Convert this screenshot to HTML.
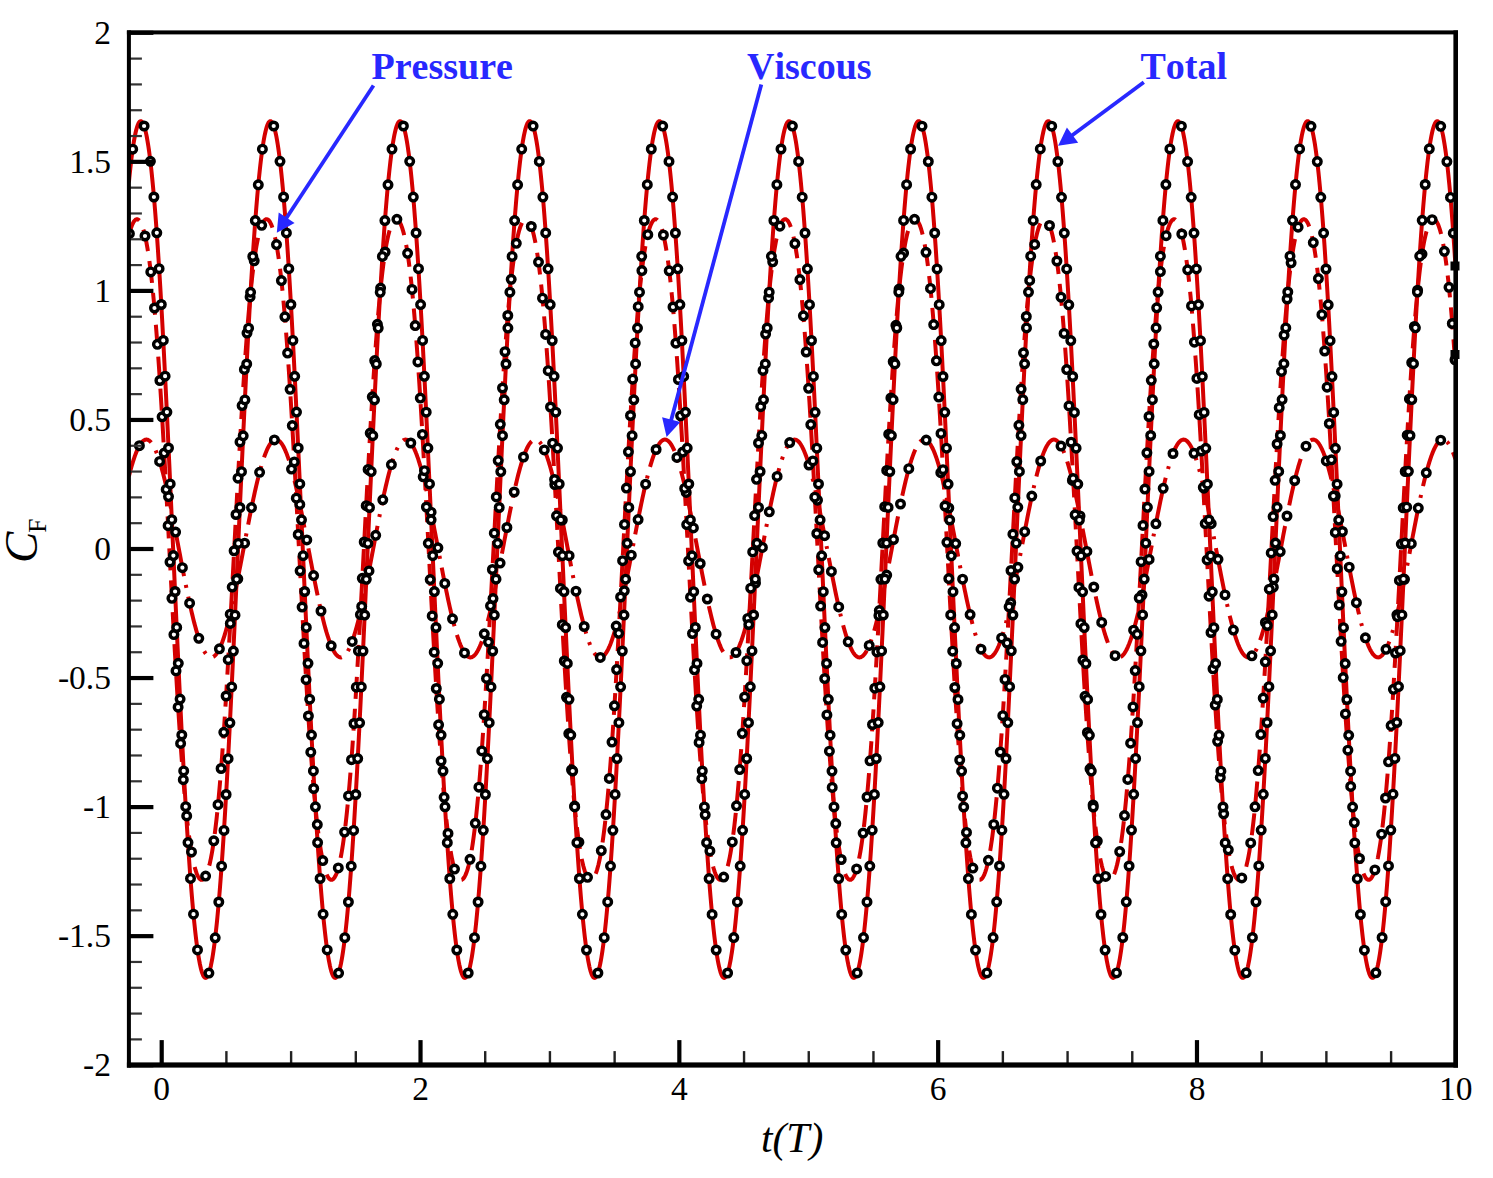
<!DOCTYPE html>
<html><head><meta charset="utf-8"><style>
html,body{margin:0;padding:0;background:#fff;}
body{width:1493px;height:1178px;position:relative;overflow:hidden;font-family:"Liberation Serif",serif;}
.yl{position:absolute;right:1382px;width:80px;text-align:right;font-size:33.5px;line-height:0;color:#000;}
.xl{position:absolute;top:1089px;width:200px;text-align:center;font-size:33.5px;line-height:0;color:#000;}
.ann{position:absolute;font-kerning:none;font-weight:bold;font-size:38.0px;line-height:0;color:#2828ff;letter-spacing:0px;}
</style></head><body>
<svg width="1493" height="1178" viewBox="0 0 1493 1178" style="position:absolute;left:0;top:0;filter:blur(0.5px)">
<defs><clipPath id="cp"><rect x="128.9" y="32.4" width="1326.7" height="1032.2"/></clipPath></defs>
<g id="plotall">
<g clip-path="url(#cp)">
<path d="M128.9 476.3L129.4 474.3L129.9 472.4L130.4 470.5L130.9 468.7L131.4 467.0L131.9 465.2L132.4 463.6L132.9 461.9L133.4 460.4L133.9 458.8L134.4 457.4L134.9 455.9L135.4 454.6L135.9 453.3L136.4 452.0L136.9 450.8L137.4 449.7L137.9 448.6L138.4 447.6L138.9 446.6L139.4 445.7L139.9 444.9L140.4 444.1L140.9 443.4L141.4 442.7L141.9 442.1L142.4 441.6L142.9 441.1L143.4 440.7L143.9 440.4L144.4 440.1L144.9 439.9L145.4 439.7L145.9 439.6L146.4 439.6L146.9 439.6L147.4 439.7L147.9 439.9L148.4 440.1L148.9 440.4L149.4 440.8L149.9 441.2L150.4 441.7L150.9 442.2L151.4 442.8L151.9 443.5L152.4 444.3L152.9 445.0L153.4 445.9L153.9 446.8L154.4 447.8L154.9 448.8L155.4 449.9L155.9 451.1L156.4 452.3L156.9 453.5L157.4 454.8L157.9 456.2L158.4 457.6L158.9 459.1L159.4 460.7L159.9 462.3L160.4 463.9L160.9 465.6L161.4 467.3L161.9 469.1L162.4 470.9L162.9 472.8L163.4 474.7L163.9 476.7L164.4 478.7L164.9 480.7L165.4 482.8L165.9 484.9L166.4 487.1L166.9 489.3L167.4 491.5L167.9 493.8L168.4 496.1L168.9 498.4L169.4 500.8L169.9 503.2L170.4 505.6L170.9 508.0L171.4 510.5L171.9 512.9L172.4 515.5L172.9 518.0L173.4 520.5L173.9 523.1L174.4 525.6L174.9 528.2L175.4 530.8L175.9 533.4L176.4 536.1L176.9 538.7L177.4 541.3L177.9 543.9L178.4 546.6L178.9 549.2L179.4 551.9L179.9 554.5L180.4 557.1L180.9 559.8L181.4 562.4L181.9 565.0L182.4 567.6L182.9 570.2L183.4 572.8L183.9 575.3L184.4 577.9L184.9 580.4L185.4 582.9L185.9 585.4L186.4 587.9L186.9 590.3L187.4 592.8L187.9 595.2L188.4 597.5L188.9 599.9L189.4 602.2L189.9 604.5L190.4 606.7L190.9 608.9L191.4 611.1L191.9 613.2L192.4 615.3L192.9 617.4L193.4 619.4L193.9 621.4L194.4 623.4L194.9 625.2L195.4 627.1L195.9 628.9L196.4 630.7L196.9 632.4L197.4 634.0L197.9 635.6L198.4 637.2L198.9 638.7L199.4 640.1L199.9 641.5L200.4 642.9L200.9 644.2L201.4 645.4L201.9 646.6L202.4 647.7L202.9 648.8L203.4 649.8L203.9 650.7L204.4 651.6L204.9 652.4L205.4 653.2L205.9 653.9L206.4 654.5L206.9 655.1L207.4 655.6L207.9 656.0L208.4 656.4L208.9 656.7L209.4 657.0L209.9 657.2L210.4 657.3L210.9 657.4L211.4 657.4L211.9 657.3L212.4 657.2L212.9 657.0L213.4 656.8L213.9 656.4L214.4 656.1L214.9 655.6L215.4 655.1L215.9 654.6L216.4 653.9L216.9 653.2L217.4 652.5L217.9 651.7L218.4 650.8L218.9 649.9L219.4 648.9L219.9 647.8L220.4 646.7L220.9 645.5L221.4 644.3L221.9 643.0L222.4 641.7L222.9 640.3L223.4 638.8L223.9 637.3L224.4 635.8L224.9 634.2L225.4 632.5L225.9 630.8L226.4 629.1L226.9 627.3L227.4 625.4L227.9 623.5L228.4 621.6L228.9 619.6L229.4 617.6L229.9 615.6L230.4 613.5L230.9 611.3L231.4 609.1L231.9 606.9L232.4 604.7L232.9 602.4L233.4 600.1L233.9 597.8L234.4 595.4L234.9 593.0L235.4 590.6L235.9 588.1L236.4 585.7L236.9 583.2L237.4 580.7L237.9 578.1L238.4 575.6L238.9 573.0L239.4 570.4L239.9 567.9L240.4 565.3L240.9 562.6L241.4 560.0L241.9 557.4L242.4 554.8L242.9 552.1L243.4 549.5L243.9 546.9L244.4 544.2L244.9 541.6L245.4 538.9L245.9 536.3L246.4 533.7L246.9 531.1L247.4 528.5L247.9 525.9L248.4 523.3L248.9 520.8L249.4 518.2L249.9 515.7L250.4 513.2L250.9 510.7L251.4 508.2L251.9 505.8L252.4 503.4L252.9 501.0L253.4 498.6L253.9 496.3L254.4 494.0L254.9 491.7L255.4 489.5L255.9 487.3L256.4 485.1L256.9 483.0L257.4 480.9L257.9 478.9L258.4 476.9L258.9 474.9L259.4 473.0L259.9 471.1L260.4 469.3L260.9 467.5L261.4 465.7L261.9 464.1L262.4 462.4L262.9 460.8L263.4 459.3L263.9 457.8L264.4 456.4L264.9 455.0L265.4 453.7L265.9 452.4L266.4 451.2L266.9 450.0L267.4 448.9L267.9 447.9L268.4 446.9L268.9 446.0L269.4 445.1L269.9 444.3L270.4 443.6L270.9 442.9L271.4 442.3L271.9 441.7L272.4 441.3L272.9 440.8L273.4 440.5L273.9 440.2L274.4 439.9L274.9 439.8L275.4 439.6L275.9 439.6L276.4 439.6L276.9 439.7L277.4 439.9L277.9 440.1L278.4 440.3L278.9 440.7L279.4 441.1L279.9 441.5L280.4 442.1L280.9 442.7L281.4 443.3L281.9 444.0L282.4 444.8L282.9 445.6L283.4 446.5L283.9 447.5L284.4 448.5L284.9 449.6L285.4 450.7L285.9 451.9L286.4 453.1L286.9 454.4L287.4 455.8L287.9 457.2L288.4 458.7L288.9 460.2L289.4 461.8L289.9 463.4L290.4 465.1L290.9 466.8L291.4 468.5L291.9 470.4L292.4 472.2L292.9 474.1L293.4 476.1L293.9 478.1L294.4 480.1L294.9 482.2L295.4 484.3L295.9 486.4L296.4 488.6L296.9 490.8L297.4 493.1L297.9 495.4L298.4 497.7L298.9 500.1L299.4 502.4L299.9 504.8L300.4 507.3L300.9 509.7L301.4 512.2L301.9 514.7L302.4 517.2L302.9 519.8L303.4 522.3L303.9 524.9L304.4 527.5L304.9 530.1L305.4 532.7L305.9 535.3L306.4 537.9L306.9 540.5L307.4 543.2L307.9 545.8L308.4 548.4L308.9 551.1L309.4 553.7L309.9 556.3L310.4 559.0L310.9 561.6L311.4 564.2L311.9 566.8L312.4 569.4L312.9 572.0L313.4 574.6L313.9 577.1L314.4 579.7L314.9 582.2L315.4 584.7L315.9 587.2L316.4 589.6L316.9 592.0L317.4 594.4L317.9 596.8L318.4 599.2L318.9 601.5L319.4 603.8L319.9 606.0L320.4 608.3L320.9 610.5L321.4 612.6L321.9 614.7L322.4 616.8L322.9 618.8L323.4 620.8L323.9 622.8L324.4 624.7L324.9 626.5L325.4 628.4L325.9 630.1L326.4 631.9L326.9 633.5L327.4 635.2L327.9 636.7L328.4 638.2L328.9 639.7L329.4 641.1L329.9 642.5L330.4 643.8L330.9 645.0L331.4 646.2L331.9 647.4L332.4 648.4L332.9 649.5L333.4 650.4L333.9 651.3L334.4 652.2L334.9 652.9L335.4 653.7L335.9 654.3L336.4 654.9L336.9 655.4L337.4 655.9L337.9 656.3L338.4 656.6L338.9 656.9L339.4 657.1L339.9 657.3L340.4 657.4L340.9 657.4L341.4 657.4L341.9 657.2L342.4 657.1L342.9 656.8L343.4 656.6L343.9 656.2L344.4 655.8L344.9 655.3L345.4 654.7L345.9 654.1L346.4 653.4L346.9 652.7L347.4 651.9L347.9 651.1L348.4 650.1L348.9 649.2L349.4 648.1L349.9 647.0L350.4 645.9L350.9 644.7L351.4 643.4L351.9 642.1L352.4 640.7L352.9 639.3L353.4 637.8L353.9 636.3L354.4 634.7L354.9 633.0L355.4 631.3L355.9 629.6L356.4 627.8L356.9 626.0L357.4 624.1L357.9 622.2L358.4 620.2L358.9 618.2L359.4 616.2L359.9 614.1L360.4 612.0L360.9 609.8L361.4 607.6L361.9 605.4L362.4 603.1L362.9 600.8L363.4 598.5L363.9 596.1L364.4 593.7L364.9 591.3L365.4 588.9L365.9 586.4L366.4 583.9L366.9 581.4L367.4 578.9L367.9 576.4L368.4 573.8L368.9 571.2L369.4 568.6L369.9 566.0L370.4 563.4L370.9 560.8L371.4 558.2L371.9 555.6L372.4 552.9L372.9 550.3L373.4 547.6L373.9 545.0L374.4 542.4L374.9 539.7L375.4 537.1L375.9 534.5L376.4 531.9L376.9 529.3L377.4 526.7L377.9 524.1L378.4 521.5L378.9 519.0L379.4 516.5L379.9 513.9L380.4 511.5L380.9 509.0L381.4 506.5L381.9 504.1L382.4 501.7L382.9 499.3L383.4 497.0L383.9 494.7L384.4 492.4L384.9 490.2L385.4 488.0L385.9 485.8L386.4 483.7L386.9 481.6L387.4 479.5L387.9 477.5L388.4 475.5L388.9 473.6L389.4 471.7L389.9 469.8L390.4 468.0L390.9 466.3L391.4 464.6L391.9 462.9L392.4 461.3L392.9 459.7L393.4 458.2L393.9 456.8L394.4 455.4L394.9 454.0L395.4 452.8L395.9 451.5L396.4 450.4L396.9 449.2L397.4 448.2L397.9 447.2L398.4 446.3L398.9 445.4L399.4 444.6L399.9 443.8L400.4 443.1L400.9 442.5L401.4 441.9L401.9 441.4L402.4 441.0L402.9 440.6L403.4 440.2L403.9 440.0L404.4 439.8L404.9 439.7L405.4 439.6L405.9 439.6L406.4 439.7L406.9 439.8L407.4 440.0L407.9 440.2L408.4 440.6L408.9 441.0L409.4 441.4L409.9 441.9L410.4 442.5L410.9 443.1L411.4 443.8L411.9 444.6L412.4 445.4L412.9 446.3L413.4 447.2L413.9 448.2L414.4 449.2L414.9 450.4L415.4 451.5L415.9 452.8L416.4 454.0L416.9 455.4L417.4 456.8L417.9 458.2L418.4 459.7L418.9 461.3L419.4 462.9L419.9 464.6L420.4 466.3L420.9 468.0L421.4 469.8L421.9 471.7L422.4 473.6L422.9 475.5L423.4 477.5L423.9 479.5L424.4 481.6L424.9 483.7L425.4 485.8L425.9 488.0L426.4 490.2L426.9 492.4L427.4 494.7L427.9 497.0L428.4 499.3L428.9 501.7L429.4 504.1L429.9 506.5L430.4 509.0L430.9 511.5L431.4 513.9L431.9 516.5L432.4 519.0L432.9 521.5L433.4 524.1L433.9 526.7L434.4 529.3L434.9 531.9L435.4 534.5L435.9 537.1L436.4 539.7L436.9 542.4L437.4 545.0L437.9 547.6L438.4 550.3L438.9 552.9L439.4 555.6L439.9 558.2L440.4 560.8L440.9 563.4L441.4 566.0L441.9 568.6L442.4 571.2L442.9 573.8L443.4 576.4L443.9 578.9L444.4 581.4L444.9 583.9L445.4 586.4L445.9 588.9L446.4 591.3L446.9 593.7L447.4 596.1L447.9 598.5L448.4 600.8L448.9 603.1L449.4 605.4L449.9 607.6L450.4 609.8L450.9 612.0L451.4 614.1L451.9 616.2L452.4 618.2L452.9 620.2L453.4 622.2L453.9 624.1L454.4 626.0L454.9 627.8L455.4 629.6L455.9 631.3L456.4 633.0L456.9 634.7L457.4 636.3L457.9 637.8L458.4 639.3L458.9 640.7L459.4 642.1L459.9 643.4L460.4 644.7L460.9 645.9L461.4 647.0L461.9 648.1L462.4 649.2L462.9 650.1L463.4 651.1L463.9 651.9L464.4 652.7L464.9 653.4L465.4 654.1L465.9 654.7L466.4 655.3L466.9 655.8L467.4 656.2L467.9 656.6L468.4 656.8L468.9 657.1L469.4 657.2L469.9 657.4L470.4 657.4L470.9 657.4L471.4 657.3L471.9 657.1L472.4 656.9L472.9 656.6L473.4 656.3L473.9 655.9L474.4 655.4L474.9 654.9L475.4 654.3L475.9 653.7L476.4 652.9L476.9 652.2L477.4 651.3L477.9 650.4L478.4 649.5L478.9 648.4L479.4 647.4L479.9 646.2L480.4 645.0L480.9 643.8L481.4 642.5L481.9 641.1L482.4 639.7L482.9 638.2L483.4 636.7L483.9 635.2L484.4 633.5L484.9 631.9L485.4 630.1L485.9 628.4L486.4 626.5L486.9 624.7L487.4 622.8L487.9 620.8L488.4 618.8L488.9 616.8L489.4 614.7L489.9 612.6L490.4 610.5L490.9 608.3L491.4 606.0L491.9 603.8L492.4 601.5L492.9 599.2L493.4 596.8L493.9 594.4L494.4 592.0L494.9 589.6L495.4 587.2L495.9 584.7L496.4 582.2L496.9 579.7L497.4 577.1L497.9 574.6L498.4 572.0L498.9 569.4L499.4 566.8L499.9 564.2L500.4 561.6L500.9 559.0L501.4 556.3L501.9 553.7L502.4 551.1L502.9 548.4L503.4 545.8L503.9 543.2L504.4 540.5L504.9 537.9L505.4 535.3L505.9 532.7L506.4 530.1L506.9 527.5L507.4 524.9L507.9 522.3L508.4 519.8L508.9 517.2L509.4 514.7L509.9 512.2L510.4 509.7L510.9 507.3L511.4 504.8L511.9 502.4L512.4 500.1L512.9 497.7L513.4 495.4L513.9 493.1L514.4 490.8L514.9 488.6L515.4 486.4L515.9 484.3L516.4 482.2L516.9 480.1L517.4 478.1L517.9 476.1L518.4 474.1L518.9 472.2L519.4 470.4L519.9 468.5L520.4 466.8L520.9 465.1L521.4 463.4L521.9 461.8L522.4 460.2L522.9 458.7L523.4 457.2L523.9 455.8L524.4 454.4L524.9 453.1L525.4 451.9L525.9 450.7L526.4 449.6L526.9 448.5L527.4 447.5L527.9 446.5L528.4 445.6L528.9 444.8L529.4 444.0L529.9 443.3L530.4 442.7L530.9 442.1L531.4 441.5L531.9 441.1L532.4 440.7L532.9 440.3L533.4 440.1L533.9 439.9L534.4 439.7L534.9 439.6L535.4 439.6L535.9 439.6L536.4 439.8L536.9 439.9L537.4 440.2L537.9 440.5L538.4 440.8L538.9 441.3L539.4 441.7L539.9 442.3L540.4 442.9L540.9 443.6L541.4 444.3L541.9 445.1L542.4 446.0L542.9 446.9L543.4 447.9L543.9 448.9L544.4 450.0L544.9 451.2L545.4 452.4L545.9 453.7L546.4 455.0L546.9 456.4L547.4 457.8L547.9 459.3L548.4 460.8L548.9 462.4L549.4 464.1L549.9 465.7L550.4 467.5L550.9 469.3L551.4 471.1L551.9 473.0L552.4 474.9L552.9 476.9L553.4 478.9L553.9 480.9L554.4 483.0L554.9 485.1L555.4 487.3L555.9 489.5L556.4 491.7L556.9 494.0L557.4 496.3L557.9 498.6L558.4 501.0L558.9 503.4L559.4 505.8L559.9 508.2L560.4 510.7L560.9 513.2L561.4 515.7L561.9 518.2L562.4 520.8L562.9 523.3L563.4 525.9L563.9 528.5L564.4 531.1L564.9 533.7L565.4 536.3L565.9 538.9L566.4 541.6L566.9 544.2L567.4 546.9L567.9 549.5L568.4 552.1L568.9 554.8L569.4 557.4L569.9 560.0L570.4 562.6L570.9 565.3L571.4 567.9L571.9 570.4L572.4 573.0L572.9 575.6L573.4 578.1L573.9 580.7L574.4 583.2L574.9 585.7L575.4 588.1L575.9 590.6L576.4 593.0L576.9 595.4L577.4 597.8L577.9 600.1L578.4 602.4L578.9 604.7L579.4 606.9L579.9 609.1L580.4 611.3L580.9 613.5L581.4 615.6L581.9 617.6L582.4 619.6L582.9 621.6L583.4 623.5L583.9 625.4L584.4 627.3L584.9 629.1L585.4 630.8L585.9 632.5L586.4 634.2L586.9 635.8L587.4 637.3L587.9 638.8L588.4 640.3L588.9 641.7L589.4 643.0L589.9 644.3L590.4 645.5L590.9 646.7L591.4 647.8L591.9 648.9L592.4 649.9L592.9 650.8L593.4 651.7L593.9 652.5L594.4 653.2L594.9 653.9L595.4 654.6L595.9 655.1L596.4 655.6L596.9 656.1L597.4 656.4L597.9 656.8L598.4 657.0L598.9 657.2L599.4 657.3L599.9 657.4L600.4 657.4L600.9 657.3L601.4 657.2L601.9 657.0L602.4 656.7L602.9 656.4L603.4 656.0L603.9 655.6L604.4 655.1L604.9 654.5L605.4 653.9L605.9 653.2L606.4 652.4L606.9 651.6L607.4 650.7L607.9 649.8L608.4 648.8L608.9 647.7L609.4 646.6L609.9 645.4L610.4 644.2L610.9 642.9L611.4 641.5L611.9 640.1L612.4 638.7L612.9 637.2L613.4 635.6L613.9 634.0L614.4 632.4L614.9 630.7L615.4 628.9L615.9 627.1L616.4 625.2L616.9 623.4L617.4 621.4L617.9 619.4L618.4 617.4L618.9 615.3L619.4 613.2L619.9 611.1L620.4 608.9L620.9 606.7L621.4 604.5L621.9 602.2L622.4 599.9L622.9 597.5L623.4 595.2L623.9 592.8L624.4 590.3L624.9 587.9L625.4 585.4L625.9 582.9L626.4 580.4L626.9 577.9L627.4 575.3L627.9 572.8L628.4 570.2L628.9 567.6L629.4 565.0L629.9 562.4L630.4 559.8L630.9 557.1L631.4 554.5L631.9 551.9L632.4 549.2L632.9 546.6L633.4 543.9L633.9 541.3L634.4 538.7L634.9 536.1L635.4 533.4L635.9 530.8L636.4 528.2L636.9 525.6L637.4 523.1L637.9 520.5L638.4 518.0L638.9 515.5L639.4 512.9L639.9 510.5L640.4 508.0L640.9 505.6L641.4 503.2L641.9 500.8L642.4 498.4L642.9 496.1L643.4 493.8L643.9 491.5L644.4 489.3L644.9 487.1L645.4 484.9L645.9 482.8L646.4 480.7L646.9 478.7L647.4 476.7L647.9 474.7L648.4 472.8L648.9 470.9L649.4 469.1L649.9 467.3L650.4 465.6L650.9 463.9L651.4 462.3L651.9 460.7L652.4 459.1L652.9 457.6L653.4 456.2L653.9 454.8L654.4 453.5L654.9 452.3L655.4 451.1L655.9 449.9L656.4 448.8L656.9 447.8L657.4 446.8L657.9 445.9L658.4 445.0L658.9 444.3L659.4 443.5L659.9 442.8L660.4 442.2L660.9 441.7L661.4 441.2L661.9 440.8L662.4 440.4L662.9 440.1L663.4 439.9L663.9 439.7L664.4 439.6L664.9 439.6L665.4 439.6L665.9 439.7L666.4 439.9L666.9 440.1L667.4 440.4L667.9 440.7L668.4 441.1L668.9 441.6L669.4 442.1L669.9 442.7L670.4 443.4L670.9 444.1L671.4 444.9L671.9 445.7L672.4 446.6L672.9 447.6L673.4 448.6L673.9 449.7L674.4 450.8L674.9 452.0L675.4 453.3L675.9 454.6L676.4 455.9L676.9 457.4L677.4 458.8L677.9 460.4L678.4 461.9L678.9 463.6L679.4 465.2L679.9 467.0L680.4 468.7L680.9 470.5L681.4 472.4L681.9 474.3L682.4 476.3L682.9 478.3L683.4 480.3L683.9 482.4L684.4 484.5L684.9 486.7L685.4 488.8L685.9 491.1L686.4 493.3L686.9 495.6L687.4 497.9L687.9 500.3L688.4 502.7L688.9 505.1L689.4 507.5L689.9 510.0L690.4 512.4L690.9 514.9L691.4 517.5L691.9 520.0L692.4 522.6L692.9 525.1L693.4 527.7L693.9 530.3L694.4 532.9L694.9 535.5L695.4 538.2L695.9 540.8L696.4 543.4L696.9 546.1L697.4 548.7L697.9 551.3L698.4 554.0L698.9 556.6L699.4 559.2L699.9 561.9L700.4 564.5L700.9 567.1L701.4 569.7L701.9 572.3L702.4 574.8L702.9 577.4L703.4 579.9L703.9 582.4L704.4 584.9L704.9 587.4L705.4 589.9L705.9 592.3L706.4 594.7L706.9 597.1L707.4 599.4L707.9 601.7L708.4 604.0L708.9 606.3L709.4 608.5L709.9 610.7L710.4 612.8L710.9 614.9L711.4 617.0L711.9 619.0L712.4 621.0L712.9 623.0L713.4 624.9L713.9 626.7L714.4 628.5L714.9 630.3L715.4 632.0L715.9 633.7L716.4 635.3L716.9 636.9L717.4 638.4L717.9 639.9L718.4 641.3L718.9 642.6L719.4 643.9L719.9 645.2L720.4 646.3L720.9 647.5L721.4 648.6L721.9 649.6L722.4 650.5L722.9 651.4L723.4 652.2L723.9 653.0L724.4 653.7L724.9 654.4L725.4 655.0L725.9 655.5L726.4 655.9L726.9 656.3L727.4 656.7L727.9 656.9L728.4 657.2L728.9 657.3L729.4 657.4L729.9 657.4L730.4 657.3L730.9 657.2L731.4 657.1L731.9 656.8L732.4 656.5L732.9 656.2L733.4 655.7L733.9 655.2L734.4 654.7L734.9 654.1L735.4 653.4L735.9 652.6L736.4 651.8L736.9 651.0L737.4 650.0L737.9 649.1L738.4 648.0L738.9 646.9L739.4 645.8L739.9 644.5L740.4 643.3L740.9 641.9L741.4 640.6L741.9 639.1L742.4 637.6L742.9 636.1L743.4 634.5L743.9 632.9L744.4 631.2L744.9 629.4L745.4 627.6L745.9 625.8L746.4 623.9L746.9 622.0L747.4 620.0L747.9 618.0L748.4 616.0L748.9 613.9L749.4 611.7L749.9 609.6L750.4 607.4L750.9 605.1L751.4 602.9L751.9 600.6L752.4 598.2L752.9 595.9L753.4 593.5L753.9 591.1L754.4 588.6L754.9 586.2L755.4 583.7L755.9 581.2L756.4 578.6L756.9 576.1L757.4 573.5L757.9 571.0L758.4 568.4L758.9 565.8L759.4 563.2L759.9 560.5L760.4 557.9L760.9 555.3L761.4 552.7L761.9 550.0L762.4 547.4L762.9 544.7L763.4 542.1L763.9 539.5L764.4 536.8L764.9 534.2L765.4 531.6L765.9 529.0L766.4 526.4L766.9 523.8L767.4 521.3L767.9 518.7L768.4 516.2L768.9 513.7L769.4 511.2L769.9 508.7L770.4 506.3L770.9 503.9L771.4 501.5L771.9 499.1L772.4 496.8L772.9 494.5L773.4 492.2L773.9 490.0L774.4 487.7L774.9 485.6L775.4 483.4L775.9 481.3L776.4 479.3L776.9 477.3L777.4 475.3L777.9 473.4L778.4 471.5L778.9 469.6L779.4 467.8L779.9 466.1L780.4 464.4L780.9 462.7L781.4 461.1L781.9 459.6L782.4 458.1L782.9 456.6L783.4 455.3L783.9 453.9L784.4 452.6L784.9 451.4L785.4 450.2L785.9 449.1L786.4 448.1L786.9 447.1L787.4 446.2L787.9 445.3L788.4 444.5L788.9 443.7L789.4 443.0L789.9 442.4L790.4 441.9L790.9 441.3L791.4 440.9L791.9 440.5L792.4 440.2L792.9 440.0L793.4 439.8L793.9 439.7L794.4 439.6L794.9 439.6L795.4 439.7L795.9 439.8L796.4 440.0L796.9 440.3L797.4 440.6L797.9 441.0L798.4 441.4L798.9 442.0L799.4 442.5L799.9 443.2L800.4 443.9L800.9 444.6L801.4 445.5L801.9 446.3L802.4 447.3L802.9 448.3L803.4 449.4L803.9 450.5L804.4 451.7L804.9 452.9L805.4 454.2L805.9 455.5L806.4 456.9L806.9 458.4L807.4 459.9L807.9 461.5L808.4 463.1L808.9 464.7L809.4 466.4L809.9 468.2L810.4 470.0L810.9 471.8L811.4 473.7L811.9 475.7L812.4 477.7L812.9 479.7L813.4 481.8L813.9 483.9L814.4 486.0L814.9 488.2L815.4 490.4L815.9 492.6L816.4 494.9L816.9 497.2L817.4 499.6L817.9 502.0L818.4 504.4L818.9 506.8L819.4 509.2L819.9 511.7L820.4 514.2L820.9 516.7L821.4 519.2L821.9 521.8L822.4 524.4L822.9 526.9L823.4 529.5L823.9 532.1L824.4 534.7L824.9 537.4L825.4 540.0L825.9 542.6L826.4 545.3L826.9 547.9L827.4 550.5L827.9 553.2L828.4 555.8L828.9 558.4L829.4 561.1L829.9 563.7L830.4 566.3L830.9 568.9L831.4 571.5L831.9 574.1L832.4 576.6L832.9 579.2L833.4 581.7L833.9 584.2L834.4 586.7L834.9 589.1L835.4 591.6L835.9 594.0L836.4 596.4L836.9 598.7L837.4 601.0L837.9 603.3L838.4 605.6L838.9 607.8L839.4 610.0L839.9 612.2L840.4 614.3L840.9 616.4L841.4 618.4L841.9 620.4L842.4 622.4L842.9 624.3L843.4 626.2L843.9 628.0L844.4 629.8L844.9 631.5L845.4 633.2L845.9 634.8L846.4 636.4L846.9 637.9L847.4 639.4L847.9 640.8L848.4 642.2L848.9 643.5L849.4 644.8L849.9 646.0L850.4 647.1L850.9 648.2L851.4 649.3L851.9 650.2L852.4 651.1L852.9 652.0L853.4 652.8L853.9 653.5L854.4 654.2L854.9 654.8L855.4 655.3L855.9 655.8L856.4 656.2L856.9 656.6L857.4 656.9L857.9 657.1L858.4 657.3L858.9 657.4L859.4 657.4L859.9 657.4L860.4 657.3L860.9 657.1L861.4 656.9L861.9 656.6L862.4 656.3L862.9 655.9L863.4 655.4L863.9 654.8L864.4 654.2L864.9 653.6L865.4 652.9L865.9 652.1L866.4 651.2L866.9 650.3L867.4 649.4L867.9 648.3L868.4 647.3L868.9 646.1L869.4 644.9L869.9 643.7L870.4 642.4L870.9 641.0L871.4 639.6L871.9 638.1L872.4 636.6L872.9 635.0L873.4 633.4L873.9 631.7L874.4 630.0L874.9 628.2L875.4 626.4L875.9 624.5L876.4 622.6L876.9 620.6L877.4 618.6L877.9 616.6L878.4 614.5L878.9 612.4L879.4 610.2L879.9 608.0L880.4 605.8L880.9 603.6L881.4 601.3L881.9 598.9L882.4 596.6L882.9 594.2L883.4 591.8L883.9 589.4L884.4 586.9L884.9 584.4L885.4 581.9L885.9 579.4L886.4 576.9L886.9 574.3L887.4 571.7L887.9 569.2L888.4 566.6L888.9 564.0L889.4 561.3L889.9 558.7L890.4 556.1L890.9 553.4L891.4 550.8L891.9 548.2L892.4 545.5L892.9 542.9L893.4 540.3L893.9 537.6L894.4 535.0L894.9 532.4L895.4 529.8L895.9 527.2L896.4 524.6L896.9 522.1L897.4 519.5L897.9 517.0L898.4 514.4L898.9 512.0L899.4 509.5L899.9 507.0L900.4 504.6L900.9 502.2L901.4 499.8L901.9 497.5L902.4 495.2L902.9 492.9L903.4 490.6L903.9 488.4L904.4 486.2L904.9 484.1L905.4 482.0L905.9 479.9L906.4 477.9L906.9 475.9L907.4 473.9L907.9 472.0L908.4 470.2L908.9 468.4L909.4 466.6L909.9 464.9L910.4 463.2L910.9 461.6L911.4 460.0L911.9 458.5L912.4 457.1L912.9 455.7L913.4 454.3L913.9 453.0L914.4 451.8L914.9 450.6L915.4 449.5L915.9 448.4L916.4 447.4L916.9 446.4L917.4 445.5L917.9 444.7L918.4 444.0L918.9 443.2L919.4 442.6L919.9 442.0L920.4 441.5L920.9 441.0L921.4 440.6L921.9 440.3L922.4 440.0L922.9 439.8L923.4 439.7L923.9 439.6L924.4 439.6L924.9 439.7L925.4 439.8L925.9 440.0L926.4 440.2L926.9 440.5L927.4 440.9L927.9 441.3L928.4 441.8L928.9 442.4L929.4 443.0L929.9 443.7L930.4 444.4L930.9 445.2L931.4 446.1L931.9 447.0L932.4 448.0L932.9 449.0L933.4 450.1L933.9 451.3L934.4 452.5L934.9 453.8L935.4 455.1L935.9 456.5L936.4 457.9L936.9 459.4L937.4 461.0L937.9 462.6L938.4 464.2L938.9 465.9L939.4 467.7L939.9 469.5L940.4 471.3L940.9 473.2L941.4 475.1L941.9 477.1L942.4 479.1L942.9 481.1L943.4 483.2L943.9 485.4L944.4 487.5L944.9 489.7L945.4 492.0L945.9 494.2L946.4 496.5L946.9 498.9L947.4 501.2L947.9 503.6L948.4 506.1L948.9 508.5L949.4 511.0L949.9 513.4L950.4 516.0L950.9 518.5L951.4 521.0L951.9 523.6L952.4 526.2L952.9 528.8L953.4 531.4L953.9 534.0L954.4 536.6L954.9 539.2L955.4 541.8L955.9 544.5L956.4 547.1L956.9 549.8L957.4 552.4L957.9 555.0L958.4 557.7L958.9 560.3L959.4 562.9L959.9 565.5L960.4 568.1L960.9 570.7L961.4 573.3L961.9 575.8L962.4 578.4L962.9 580.9L963.4 583.4L963.9 585.9L964.4 588.4L964.9 590.8L965.4 593.2L965.9 595.6L966.4 598.0L966.9 600.3L967.4 602.6L967.9 604.9L968.4 607.2L968.9 609.4L969.4 611.5L969.9 613.7L970.4 615.8L970.9 617.8L971.4 619.8L971.9 621.8L972.4 623.7L972.9 625.6L973.4 627.5L973.9 629.3L974.4 631.0L974.9 632.7L975.4 634.3L975.9 635.9L976.4 637.5L976.9 639.0L977.4 640.4L977.9 641.8L978.4 643.1L978.9 644.4L979.4 645.6L979.9 646.8L980.4 647.9L980.9 649.0L981.4 650.0L981.9 650.9L982.4 651.7L982.9 652.6L983.4 653.3L983.9 654.0L984.4 654.6L984.9 655.2L985.4 655.7L985.9 656.1L986.4 656.5L986.9 656.8L987.4 657.0L987.9 657.2L988.4 657.3L988.9 657.4L989.4 657.4L989.9 657.3L990.4 657.2L990.9 657.0L991.4 656.7L991.9 656.4L992.4 656.0L992.9 655.5L993.4 655.0L993.9 654.4L994.4 653.8L994.9 653.1L995.4 652.3L995.9 651.5L996.4 650.6L996.9 649.7L997.4 648.7L997.9 647.6L998.4 646.5L998.9 645.3L999.4 644.0L999.9 642.8L1000.4 641.4L1000.9 640.0L1001.4 638.5L1001.9 637.0L1002.4 635.5L1002.9 633.9L1003.4 632.2L1003.9 630.5L1004.4 628.7L1004.9 626.9L1005.4 625.1L1005.9 623.2L1006.4 621.2L1006.9 619.2L1007.4 617.2L1007.9 615.1L1008.4 613.0L1008.9 610.9L1009.4 608.7L1009.9 606.5L1010.4 604.2L1010.9 602.0L1011.4 599.6L1011.9 597.3L1012.4 594.9L1012.9 592.5L1013.4 590.1L1013.9 587.6L1014.4 585.2L1014.9 582.7L1015.4 580.2L1015.9 577.6L1016.4 575.1L1016.9 572.5L1017.4 569.9L1017.9 567.3L1018.4 564.7L1018.9 562.1L1019.4 559.5L1019.9 556.9L1020.4 554.2L1020.9 551.6L1021.4 549.0L1021.9 546.3L1022.4 543.7L1022.9 541.1L1023.4 538.4L1023.9 535.8L1024.4 533.2L1024.9 530.6L1025.4 528.0L1025.9 525.4L1026.4 522.8L1026.9 520.3L1027.4 517.7L1027.9 515.2L1028.4 512.7L1028.9 510.2L1029.4 507.8L1029.9 505.3L1030.4 502.9L1030.9 500.5L1031.4 498.2L1031.9 495.9L1032.4 493.6L1032.9 491.3L1033.4 489.1L1033.9 486.9L1034.4 484.7L1034.9 482.6L1035.4 480.5L1035.9 478.5L1036.4 476.5L1036.9 474.5L1037.4 472.6L1037.9 470.7L1038.4 468.9L1038.9 467.1L1039.4 465.4L1039.9 463.7L1040.4 462.1L1040.9 460.5L1041.4 459.0L1041.9 457.5L1042.4 456.1L1042.9 454.7L1043.4 453.4L1043.9 452.1L1044.4 450.9L1044.9 449.8L1045.4 448.7L1045.9 447.7L1046.4 446.7L1046.9 445.8L1047.4 445.0L1047.9 444.2L1048.4 443.4L1048.9 442.8L1049.4 442.2L1049.9 441.6L1050.4 441.2L1050.9 440.8L1051.4 440.4L1051.9 440.1L1052.4 439.9L1052.9 439.7L1053.4 439.6L1053.9 439.6L1054.4 439.6L1054.9 439.7L1055.4 439.9L1055.9 440.1L1056.4 440.4L1056.9 440.8L1057.4 441.2L1057.9 441.6L1058.4 442.2L1058.9 442.8L1059.4 443.4L1059.9 444.2L1060.4 445.0L1060.9 445.8L1061.4 446.7L1061.9 447.7L1062.4 448.7L1062.9 449.8L1063.4 450.9L1063.9 452.1L1064.4 453.4L1064.9 454.7L1065.4 456.1L1065.9 457.5L1066.4 459.0L1066.9 460.5L1067.4 462.1L1067.9 463.7L1068.4 465.4L1068.9 467.1L1069.4 468.9L1069.9 470.7L1070.4 472.6L1070.9 474.5L1071.4 476.5L1071.9 478.5L1072.4 480.5L1072.9 482.6L1073.4 484.7L1073.9 486.9L1074.4 489.1L1074.9 491.3L1075.4 493.6L1075.9 495.9L1076.4 498.2L1076.9 500.5L1077.4 502.9L1077.9 505.3L1078.4 507.8L1078.9 510.2L1079.4 512.7L1079.9 515.2L1080.4 517.7L1080.9 520.3L1081.4 522.8L1081.9 525.4L1082.4 528.0L1082.9 530.6L1083.4 533.2L1083.9 535.8L1084.4 538.4L1084.9 541.1L1085.4 543.7L1085.9 546.3L1086.4 549.0L1086.9 551.6L1087.4 554.2L1087.9 556.9L1088.4 559.5L1088.9 562.1L1089.4 564.7L1089.9 567.3L1090.4 569.9L1090.9 572.5L1091.4 575.1L1091.9 577.6L1092.4 580.2L1092.9 582.7L1093.4 585.2L1093.9 587.6L1094.4 590.1L1094.9 592.5L1095.4 594.9L1095.9 597.3L1096.4 599.6L1096.9 602.0L1097.4 604.2L1097.9 606.5L1098.4 608.7L1098.9 610.9L1099.4 613.0L1099.9 615.1L1100.4 617.2L1100.9 619.2L1101.4 621.2L1101.9 623.2L1102.4 625.1L1102.9 626.9L1103.4 628.7L1103.9 630.5L1104.4 632.2L1104.9 633.9L1105.4 635.5L1105.9 637.0L1106.4 638.5L1106.9 640.0L1107.4 641.4L1107.9 642.8L1108.4 644.0L1108.9 645.3L1109.4 646.5L1109.9 647.6L1110.4 648.7L1110.9 649.7L1111.4 650.6L1111.9 651.5L1112.4 652.3L1112.9 653.1L1113.4 653.8L1113.9 654.4L1114.4 655.0L1114.9 655.5L1115.4 656.0L1115.9 656.4L1116.4 656.7L1116.9 657.0L1117.4 657.2L1117.9 657.3L1118.4 657.4L1118.9 657.4L1119.4 657.3L1119.9 657.2L1120.4 657.0L1120.9 656.8L1121.4 656.5L1121.9 656.1L1122.4 655.7L1122.9 655.2L1123.4 654.6L1123.9 654.0L1124.4 653.3L1124.9 652.6L1125.4 651.7L1125.9 650.9L1126.4 650.0L1126.9 649.0L1127.4 647.9L1127.9 646.8L1128.4 645.6L1128.9 644.4L1129.4 643.1L1129.9 641.8L1130.4 640.4L1130.9 639.0L1131.4 637.5L1131.9 635.9L1132.4 634.3L1132.9 632.7L1133.4 631.0L1133.9 629.3L1134.4 627.5L1134.9 625.6L1135.4 623.7L1135.9 621.8L1136.4 619.8L1136.9 617.8L1137.4 615.8L1137.9 613.7L1138.4 611.5L1138.9 609.4L1139.4 607.2L1139.9 604.9L1140.4 602.6L1140.9 600.3L1141.4 598.0L1141.9 595.6L1142.4 593.2L1142.9 590.8L1143.4 588.4L1143.9 585.9L1144.4 583.4L1144.9 580.9L1145.4 578.4L1145.9 575.8L1146.4 573.3L1146.9 570.7L1147.4 568.1L1147.9 565.5L1148.4 562.9L1148.9 560.3L1149.4 557.7L1149.9 555.0L1150.4 552.4L1150.9 549.8L1151.4 547.1L1151.9 544.5L1152.4 541.8L1152.9 539.2L1153.4 536.6L1153.9 534.0L1154.4 531.4L1154.9 528.8L1155.4 526.2L1155.9 523.6L1156.4 521.0L1156.9 518.5L1157.4 516.0L1157.9 513.4L1158.4 511.0L1158.9 508.5L1159.4 506.1L1159.9 503.6L1160.4 501.2L1160.9 498.9L1161.4 496.5L1161.9 494.2L1162.4 492.0L1162.9 489.7L1163.4 487.5L1163.9 485.4L1164.4 483.2L1164.9 481.1L1165.4 479.1L1165.9 477.1L1166.4 475.1L1166.9 473.2L1167.4 471.3L1167.9 469.5L1168.4 467.7L1168.9 465.9L1169.4 464.2L1169.9 462.6L1170.4 461.0L1170.9 459.4L1171.4 457.9L1171.9 456.5L1172.4 455.1L1172.9 453.8L1173.4 452.5L1173.9 451.3L1174.4 450.1L1174.9 449.0L1175.4 448.0L1175.9 447.0L1176.4 446.1L1176.9 445.2L1177.4 444.4L1177.9 443.7L1178.4 443.0L1178.9 442.4L1179.4 441.8L1179.9 441.3L1180.4 440.9L1180.9 440.5L1181.4 440.2L1181.9 440.0L1182.4 439.8L1182.9 439.7L1183.4 439.6L1183.9 439.6L1184.4 439.7L1184.9 439.8L1185.4 440.0L1185.9 440.3L1186.4 440.6L1186.9 441.0L1187.4 441.5L1187.9 442.0L1188.4 442.6L1188.9 443.2L1189.4 444.0L1189.9 444.7L1190.4 445.5L1190.9 446.4L1191.4 447.4L1191.9 448.4L1192.4 449.5L1192.9 450.6L1193.4 451.8L1193.9 453.0L1194.4 454.3L1194.9 455.7L1195.4 457.1L1195.9 458.5L1196.4 460.0L1196.9 461.6L1197.4 463.2L1197.9 464.9L1198.4 466.6L1198.9 468.4L1199.4 470.2L1199.9 472.0L1200.4 473.9L1200.9 475.9L1201.4 477.9L1201.9 479.9L1202.4 482.0L1202.9 484.1L1203.4 486.2L1203.9 488.4L1204.4 490.6L1204.9 492.9L1205.4 495.2L1205.9 497.5L1206.4 499.8L1206.9 502.2L1207.4 504.6L1207.9 507.0L1208.4 509.5L1208.9 512.0L1209.4 514.4L1209.9 517.0L1210.4 519.5L1210.9 522.1L1211.4 524.6L1211.9 527.2L1212.4 529.8L1212.9 532.4L1213.4 535.0L1213.9 537.6L1214.4 540.3L1214.9 542.9L1215.4 545.5L1215.9 548.2L1216.4 550.8L1216.9 553.4L1217.4 556.1L1217.9 558.7L1218.4 561.3L1218.9 564.0L1219.4 566.6L1219.9 569.2L1220.4 571.7L1220.9 574.3L1221.4 576.9L1221.9 579.4L1222.4 581.9L1222.9 584.4L1223.4 586.9L1223.9 589.4L1224.4 591.8L1224.9 594.2L1225.4 596.6L1225.9 598.9L1226.4 601.3L1226.9 603.6L1227.4 605.8L1227.9 608.0L1228.4 610.2L1228.9 612.4L1229.4 614.5L1229.9 616.6L1230.4 618.6L1230.9 620.6L1231.4 622.6L1231.9 624.5L1232.4 626.4L1232.9 628.2L1233.4 630.0L1233.9 631.7L1234.4 633.4L1234.9 635.0L1235.4 636.6L1235.9 638.1L1236.4 639.6L1236.9 641.0L1237.4 642.4L1237.9 643.7L1238.4 644.9L1238.9 646.1L1239.4 647.3L1239.9 648.3L1240.4 649.4L1240.9 650.3L1241.4 651.2L1241.9 652.1L1242.4 652.9L1242.9 653.6L1243.4 654.2L1243.9 654.8L1244.4 655.4L1244.9 655.9L1245.4 656.3L1245.9 656.6L1246.4 656.9L1246.9 657.1L1247.4 657.3L1247.9 657.4L1248.4 657.4L1248.9 657.4L1249.4 657.3L1249.9 657.1L1250.4 656.9L1250.9 656.6L1251.4 656.2L1251.9 655.8L1252.4 655.3L1252.9 654.8L1253.4 654.2L1253.9 653.5L1254.4 652.8L1254.9 652.0L1255.4 651.1L1255.9 650.2L1256.4 649.3L1256.9 648.2L1257.4 647.1L1257.9 646.0L1258.4 644.8L1258.9 643.5L1259.4 642.2L1259.9 640.8L1260.4 639.4L1260.9 637.9L1261.4 636.4L1261.9 634.8L1262.4 633.2L1262.9 631.5L1263.4 629.8L1263.9 628.0L1264.4 626.2L1264.9 624.3L1265.4 622.4L1265.9 620.4L1266.4 618.4L1266.9 616.4L1267.4 614.3L1267.9 612.2L1268.4 610.0L1268.9 607.8L1269.4 605.6L1269.9 603.3L1270.4 601.0L1270.9 598.7L1271.4 596.4L1271.9 594.0L1272.4 591.6L1272.9 589.1L1273.4 586.7L1273.9 584.2L1274.4 581.7L1274.9 579.2L1275.4 576.6L1275.9 574.1L1276.4 571.5L1276.9 568.9L1277.4 566.3L1277.9 563.7L1278.4 561.1L1278.9 558.4L1279.4 555.8L1279.9 553.2L1280.4 550.5L1280.9 547.9L1281.4 545.3L1281.9 542.6L1282.4 540.0L1282.9 537.4L1283.4 534.7L1283.9 532.1L1284.4 529.5L1284.9 526.9L1285.4 524.4L1285.9 521.8L1286.4 519.2L1286.9 516.7L1287.4 514.2L1287.9 511.7L1288.4 509.2L1288.9 506.8L1289.4 504.4L1289.9 502.0L1290.4 499.6L1290.9 497.2L1291.4 494.9L1291.9 492.6L1292.4 490.4L1292.9 488.2L1293.4 486.0L1293.9 483.9L1294.4 481.8L1294.9 479.7L1295.4 477.7L1295.9 475.7L1296.4 473.7L1296.9 471.8L1297.4 470.0L1297.9 468.2L1298.4 466.4L1298.9 464.7L1299.4 463.1L1299.9 461.5L1300.4 459.9L1300.9 458.4L1301.4 456.9L1301.9 455.5L1302.4 454.2L1302.9 452.9L1303.4 451.7L1303.9 450.5L1304.4 449.4L1304.9 448.3L1305.4 447.3L1305.9 446.3L1306.4 445.5L1306.9 444.6L1307.4 443.9L1307.9 443.2L1308.4 442.5L1308.9 442.0L1309.4 441.4L1309.9 441.0L1310.4 440.6L1310.9 440.3L1311.4 440.0L1311.9 439.8L1312.4 439.7L1312.9 439.6L1313.4 439.6L1313.9 439.7L1314.4 439.8L1314.9 440.0L1315.4 440.2L1315.9 440.5L1316.4 440.9L1316.9 441.3L1317.4 441.9L1317.9 442.4L1318.4 443.0L1318.9 443.7L1319.4 444.5L1319.9 445.3L1320.4 446.2L1320.9 447.1L1321.4 448.1L1321.9 449.1L1322.4 450.2L1322.9 451.4L1323.4 452.6L1323.9 453.9L1324.4 455.3L1324.9 456.6L1325.4 458.1L1325.9 459.6L1326.4 461.1L1326.9 462.7L1327.4 464.4L1327.9 466.1L1328.4 467.8L1328.9 469.6L1329.4 471.5L1329.9 473.4L1330.4 475.3L1330.9 477.3L1331.4 479.3L1331.9 481.3L1332.4 483.4L1332.9 485.6L1333.4 487.7L1333.9 490.0L1334.4 492.2L1334.9 494.5L1335.4 496.8L1335.9 499.1L1336.4 501.5L1336.9 503.9L1337.4 506.3L1337.9 508.7L1338.4 511.2L1338.9 513.7L1339.4 516.2L1339.9 518.7L1340.4 521.3L1340.9 523.8L1341.4 526.4L1341.9 529.0L1342.4 531.6L1342.9 534.2L1343.4 536.8L1343.9 539.5L1344.4 542.1L1344.9 544.7L1345.4 547.4L1345.9 550.0L1346.4 552.7L1346.9 555.3L1347.4 557.9L1347.9 560.5L1348.4 563.2L1348.9 565.8L1349.4 568.4L1349.9 571.0L1350.4 573.5L1350.9 576.1L1351.4 578.6L1351.9 581.2L1352.4 583.7L1352.9 586.2L1353.4 588.6L1353.9 591.1L1354.4 593.5L1354.9 595.9L1355.4 598.2L1355.9 600.6L1356.4 602.9L1356.9 605.1L1357.4 607.4L1357.9 609.6L1358.4 611.7L1358.9 613.9L1359.4 616.0L1359.9 618.0L1360.4 620.0L1360.9 622.0L1361.4 623.9L1361.9 625.8L1362.4 627.6L1362.9 629.4L1363.4 631.2L1363.9 632.9L1364.4 634.5L1364.9 636.1L1365.4 637.6L1365.9 639.1L1366.4 640.6L1366.9 641.9L1367.4 643.3L1367.9 644.5L1368.4 645.8L1368.9 646.9L1369.4 648.0L1369.9 649.1L1370.4 650.0L1370.9 651.0L1371.4 651.8L1371.9 652.6L1372.4 653.4L1372.9 654.1L1373.4 654.7L1373.9 655.2L1374.4 655.7L1374.9 656.2L1375.4 656.5L1375.9 656.8L1376.4 657.1L1376.9 657.2L1377.4 657.3L1377.9 657.4L1378.4 657.4L1378.9 657.3L1379.4 657.2L1379.9 656.9L1380.4 656.7L1380.9 656.3L1381.4 655.9L1381.9 655.5L1382.4 655.0L1382.9 654.4L1383.4 653.7L1383.9 653.0L1384.4 652.2L1384.9 651.4L1385.4 650.5L1385.9 649.6L1386.4 648.6L1386.9 647.5L1387.4 646.3L1387.9 645.2L1388.4 643.9L1388.9 642.6L1389.4 641.3L1389.9 639.9L1390.4 638.4L1390.9 636.9L1391.4 635.3L1391.9 633.7L1392.4 632.0L1392.9 630.3L1393.4 628.5L1393.9 626.7L1394.4 624.9L1394.9 623.0L1395.4 621.0L1395.9 619.0L1396.4 617.0L1396.9 614.9L1397.4 612.8L1397.9 610.7L1398.4 608.5L1398.9 606.3L1399.4 604.0L1399.9 601.7L1400.4 599.4L1400.9 597.1L1401.4 594.7L1401.9 592.3L1402.4 589.9L1402.9 587.4L1403.4 584.9L1403.9 582.4L1404.4 579.9L1404.9 577.4L1405.4 574.8L1405.9 572.3L1406.4 569.7L1406.9 567.1L1407.4 564.5L1407.9 561.9L1408.4 559.2L1408.9 556.6L1409.4 554.0L1409.9 551.3L1410.4 548.7L1410.9 546.1L1411.4 543.4L1411.9 540.8L1412.4 538.2L1412.9 535.5L1413.4 532.9L1413.9 530.3L1414.4 527.7L1414.9 525.1L1415.4 522.6L1415.9 520.0L1416.4 517.5L1416.9 514.9L1417.4 512.4L1417.9 510.0L1418.4 507.5L1418.9 505.1L1419.4 502.7L1419.9 500.3L1420.4 497.9L1420.9 495.6L1421.4 493.3L1421.9 491.1L1422.4 488.8L1422.9 486.7L1423.4 484.5L1423.9 482.4L1424.4 480.3L1424.9 478.3L1425.4 476.3L1425.9 474.3L1426.4 472.4L1426.9 470.5L1427.4 468.7L1427.9 467.0L1428.4 465.2L1428.9 463.6L1429.4 461.9L1429.9 460.4L1430.4 458.8L1430.9 457.4L1431.4 455.9L1431.9 454.6L1432.4 453.3L1432.9 452.0L1433.4 450.8L1433.9 449.7L1434.4 448.6L1434.9 447.6L1435.4 446.6L1435.9 445.7L1436.4 444.9L1436.9 444.1L1437.4 443.4L1437.9 442.7L1438.4 442.1L1438.9 441.6L1439.4 441.1L1439.9 440.7L1440.4 440.4L1440.9 440.1L1441.4 439.9L1441.9 439.7L1442.4 439.6L1442.9 439.6L1443.4 439.6L1443.9 439.7L1444.4 439.9L1444.9 440.1L1445.4 440.4L1445.9 440.8L1446.4 441.2L1446.9 441.7L1447.4 442.2L1447.9 442.8L1448.4 443.5L1448.9 444.3L1449.4 445.0L1449.9 445.9L1450.4 446.8L1450.9 447.8L1451.4 448.8L1451.9 449.9L1452.4 451.1L1452.9 452.3L1453.4 453.5L1453.9 454.8L1454.4 456.2L1454.9 457.6L1455.4 459.1" fill="none" stroke="#d40000" stroke-width="4.0" stroke-linejoin="round" stroke-dasharray="48 9 3 9" stroke-dashoffset="0"/>
<path d="M128.9 235.8L129.4 233.7L129.9 231.8L130.4 230.0L130.9 228.4L131.4 226.9L131.9 225.5L132.4 224.3L132.9 223.3L133.4 222.3L133.9 221.5L134.4 220.8L134.9 220.3L135.4 219.8L135.9 219.5L136.4 219.3L136.9 219.2L137.4 219.3L137.9 219.4L138.4 219.7L138.9 220.2L139.4 220.7L139.9 221.4L140.4 222.1L140.9 223.1L141.4 224.1L141.9 225.3L142.4 226.6L142.9 228.1L143.4 229.7L143.9 231.4L144.4 233.3L144.9 235.3L145.4 237.5L145.9 239.9L146.4 242.4L146.9 245.1L147.4 247.9L147.9 251.0L148.4 254.2L148.9 257.6L149.4 261.1L149.9 264.9L150.4 268.8L150.9 273.0L151.4 277.3L151.9 281.8L152.4 286.5L152.9 291.5L153.4 296.6L153.9 301.9L154.4 307.5L154.9 313.2L155.4 319.1L155.9 325.3L156.4 331.6L156.9 338.1L157.4 344.8L157.9 351.8L158.4 358.9L158.9 366.2L159.4 373.6L159.9 381.3L160.4 389.1L160.9 397.1L161.4 405.2L161.9 413.5L162.4 421.9L162.9 430.5L163.4 439.2L163.9 448.0L164.4 456.9L164.9 466.0L165.4 475.1L165.9 484.3L166.4 493.6L166.9 502.9L167.4 512.3L167.9 521.8L168.4 531.2L168.9 540.7L169.4 550.2L169.9 559.7L170.4 569.2L170.9 578.7L171.4 588.1L171.9 597.5L172.4 606.9L172.9 616.1L173.4 625.3L173.9 634.4L174.4 643.5L174.9 652.4L175.4 661.2L175.9 669.9L176.4 678.4L176.9 686.8L177.4 695.1L177.9 703.2L178.4 711.2L178.9 719.0L179.4 726.6L179.9 734.0L180.4 741.3L180.9 748.4L181.4 755.2L181.9 761.9L182.4 768.4L182.9 774.7L183.4 780.8L183.9 786.7L184.4 792.4L184.9 797.9L185.4 803.2L185.9 808.3L186.4 813.2L186.9 817.9L187.4 822.4L187.9 826.7L188.4 830.8L188.9 834.8L189.4 838.5L189.9 842.0L190.4 845.4L190.9 848.6L191.4 851.6L191.9 854.4L192.4 857.0L192.9 859.5L193.4 861.9L193.9 864.0L194.4 866.1L194.9 867.9L195.4 869.7L195.9 871.2L196.4 872.7L196.9 874.0L197.4 875.1L197.9 876.1L198.4 877.0L198.9 877.8L199.4 878.5L199.9 879.0L200.4 879.4L200.9 879.7L201.4 879.8L201.9 879.8L202.4 879.7L202.9 879.5L203.4 879.2L203.9 878.7L204.4 878.2L204.9 877.4L205.4 876.6L205.9 875.7L206.4 874.6L206.9 873.3L207.4 872.0L207.9 870.5L208.4 868.8L208.9 867.0L209.4 865.1L209.9 863.0L210.4 860.7L210.9 858.3L211.4 855.7L211.9 853.0L212.4 850.1L212.9 847.0L213.4 843.7L213.9 840.3L214.4 836.6L214.9 832.8L215.4 828.8L215.9 824.6L216.4 820.2L216.9 815.6L217.4 810.8L217.9 805.8L218.4 800.6L218.9 795.2L219.4 789.6L219.9 783.8L220.4 777.8L220.9 771.6L221.4 765.2L221.9 758.6L222.4 751.8L222.9 744.8L223.4 737.7L223.9 730.3L224.4 722.8L224.9 715.1L225.4 707.2L225.9 699.2L226.4 691.0L226.9 682.6L227.4 674.2L227.9 665.5L228.4 656.8L228.9 647.9L229.4 639.0L229.9 629.9L230.4 620.7L230.9 611.5L231.4 602.2L231.9 592.8L232.4 583.4L232.9 574.0L233.4 564.5L233.9 555.0L234.4 545.5L234.9 536.0L235.4 526.5L235.9 517.1L236.4 507.6L236.9 498.3L237.4 488.9L237.9 479.7L238.4 470.5L238.9 461.4L239.4 452.5L239.9 443.6L240.4 434.8L240.9 426.2L241.4 417.7L241.9 409.3L242.4 401.1L242.9 393.1L243.4 385.2L243.9 377.4L244.4 369.9L244.9 362.5L245.4 355.3L245.9 348.3L246.4 341.5L246.9 334.8L247.4 328.4L247.9 322.2L248.4 316.1L248.9 310.3L249.4 304.7L249.9 299.2L250.4 294.0L250.9 289.0L251.4 284.2L251.9 279.5L252.4 275.1L252.9 270.9L253.4 266.8L253.9 263.0L254.4 259.3L254.9 255.8L255.4 252.6L255.9 249.4L256.4 246.5L256.9 243.7L257.4 241.1L257.9 238.7L258.4 236.4L258.9 234.3L259.4 232.3L259.9 230.5L260.4 228.8L260.9 227.3L261.4 225.9L261.9 224.7L262.4 223.6L262.9 222.6L263.4 221.7L263.9 221.0L264.4 220.4L264.9 219.9L265.4 219.6L265.9 219.3L266.4 219.2L266.9 219.3L267.4 219.4L267.9 219.6L268.4 220.0L268.9 220.5L269.4 221.1L269.9 221.9L270.4 222.8L270.9 223.8L271.4 224.9L271.9 226.2L272.4 227.6L272.9 229.2L273.4 230.9L273.9 232.7L274.4 234.7L274.9 236.9L275.4 239.2L275.9 241.6L276.4 244.3L276.9 247.1L277.4 250.0L277.9 253.2L278.4 256.5L278.9 260.0L279.4 263.7L279.9 267.6L280.4 271.7L280.9 276.0L281.4 280.4L281.9 285.1L282.4 290.0L282.9 295.0L283.4 300.3L283.9 305.8L284.4 311.4L284.9 317.3L285.4 323.4L285.9 329.7L286.4 336.1L286.9 342.8L287.4 349.7L287.9 356.7L288.4 364.0L288.9 371.4L289.4 379.0L289.9 386.7L290.4 394.7L290.9 402.7L291.4 411.0L291.9 419.4L292.4 427.9L292.9 436.6L293.4 445.4L293.9 454.3L294.4 463.3L294.9 472.4L295.4 481.5L295.9 490.8L296.4 500.1L296.9 509.5L297.4 518.9L297.9 528.4L298.4 537.9L298.9 547.4L299.4 556.9L299.9 566.4L300.4 575.9L300.9 585.3L301.4 594.7L301.9 604.1L302.4 613.4L302.9 622.6L303.4 631.7L303.9 640.8L304.4 649.7L304.9 658.6L305.4 667.3L305.9 675.9L306.4 684.3L306.9 692.6L307.4 700.8L307.9 708.8L308.4 716.6L308.9 724.3L309.4 731.8L309.9 739.1L310.4 746.2L310.9 753.2L311.4 759.9L311.9 766.5L312.4 772.9L312.9 779.0L313.4 785.0L313.9 790.8L314.4 796.3L314.9 801.7L315.4 806.8L315.9 811.8L316.4 816.5L316.9 821.1L317.4 825.5L317.9 829.6L318.4 833.6L318.9 837.4L319.4 841.0L319.9 844.4L320.4 847.6L320.9 850.7L321.4 853.6L321.9 856.3L322.4 858.8L322.9 861.2L323.4 863.4L323.9 865.5L324.4 867.4L324.9 869.2L325.4 870.8L325.9 872.2L326.4 873.6L326.9 874.8L327.4 875.9L327.9 876.8L328.4 877.6L328.9 878.3L329.4 878.8L329.9 879.3L330.4 879.6L330.9 879.8L331.4 879.8L331.9 879.8L332.4 879.6L332.9 879.3L333.4 878.9L333.9 878.3L334.4 877.7L334.9 876.9L335.4 876.0L335.9 874.9L336.4 873.7L336.9 872.4L337.4 870.9L337.9 869.3L338.4 867.6L338.9 865.7L339.4 863.6L339.9 861.4L340.4 859.1L340.9 856.5L341.4 853.8L341.9 851.0L342.4 847.9L342.9 844.7L343.4 841.3L343.9 837.8L344.4 834.0L344.9 830.0L345.4 825.9L345.9 821.5L346.4 817.0L346.9 812.3L347.4 807.3L347.9 802.2L348.4 796.9L348.9 791.3L349.4 785.6L349.9 779.6L350.4 773.5L350.9 767.2L351.4 760.6L351.9 753.9L352.4 747.0L352.9 739.8L353.4 732.5L353.9 725.1L354.4 717.4L354.9 709.6L355.4 701.6L355.9 693.4L356.4 685.2L356.9 676.7L357.4 668.1L357.9 659.4L358.4 650.6L358.9 641.7L359.4 632.6L359.9 623.5L360.4 614.3L360.9 605.0L361.4 595.7L361.9 586.3L362.4 576.8L362.9 567.3L363.4 557.8L363.9 548.3L364.4 538.8L364.9 529.4L365.4 519.9L365.9 510.5L366.4 501.1L366.9 491.7L367.4 482.5L367.9 473.3L368.4 464.2L368.9 455.2L369.4 446.2L369.9 437.4L370.4 428.8L370.9 420.2L371.4 411.8L371.9 403.6L372.4 395.5L372.9 387.5L373.4 379.7L373.9 372.1L374.4 364.7L374.9 357.4L375.4 350.4L375.9 343.5L376.4 336.8L376.9 330.3L377.4 324.0L377.9 317.9L378.4 312.0L378.9 306.3L379.4 300.8L379.9 295.6L380.4 290.5L380.9 285.6L381.4 280.9L381.9 276.4L382.4 272.1L382.9 268.0L383.4 264.1L383.9 260.4L384.4 256.9L384.9 253.5L385.4 250.4L385.9 247.4L386.4 244.5L386.9 241.9L387.4 239.4L387.9 237.1L388.4 234.9L388.9 232.9L389.4 231.0L389.9 229.3L390.4 227.8L390.9 226.3L391.4 225.0L391.9 223.9L392.4 222.9L392.9 222.0L393.4 221.2L393.9 220.6L394.4 220.1L394.9 219.7L395.4 219.4L395.9 219.3L396.4 219.2L396.9 219.3L397.4 219.5L397.9 219.9L398.4 220.4L398.9 220.9L399.4 221.7L399.9 222.5L400.4 223.5L400.9 224.6L401.4 225.8L401.9 227.2L402.4 228.7L402.9 230.3L403.4 232.1L403.9 234.1L404.4 236.2L404.9 238.5L405.4 240.9L405.9 243.5L406.4 246.2L406.9 249.1L407.4 252.2L407.9 255.5L408.4 259.0L408.9 262.6L409.4 266.4L409.9 270.5L410.4 274.7L410.9 279.1L411.4 283.7L411.9 288.5L412.4 293.5L412.9 298.7L413.4 304.1L413.9 309.7L414.4 315.5L414.9 321.6L415.4 327.8L415.9 334.2L416.4 340.8L416.9 347.6L417.4 354.6L417.9 361.8L418.4 369.1L418.9 376.7L419.4 384.4L419.9 392.3L420.4 400.3L420.9 408.5L421.4 416.9L421.9 425.3L422.4 434.0L422.9 442.7L423.4 451.6L423.9 460.5L424.4 469.6L424.9 478.8L425.4 488.0L425.9 497.3L426.4 506.7L426.9 516.1L427.4 525.6L427.9 535.0L428.4 544.5L428.9 554.0L429.4 563.5L429.9 573.0L430.4 582.5L430.9 591.9L431.4 601.3L431.9 610.6L432.4 619.8L432.9 629.0L433.4 638.1L433.9 647.0L434.4 655.9L434.9 664.7L435.4 673.3L435.9 681.8L436.4 690.1L436.9 698.4L437.4 706.4L437.9 714.3L438.4 722.0L438.9 729.6L439.4 736.9L439.9 744.1L440.4 751.1L440.9 757.9L441.4 764.6L441.9 771.0L442.4 777.2L442.9 783.2L443.4 789.1L443.9 794.7L444.4 800.1L444.9 805.3L445.4 810.3L445.9 815.1L446.4 819.8L446.9 824.2L447.4 828.4L447.9 832.4L448.4 836.3L448.9 839.9L449.4 843.4L449.9 846.7L450.4 849.8L450.9 852.7L451.4 855.5L451.9 858.1L452.4 860.5L452.9 862.8L453.4 864.9L453.9 866.8L454.4 868.6L454.9 870.3L455.4 871.8L455.9 873.2L456.4 874.4L456.9 875.5L457.4 876.5L457.9 877.4L458.4 878.1L458.9 878.7L459.4 879.2L459.9 879.5L460.4 879.7L460.9 879.8L461.4 879.8L461.9 879.7L462.4 879.4L462.9 879.0L463.4 878.5L463.9 877.9L464.4 877.1L464.9 876.2L465.4 875.2L465.9 874.1L466.4 872.8L466.9 871.4L467.4 869.8L467.9 868.1L468.4 866.3L468.9 864.3L469.4 862.1L469.9 859.8L470.4 857.3L470.9 854.7L471.4 851.8L471.9 848.9L472.4 845.7L472.9 842.4L473.4 838.8L473.9 835.1L474.4 831.2L474.9 827.2L475.4 822.9L475.9 818.4L476.4 813.7L476.9 808.8L477.4 803.8L477.9 798.5L478.4 793.0L478.9 787.3L479.4 781.4L479.9 775.4L480.4 769.1L480.9 762.6L481.4 755.9L481.9 749.0L482.4 742.0L482.9 734.7L483.4 727.3L483.9 719.7L484.4 711.9L484.9 704.0L485.4 695.9L485.9 687.7L486.4 679.3L486.9 670.7L487.4 662.1L487.9 653.3L488.4 644.4L488.9 635.4L489.4 626.3L489.9 617.1L490.4 607.8L490.9 598.5L491.4 589.1L491.9 579.7L492.4 570.2L492.9 560.7L493.4 551.2L493.9 541.7L494.4 532.2L494.9 522.7L495.4 513.3L495.9 503.9L496.4 494.5L496.9 485.2L497.4 476.0L497.9 466.9L498.4 457.8L498.9 448.9L499.4 440.1L499.9 431.4L500.4 422.8L500.9 414.3L501.4 406.0L501.9 397.9L502.4 389.9L502.9 382.0L503.4 374.4L503.9 366.9L504.4 359.6L504.9 352.5L505.4 345.5L505.9 338.8L506.4 332.2L506.9 325.9L507.4 319.7L507.9 313.8L508.4 308.0L508.9 302.5L509.4 297.1L509.9 292.0L510.4 287.0L510.9 282.3L511.4 277.7L511.9 273.4L512.4 269.2L512.9 265.3L513.4 261.5L513.9 257.9L514.4 254.5L514.9 251.3L515.4 248.2L515.9 245.4L516.4 242.7L516.9 240.1L517.4 237.8L517.9 235.5L518.4 233.5L518.9 231.6L519.4 229.8L519.9 228.2L520.4 226.7L520.9 225.4L521.4 224.2L521.9 223.2L522.4 222.2L522.9 221.4L523.4 220.8L523.9 220.2L524.4 219.8L524.9 219.5L525.4 219.3L525.9 219.2L526.4 219.3L526.9 219.5L527.4 219.8L527.9 220.2L528.4 220.8L528.9 221.4L529.4 222.2L529.9 223.2L530.4 224.2L530.9 225.4L531.4 226.7L531.9 228.2L532.4 229.8L532.9 231.6L533.4 233.5L533.9 235.5L534.4 237.8L534.9 240.1L535.4 242.7L535.9 245.4L536.4 248.2L536.9 251.3L537.4 254.5L537.9 257.9L538.4 261.5L538.9 265.3L539.4 269.2L539.9 273.4L540.4 277.7L540.9 282.3L541.4 287.0L541.9 292.0L542.4 297.1L542.9 302.5L543.4 308.0L543.9 313.8L544.4 319.7L544.9 325.9L545.4 332.2L545.9 338.8L546.4 345.5L546.9 352.5L547.4 359.6L547.9 366.9L548.4 374.4L548.9 382.0L549.4 389.9L549.9 397.9L550.4 406.0L550.9 414.3L551.4 422.8L551.9 431.4L552.4 440.1L552.9 448.9L553.4 457.8L553.9 466.9L554.4 476.0L554.9 485.2L555.4 494.5L555.9 503.9L556.4 513.3L556.9 522.7L557.4 532.2L557.9 541.7L558.4 551.2L558.9 560.7L559.4 570.2L559.9 579.7L560.4 589.1L560.9 598.5L561.4 607.8L561.9 617.1L562.4 626.3L562.9 635.4L563.4 644.4L563.9 653.3L564.4 662.1L564.9 670.7L565.4 679.3L565.9 687.7L566.4 695.9L566.9 704.0L567.4 711.9L567.9 719.7L568.4 727.3L568.9 734.7L569.4 742.0L569.9 749.0L570.4 755.9L570.9 762.6L571.4 769.1L571.9 775.4L572.4 781.4L572.9 787.3L573.4 793.0L573.9 798.5L574.4 803.8L574.9 808.8L575.4 813.7L575.9 818.4L576.4 822.9L576.9 827.2L577.4 831.2L577.9 835.1L578.4 838.8L578.9 842.4L579.4 845.7L579.9 848.9L580.4 851.8L580.9 854.7L581.4 857.3L581.9 859.8L582.4 862.1L582.9 864.3L583.4 866.3L583.9 868.1L584.4 869.8L584.9 871.4L585.4 872.8L585.9 874.1L586.4 875.2L586.9 876.2L587.4 877.1L587.9 877.9L588.4 878.5L588.9 879.0L589.4 879.4L589.9 879.7L590.4 879.8L590.9 879.8L591.4 879.7L591.9 879.5L592.4 879.2L592.9 878.7L593.4 878.1L593.9 877.4L594.4 876.5L594.9 875.5L595.4 874.4L595.9 873.2L596.4 871.8L596.9 870.3L597.4 868.6L597.9 866.8L598.4 864.9L598.9 862.8L599.4 860.5L599.9 858.1L600.4 855.5L600.9 852.7L601.4 849.8L601.9 846.7L602.4 843.4L602.9 839.9L603.4 836.3L603.9 832.4L604.4 828.4L604.9 824.2L605.4 819.8L605.9 815.1L606.4 810.3L606.9 805.3L607.4 800.1L607.9 794.7L608.4 789.1L608.9 783.2L609.4 777.2L609.9 771.0L610.4 764.6L610.9 757.9L611.4 751.1L611.9 744.1L612.4 736.9L612.9 729.6L613.4 722.0L613.9 714.3L614.4 706.4L614.9 698.4L615.4 690.1L615.9 681.8L616.4 673.3L616.9 664.7L617.4 655.9L617.9 647.0L618.4 638.1L618.9 629.0L619.4 619.8L619.9 610.6L620.4 601.3L620.9 591.9L621.4 582.5L621.9 573.0L622.4 563.5L622.9 554.0L623.4 544.5L623.9 535.0L624.4 525.6L624.9 516.1L625.4 506.7L625.9 497.3L626.4 488.0L626.9 478.8L627.4 469.6L627.9 460.5L628.4 451.6L628.9 442.7L629.4 434.0L629.9 425.3L630.4 416.9L630.9 408.5L631.4 400.3L631.9 392.3L632.4 384.4L632.9 376.7L633.4 369.1L633.9 361.8L634.4 354.6L634.9 347.6L635.4 340.8L635.9 334.2L636.4 327.8L636.9 321.6L637.4 315.5L637.9 309.7L638.4 304.1L638.9 298.7L639.4 293.5L639.9 288.5L640.4 283.7L640.9 279.1L641.4 274.7L641.9 270.5L642.4 266.4L642.9 262.6L643.4 259.0L643.9 255.5L644.4 252.2L644.9 249.1L645.4 246.2L645.9 243.5L646.4 240.9L646.9 238.5L647.4 236.2L647.9 234.1L648.4 232.1L648.9 230.3L649.4 228.7L649.9 227.2L650.4 225.8L650.9 224.6L651.4 223.5L651.9 222.5L652.4 221.7L652.9 220.9L653.4 220.4L653.9 219.9L654.4 219.5L654.9 219.3L655.4 219.2L655.9 219.3L656.4 219.4L656.9 219.7L657.4 220.1L657.9 220.6L658.4 221.2L658.9 222.0L659.4 222.9L659.9 223.9L660.4 225.0L660.9 226.3L661.4 227.8L661.9 229.3L662.4 231.0L662.9 232.9L663.4 234.9L663.9 237.1L664.4 239.4L664.9 241.9L665.4 244.5L665.9 247.4L666.4 250.4L666.9 253.5L667.4 256.9L667.9 260.4L668.4 264.1L668.9 268.0L669.4 272.1L669.9 276.4L670.4 280.9L670.9 285.6L671.4 290.5L671.9 295.6L672.4 300.8L672.9 306.3L673.4 312.0L673.9 317.9L674.4 324.0L674.9 330.3L675.4 336.8L675.9 343.5L676.4 350.4L676.9 357.4L677.4 364.7L677.9 372.1L678.4 379.7L678.9 387.5L679.4 395.5L679.9 403.6L680.4 411.8L680.9 420.2L681.4 428.8L681.9 437.4L682.4 446.2L682.9 455.2L683.4 464.2L683.9 473.3L684.4 482.5L684.9 491.7L685.4 501.1L685.9 510.5L686.4 519.9L686.9 529.4L687.4 538.8L687.9 548.3L688.4 557.8L688.9 567.3L689.4 576.8L689.9 586.3L690.4 595.7L690.9 605.0L691.4 614.3L691.9 623.5L692.4 632.6L692.9 641.7L693.4 650.6L693.9 659.4L694.4 668.1L694.9 676.7L695.4 685.2L695.9 693.4L696.4 701.6L696.9 709.6L697.4 717.4L697.9 725.1L698.4 732.5L698.9 739.8L699.4 747.0L699.9 753.9L700.4 760.6L700.9 767.2L701.4 773.5L701.9 779.6L702.4 785.6L702.9 791.3L703.4 796.9L703.9 802.2L704.4 807.3L704.9 812.3L705.4 817.0L705.9 821.5L706.4 825.9L706.9 830.0L707.4 834.0L707.9 837.8L708.4 841.3L708.9 844.7L709.4 847.9L709.9 851.0L710.4 853.8L710.9 856.5L711.4 859.1L711.9 861.4L712.4 863.6L712.9 865.7L713.4 867.6L713.9 869.3L714.4 870.9L714.9 872.4L715.4 873.7L715.9 874.9L716.4 876.0L716.9 876.9L717.4 877.7L717.9 878.3L718.4 878.9L718.9 879.3L719.4 879.6L719.9 879.8L720.4 879.8L720.9 879.8L721.4 879.6L721.9 879.3L722.4 878.8L722.9 878.3L723.4 877.6L723.9 876.8L724.4 875.9L724.9 874.8L725.4 873.6L725.9 872.2L726.4 870.8L726.9 869.2L727.4 867.4L727.9 865.5L728.4 863.4L728.9 861.2L729.4 858.8L729.9 856.3L730.4 853.6L730.9 850.7L731.4 847.6L731.9 844.4L732.4 841.0L732.9 837.4L733.4 833.6L733.9 829.6L734.4 825.5L734.9 821.1L735.4 816.5L735.9 811.8L736.4 806.8L736.9 801.7L737.4 796.3L737.9 790.8L738.4 785.0L738.9 779.0L739.4 772.9L739.9 766.5L740.4 759.9L740.9 753.2L741.4 746.2L741.9 739.1L742.4 731.8L742.9 724.3L743.4 716.6L743.9 708.8L744.4 700.8L744.9 692.6L745.4 684.3L745.9 675.9L746.4 667.3L746.9 658.6L747.4 649.7L747.9 640.8L748.4 631.7L748.9 622.6L749.4 613.4L749.9 604.1L750.4 594.7L750.9 585.3L751.4 575.9L751.9 566.4L752.4 556.9L752.9 547.4L753.4 537.9L753.9 528.4L754.4 518.9L754.9 509.5L755.4 500.1L755.9 490.8L756.4 481.5L756.9 472.4L757.4 463.3L757.9 454.3L758.4 445.4L758.9 436.6L759.4 427.9L759.9 419.4L760.4 411.0L760.9 402.7L761.4 394.7L761.9 386.7L762.4 379.0L762.9 371.4L763.4 364.0L763.9 356.7L764.4 349.7L764.9 342.8L765.4 336.1L765.9 329.7L766.4 323.4L766.9 317.3L767.4 311.4L767.9 305.8L768.4 300.3L768.9 295.0L769.4 290.0L769.9 285.1L770.4 280.4L770.9 276.0L771.4 271.7L771.9 267.6L772.4 263.7L772.9 260.0L773.4 256.5L773.9 253.2L774.4 250.0L774.9 247.1L775.4 244.3L775.9 241.6L776.4 239.2L776.9 236.9L777.4 234.7L777.9 232.7L778.4 230.9L778.9 229.2L779.4 227.6L779.9 226.2L780.4 224.9L780.9 223.8L781.4 222.8L781.9 221.9L782.4 221.1L782.9 220.5L783.4 220.0L783.9 219.6L784.4 219.4L784.9 219.3L785.4 219.2L785.9 219.3L786.4 219.6L786.9 219.9L787.4 220.4L787.9 221.0L788.4 221.7L788.9 222.6L789.4 223.6L789.9 224.7L790.4 225.9L790.9 227.3L791.4 228.8L791.9 230.5L792.4 232.3L792.9 234.3L793.4 236.4L793.9 238.7L794.4 241.1L794.9 243.7L795.4 246.5L795.9 249.4L796.4 252.6L796.9 255.8L797.4 259.3L797.9 263.0L798.4 266.8L798.9 270.9L799.4 275.1L799.9 279.5L800.4 284.2L800.9 289.0L801.4 294.0L801.9 299.2L802.4 304.7L802.9 310.3L803.4 316.1L803.9 322.2L804.4 328.4L804.9 334.8L805.4 341.5L805.9 348.3L806.4 355.3L806.9 362.5L807.4 369.9L807.9 377.4L808.4 385.2L808.9 393.1L809.4 401.1L809.9 409.3L810.4 417.7L810.9 426.2L811.4 434.8L811.9 443.6L812.4 452.5L812.9 461.4L813.4 470.5L813.9 479.7L814.4 488.9L814.9 498.3L815.4 507.6L815.9 517.1L816.4 526.5L816.9 536.0L817.4 545.5L817.9 555.0L818.4 564.5L818.9 574.0L819.4 583.4L819.9 592.8L820.4 602.2L820.9 611.5L821.4 620.7L821.9 629.9L822.4 639.0L822.9 647.9L823.4 656.8L823.9 665.5L824.4 674.2L824.9 682.6L825.4 691.0L825.9 699.2L826.4 707.2L826.9 715.1L827.4 722.8L827.9 730.3L828.4 737.7L828.9 744.8L829.4 751.8L829.9 758.6L830.4 765.2L830.9 771.6L831.4 777.8L831.9 783.8L832.4 789.6L832.9 795.2L833.4 800.6L833.9 805.8L834.4 810.8L834.9 815.6L835.4 820.2L835.9 824.6L836.4 828.8L836.9 832.8L837.4 836.6L837.9 840.3L838.4 843.7L838.9 847.0L839.4 850.1L839.9 853.0L840.4 855.7L840.9 858.3L841.4 860.7L841.9 863.0L842.4 865.1L842.9 867.0L843.4 868.8L843.9 870.5L844.4 872.0L844.9 873.3L845.4 874.6L845.9 875.7L846.4 876.6L846.9 877.4L847.4 878.2L847.9 878.7L848.4 879.2L848.9 879.5L849.4 879.7L849.9 879.8L850.4 879.8L850.9 879.7L851.4 879.4L851.9 879.0L852.4 878.5L852.9 877.8L853.4 877.0L853.9 876.1L854.4 875.1L854.9 874.0L855.4 872.7L855.9 871.2L856.4 869.7L856.9 867.9L857.4 866.1L857.9 864.0L858.4 861.9L858.9 859.5L859.4 857.0L859.9 854.4L860.4 851.6L860.9 848.6L861.4 845.4L861.9 842.0L862.4 838.5L862.9 834.8L863.4 830.8L863.9 826.7L864.4 822.4L864.9 817.9L865.4 813.2L865.9 808.3L866.4 803.2L866.9 797.9L867.4 792.4L867.9 786.7L868.4 780.8L868.9 774.7L869.4 768.4L869.9 761.9L870.4 755.2L870.9 748.4L871.4 741.3L871.9 734.0L872.4 726.6L872.9 719.0L873.4 711.2L873.9 703.2L874.4 695.1L874.9 686.8L875.4 678.4L875.9 669.9L876.4 661.2L876.9 652.4L877.4 643.5L877.9 634.4L878.4 625.3L878.9 616.1L879.4 606.9L879.9 597.5L880.4 588.1L880.9 578.7L881.4 569.2L881.9 559.7L882.4 550.2L882.9 540.7L883.4 531.2L883.9 521.8L884.4 512.3L884.9 502.9L885.4 493.6L885.9 484.3L886.4 475.1L886.9 466.0L887.4 456.9L887.9 448.0L888.4 439.2L888.9 430.5L889.4 421.9L889.9 413.5L890.4 405.2L890.9 397.1L891.4 389.1L891.9 381.3L892.4 373.6L892.9 366.2L893.4 358.9L893.9 351.8L894.4 344.8L894.9 338.1L895.4 331.6L895.9 325.3L896.4 319.1L896.9 313.2L897.4 307.5L897.9 301.9L898.4 296.6L898.9 291.5L899.4 286.5L899.9 281.8L900.4 277.3L900.9 273.0L901.4 268.8L901.9 264.9L902.4 261.1L902.9 257.6L903.4 254.2L903.9 251.0L904.4 247.9L904.9 245.1L905.4 242.4L905.9 239.9L906.4 237.5L906.9 235.3L907.4 233.3L907.9 231.4L908.4 229.7L908.9 228.1L909.4 226.6L909.9 225.3L910.4 224.1L910.9 223.1L911.4 222.1L911.9 221.4L912.4 220.7L912.9 220.2L913.4 219.7L913.9 219.4L914.4 219.3L914.9 219.2L915.4 219.3L915.9 219.5L916.4 219.8L916.9 220.3L917.4 220.8L917.9 221.5L918.4 222.3L918.9 223.3L919.4 224.3L919.9 225.5L920.4 226.9L920.9 228.4L921.4 230.0L921.9 231.8L922.4 233.7L922.9 235.8L923.4 238.0L923.9 240.4L924.4 242.9L924.9 245.6L925.4 248.5L925.9 251.6L926.4 254.8L926.9 258.3L927.4 261.9L927.9 265.7L928.4 269.6L928.9 273.8L929.4 278.2L929.9 282.8L930.4 287.5L930.9 292.5L931.4 297.6L931.9 303.0L932.4 308.6L932.9 314.4L933.4 320.3L933.9 326.5L934.4 332.9L934.9 339.5L935.4 346.2L935.9 353.2L936.4 360.3L936.9 367.6L937.4 375.1L937.9 382.8L938.4 390.7L938.9 398.7L939.4 406.9L939.9 415.2L940.4 423.6L940.9 432.2L941.4 441.0L941.9 449.8L942.4 458.7L942.9 467.8L943.4 476.9L943.9 486.2L944.4 495.5L944.9 504.8L945.4 514.2L945.9 523.7L946.4 533.1L946.9 542.6L947.4 552.1L947.9 561.6L948.4 571.1L948.9 580.6L949.4 590.0L949.9 599.4L950.4 608.7L950.9 618.0L951.4 627.2L951.9 636.3L952.4 645.3L952.9 654.1L953.4 662.9L953.9 671.6L954.4 680.1L954.9 688.5L955.4 696.7L955.9 704.8L956.4 712.7L956.9 720.5L957.4 728.1L957.9 735.5L958.4 742.7L958.9 749.7L959.4 756.6L959.9 763.3L960.4 769.7L960.9 776.0L961.4 782.0L961.9 787.9L962.4 793.6L962.9 799.0L963.4 804.3L963.9 809.3L964.4 814.2L964.9 818.8L965.4 823.3L965.9 827.6L966.4 831.6L966.9 835.5L967.4 839.2L967.9 842.7L968.4 846.0L968.9 849.2L969.4 852.1L969.9 854.9L970.4 857.6L970.9 860.0L971.4 862.3L971.9 864.5L972.4 866.4L972.9 868.3L973.4 870.0L973.9 871.5L974.4 872.9L974.9 874.2L975.4 875.3L975.9 876.3L976.4 877.2L976.9 878.0L977.4 878.6L977.9 879.1L978.4 879.4L978.9 879.7L979.4 879.8L979.9 879.8L980.4 879.7L980.9 879.5L981.4 879.1L981.9 878.6L982.4 878.0L982.9 877.3L983.4 876.4L983.9 875.4L984.4 874.3L984.9 873.1L985.4 871.7L985.9 870.1L986.4 868.5L986.9 866.6L987.4 864.7L987.9 862.5L988.4 860.3L988.9 857.8L989.4 855.2L989.9 852.4L990.4 849.5L990.9 846.4L991.4 843.0L991.9 839.6L992.4 835.9L992.9 832.0L993.4 828.0L993.9 823.7L994.4 819.3L994.9 814.7L995.4 809.8L995.9 804.8L996.4 799.6L996.9 794.1L997.4 788.5L997.9 782.6L998.4 776.6L998.9 770.3L999.4 763.9L999.9 757.3L1000.4 750.4L1000.9 743.4L1001.4 736.2L1001.9 728.8L1002.4 721.3L1002.9 713.5L1003.4 705.6L1003.9 697.5L1004.4 689.3L1004.9 680.9L1005.4 672.4L1005.9 663.8L1006.4 655.0L1006.9 646.2L1007.4 637.2L1007.9 628.1L1008.4 618.9L1008.9 609.7L1009.4 600.3L1009.9 591.0L1010.4 581.5L1010.9 572.1L1011.4 562.6L1011.9 553.1L1012.4 543.6L1012.9 534.1L1013.4 524.6L1013.9 515.2L1014.4 505.8L1014.9 496.4L1015.4 487.1L1015.9 477.9L1016.4 468.7L1016.9 459.6L1017.4 450.7L1017.9 441.8L1018.4 433.1L1018.9 424.5L1019.4 416.0L1019.9 407.7L1020.4 399.5L1020.9 391.5L1021.4 383.6L1021.9 375.9L1022.4 368.4L1022.9 361.0L1023.4 353.9L1023.9 346.9L1024.4 340.1L1024.9 333.5L1025.4 327.1L1025.9 320.9L1026.4 314.9L1026.9 309.2L1027.4 303.6L1027.9 298.2L1028.4 293.0L1028.9 288.0L1029.4 283.2L1029.9 278.6L1030.4 274.2L1030.9 270.0L1031.4 266.0L1031.9 262.2L1032.4 258.6L1032.9 255.2L1033.4 251.9L1033.9 248.8L1034.4 245.9L1034.9 243.2L1035.4 240.6L1035.9 238.2L1036.4 236.0L1036.9 233.9L1037.4 232.0L1037.9 230.2L1038.4 228.5L1038.9 227.0L1039.4 225.7L1039.9 224.4L1040.4 223.4L1040.9 222.4L1041.4 221.6L1041.9 220.9L1042.4 220.3L1042.9 219.9L1043.4 219.5L1043.9 219.3L1044.4 219.2L1044.9 219.3L1045.4 219.4L1045.9 219.7L1046.4 220.1L1046.9 220.6L1047.4 221.3L1047.9 222.1L1048.4 223.0L1048.9 224.0L1049.4 225.2L1049.9 226.5L1050.4 227.9L1050.9 229.5L1051.4 231.2L1051.9 233.1L1052.4 235.1L1052.9 237.3L1053.4 239.6L1053.9 242.1L1054.4 244.8L1054.9 247.7L1055.4 250.7L1055.9 253.8L1056.4 257.2L1056.9 260.8L1057.4 264.5L1057.9 268.4L1058.4 272.5L1058.9 276.9L1059.4 281.4L1059.9 286.1L1060.4 291.0L1060.9 296.1L1061.4 301.4L1061.9 306.9L1062.4 312.6L1062.9 318.5L1063.4 324.6L1063.9 330.9L1064.4 337.5L1064.9 344.2L1065.4 351.1L1065.9 358.1L1066.4 365.4L1066.9 372.9L1067.4 380.5L1067.9 388.3L1068.4 396.3L1068.9 404.4L1069.4 412.7L1069.9 421.1L1070.4 429.6L1070.9 438.3L1071.4 447.1L1071.9 456.0L1072.4 465.1L1072.9 474.2L1073.4 483.4L1073.9 492.7L1074.4 502.0L1074.9 511.4L1075.4 520.8L1075.9 530.3L1076.4 539.8L1076.9 549.3L1077.4 558.8L1077.9 568.3L1078.4 577.8L1078.9 587.2L1079.4 596.6L1079.9 605.9L1080.4 615.2L1080.9 624.4L1081.4 633.5L1081.9 642.6L1082.4 651.5L1082.9 660.3L1083.4 669.0L1083.9 677.6L1084.4 686.0L1084.9 694.3L1085.4 702.4L1085.9 710.4L1086.4 718.2L1086.9 725.8L1087.4 733.3L1087.9 740.6L1088.4 747.7L1088.9 754.6L1089.4 761.3L1089.9 767.8L1090.4 774.1L1090.9 780.2L1091.4 786.2L1091.9 791.9L1092.4 797.4L1092.9 802.7L1093.4 807.8L1093.9 812.8L1094.4 817.5L1094.9 822.0L1095.4 826.3L1095.9 830.4L1096.4 834.4L1096.9 838.1L1097.4 841.7L1097.9 845.1L1098.4 848.2L1098.9 851.3L1099.4 854.1L1099.9 856.8L1100.4 859.3L1100.9 861.6L1101.4 863.8L1101.9 865.9L1102.4 867.8L1102.9 869.5L1103.4 871.1L1103.9 872.5L1104.4 873.8L1104.9 875.0L1105.4 876.1L1105.9 877.0L1106.4 877.7L1106.9 878.4L1107.4 878.9L1107.9 879.3L1108.4 879.6L1108.9 879.8L1109.4 879.8L1109.9 879.8L1110.4 879.6L1110.9 879.2L1111.4 878.8L1111.9 878.2L1112.4 877.5L1112.9 876.7L1113.4 875.8L1113.9 874.7L1114.4 873.5L1114.9 872.1L1115.4 870.6L1115.9 869.0L1116.4 867.2L1116.9 865.3L1117.4 863.2L1117.9 861.0L1118.4 858.6L1118.9 856.0L1119.4 853.3L1119.9 850.4L1120.4 847.3L1120.9 844.1L1121.4 840.6L1121.9 837.0L1122.4 833.2L1122.9 829.2L1123.4 825.0L1123.9 820.7L1124.4 816.1L1124.9 811.3L1125.4 806.3L1125.9 801.2L1126.4 795.8L1126.9 790.2L1127.4 784.4L1127.9 778.4L1128.4 772.2L1128.9 765.9L1129.4 759.3L1129.9 752.5L1130.4 745.5L1130.9 738.4L1131.4 731.1L1131.9 723.5L1132.4 715.9L1132.9 708.0L1133.4 700.0L1133.9 691.8L1134.4 683.5L1134.9 675.0L1135.4 666.4L1135.9 657.7L1136.4 648.8L1136.9 639.9L1137.4 630.8L1137.9 621.7L1138.4 612.4L1138.9 603.1L1139.4 593.8L1139.9 584.4L1140.4 574.9L1140.9 565.4L1141.4 555.9L1141.9 546.4L1142.4 536.9L1142.9 527.5L1143.4 518.0L1143.9 508.6L1144.4 499.2L1144.9 489.9L1145.4 480.6L1145.9 471.4L1146.4 462.4L1146.9 453.4L1147.4 444.5L1147.9 435.7L1148.4 427.1L1148.9 418.5L1149.4 410.2L1149.9 401.9L1150.4 393.9L1150.9 385.9L1151.4 378.2L1151.9 370.6L1152.4 363.2L1152.9 356.0L1153.4 349.0L1153.9 342.1L1154.4 335.5L1154.9 329.0L1155.4 322.8L1155.9 316.7L1156.4 310.9L1156.9 305.2L1157.4 299.8L1157.9 294.5L1158.4 289.5L1158.9 284.6L1159.4 280.0L1159.9 275.5L1160.4 271.3L1160.9 267.2L1161.4 263.4L1161.9 259.7L1162.4 256.2L1162.9 252.9L1163.4 249.7L1163.9 246.8L1164.4 244.0L1164.9 241.4L1165.4 238.9L1165.9 236.6L1166.4 234.5L1166.9 232.5L1167.4 230.7L1167.9 229.0L1168.4 227.5L1168.9 226.1L1169.4 224.8L1169.9 223.7L1170.4 222.7L1170.9 221.8L1171.4 221.1L1171.9 220.5L1172.4 220.0L1172.9 219.6L1173.4 219.4L1173.9 219.2L1174.4 219.2L1174.9 219.4L1175.4 219.6L1175.9 220.0L1176.4 220.5L1176.9 221.1L1177.4 221.8L1177.9 222.7L1178.4 223.7L1178.9 224.8L1179.4 226.1L1179.9 227.5L1180.4 229.0L1180.9 230.7L1181.4 232.5L1181.9 234.5L1182.4 236.6L1182.9 238.9L1183.4 241.4L1183.9 244.0L1184.4 246.8L1184.9 249.7L1185.4 252.9L1185.9 256.2L1186.4 259.7L1186.9 263.4L1187.4 267.2L1187.9 271.3L1188.4 275.5L1188.9 280.0L1189.4 284.6L1189.9 289.5L1190.4 294.5L1190.9 299.8L1191.4 305.2L1191.9 310.9L1192.4 316.7L1192.9 322.8L1193.4 329.0L1193.9 335.5L1194.4 342.1L1194.9 349.0L1195.4 356.0L1195.9 363.2L1196.4 370.6L1196.9 378.2L1197.4 385.9L1197.9 393.9L1198.4 401.9L1198.9 410.2L1199.4 418.5L1199.9 427.1L1200.4 435.7L1200.9 444.5L1201.4 453.4L1201.9 462.4L1202.4 471.4L1202.9 480.6L1203.4 489.9L1203.9 499.2L1204.4 508.6L1204.9 518.0L1205.4 527.5L1205.9 536.9L1206.4 546.4L1206.9 555.9L1207.4 565.4L1207.9 574.9L1208.4 584.4L1208.9 593.8L1209.4 603.1L1209.9 612.4L1210.4 621.7L1210.9 630.8L1211.4 639.9L1211.9 648.8L1212.4 657.7L1212.9 666.4L1213.4 675.0L1213.9 683.5L1214.4 691.8L1214.9 700.0L1215.4 708.0L1215.9 715.9L1216.4 723.5L1216.9 731.1L1217.4 738.4L1217.9 745.5L1218.4 752.5L1218.9 759.3L1219.4 765.9L1219.9 772.2L1220.4 778.4L1220.9 784.4L1221.4 790.2L1221.9 795.8L1222.4 801.2L1222.9 806.3L1223.4 811.3L1223.9 816.1L1224.4 820.7L1224.9 825.0L1225.4 829.2L1225.9 833.2L1226.4 837.0L1226.9 840.6L1227.4 844.1L1227.9 847.3L1228.4 850.4L1228.9 853.3L1229.4 856.0L1229.9 858.6L1230.4 861.0L1230.9 863.2L1231.4 865.3L1231.9 867.2L1232.4 869.0L1232.9 870.6L1233.4 872.1L1233.9 873.5L1234.4 874.7L1234.9 875.8L1235.4 876.7L1235.9 877.5L1236.4 878.2L1236.9 878.8L1237.4 879.2L1237.9 879.6L1238.4 879.8L1238.9 879.8L1239.4 879.8L1239.9 879.6L1240.4 879.3L1240.9 878.9L1241.4 878.4L1241.9 877.7L1242.4 877.0L1242.9 876.1L1243.4 875.0L1243.9 873.8L1244.4 872.5L1244.9 871.1L1245.4 869.5L1245.9 867.8L1246.4 865.9L1246.9 863.8L1247.4 861.6L1247.9 859.3L1248.4 856.8L1248.9 854.1L1249.4 851.3L1249.9 848.2L1250.4 845.1L1250.9 841.7L1251.4 838.1L1251.9 834.4L1252.4 830.4L1252.9 826.3L1253.4 822.0L1253.9 817.5L1254.4 812.8L1254.9 807.8L1255.4 802.7L1255.9 797.4L1256.4 791.9L1256.9 786.2L1257.4 780.2L1257.9 774.1L1258.4 767.8L1258.9 761.3L1259.4 754.6L1259.9 747.7L1260.4 740.6L1260.9 733.3L1261.4 725.8L1261.9 718.2L1262.4 710.4L1262.9 702.4L1263.4 694.3L1263.9 686.0L1264.4 677.6L1264.9 669.0L1265.4 660.3L1265.9 651.5L1266.4 642.6L1266.9 633.5L1267.4 624.4L1267.9 615.2L1268.4 605.9L1268.9 596.6L1269.4 587.2L1269.9 577.8L1270.4 568.3L1270.9 558.8L1271.4 549.3L1271.9 539.8L1272.4 530.3L1272.9 520.8L1273.4 511.4L1273.9 502.0L1274.4 492.7L1274.9 483.4L1275.4 474.2L1275.9 465.1L1276.4 456.0L1276.9 447.1L1277.4 438.3L1277.9 429.6L1278.4 421.1L1278.9 412.7L1279.4 404.4L1279.9 396.3L1280.4 388.3L1280.9 380.5L1281.4 372.9L1281.9 365.4L1282.4 358.1L1282.9 351.1L1283.4 344.2L1283.9 337.5L1284.4 330.9L1284.9 324.6L1285.4 318.5L1285.9 312.6L1286.4 306.9L1286.9 301.4L1287.4 296.1L1287.9 291.0L1288.4 286.1L1288.9 281.4L1289.4 276.9L1289.9 272.5L1290.4 268.4L1290.9 264.5L1291.4 260.8L1291.9 257.2L1292.4 253.8L1292.9 250.7L1293.4 247.7L1293.9 244.8L1294.4 242.1L1294.9 239.6L1295.4 237.3L1295.9 235.1L1296.4 233.1L1296.9 231.2L1297.4 229.5L1297.9 227.9L1298.4 226.5L1298.9 225.2L1299.4 224.0L1299.9 223.0L1300.4 222.1L1300.9 221.3L1301.4 220.6L1301.9 220.1L1302.4 219.7L1302.9 219.4L1303.4 219.3L1303.9 219.2L1304.4 219.3L1304.9 219.5L1305.4 219.9L1305.9 220.3L1306.4 220.9L1306.9 221.6L1307.4 222.4L1307.9 223.4L1308.4 224.4L1308.9 225.7L1309.4 227.0L1309.9 228.5L1310.4 230.2L1310.9 232.0L1311.4 233.9L1311.9 236.0L1312.4 238.2L1312.9 240.6L1313.4 243.2L1313.9 245.9L1314.4 248.8L1314.9 251.9L1315.4 255.2L1315.9 258.6L1316.4 262.2L1316.9 266.0L1317.4 270.0L1317.9 274.2L1318.4 278.6L1318.9 283.2L1319.4 288.0L1319.9 293.0L1320.4 298.2L1320.9 303.6L1321.4 309.2L1321.9 314.9L1322.4 320.9L1322.9 327.1L1323.4 333.5L1323.9 340.1L1324.4 346.9L1324.9 353.9L1325.4 361.0L1325.9 368.4L1326.4 375.9L1326.9 383.6L1327.4 391.5L1327.9 399.5L1328.4 407.7L1328.9 416.0L1329.4 424.5L1329.9 433.1L1330.4 441.8L1330.9 450.7L1331.4 459.6L1331.9 468.7L1332.4 477.9L1332.9 487.1L1333.4 496.4L1333.9 505.8L1334.4 515.2L1334.9 524.6L1335.4 534.1L1335.9 543.6L1336.4 553.1L1336.9 562.6L1337.4 572.1L1337.9 581.5L1338.4 591.0L1338.9 600.3L1339.4 609.7L1339.9 618.9L1340.4 628.1L1340.9 637.2L1341.4 646.2L1341.9 655.0L1342.4 663.8L1342.9 672.4L1343.4 680.9L1343.9 689.3L1344.4 697.5L1344.9 705.6L1345.4 713.5L1345.9 721.3L1346.4 728.8L1346.9 736.2L1347.4 743.4L1347.9 750.4L1348.4 757.3L1348.9 763.9L1349.4 770.3L1349.9 776.6L1350.4 782.6L1350.9 788.5L1351.4 794.1L1351.9 799.6L1352.4 804.8L1352.9 809.8L1353.4 814.7L1353.9 819.3L1354.4 823.7L1354.9 828.0L1355.4 832.0L1355.9 835.9L1356.4 839.6L1356.9 843.0L1357.4 846.4L1357.9 849.5L1358.4 852.4L1358.9 855.2L1359.4 857.8L1359.9 860.3L1360.4 862.5L1360.9 864.7L1361.4 866.6L1361.9 868.5L1362.4 870.1L1362.9 871.7L1363.4 873.1L1363.9 874.3L1364.4 875.4L1364.9 876.4L1365.4 877.3L1365.9 878.0L1366.4 878.6L1366.9 879.1L1367.4 879.5L1367.9 879.7L1368.4 879.8L1368.9 879.8L1369.4 879.7L1369.9 879.4L1370.4 879.1L1370.9 878.6L1371.4 878.0L1371.9 877.2L1372.4 876.3L1372.9 875.3L1373.4 874.2L1373.9 872.9L1374.4 871.5L1374.9 870.0L1375.4 868.3L1375.9 866.4L1376.4 864.5L1376.9 862.3L1377.4 860.0L1377.9 857.6L1378.4 854.9L1378.9 852.1L1379.4 849.2L1379.9 846.0L1380.4 842.7L1380.9 839.2L1381.4 835.5L1381.9 831.6L1382.4 827.6L1382.9 823.3L1383.4 818.8L1383.9 814.2L1384.4 809.3L1384.9 804.3L1385.4 799.0L1385.9 793.6L1386.4 787.9L1386.9 782.0L1387.4 776.0L1387.9 769.7L1388.4 763.3L1388.9 756.6L1389.4 749.7L1389.9 742.7L1390.4 735.5L1390.9 728.1L1391.4 720.5L1391.9 712.7L1392.4 704.8L1392.9 696.7L1393.4 688.5L1393.9 680.1L1394.4 671.6L1394.9 662.9L1395.4 654.1L1395.9 645.3L1396.4 636.3L1396.9 627.2L1397.4 618.0L1397.9 608.7L1398.4 599.4L1398.9 590.0L1399.4 580.6L1399.9 571.1L1400.4 561.6L1400.9 552.1L1401.4 542.6L1401.9 533.1L1402.4 523.7L1402.9 514.2L1403.4 504.8L1403.9 495.5L1404.4 486.2L1404.9 476.9L1405.4 467.8L1405.9 458.7L1406.4 449.8L1406.9 441.0L1407.4 432.2L1407.9 423.6L1408.4 415.2L1408.9 406.9L1409.4 398.7L1409.9 390.7L1410.4 382.8L1410.9 375.1L1411.4 367.6L1411.9 360.3L1412.4 353.2L1412.9 346.2L1413.4 339.5L1413.9 332.9L1414.4 326.5L1414.9 320.3L1415.4 314.4L1415.9 308.6L1416.4 303.0L1416.9 297.6L1417.4 292.5L1417.9 287.5L1418.4 282.8L1418.9 278.2L1419.4 273.8L1419.9 269.6L1420.4 265.7L1420.9 261.9L1421.4 258.3L1421.9 254.8L1422.4 251.6L1422.9 248.5L1423.4 245.6L1423.9 242.9L1424.4 240.4L1424.9 238.0L1425.4 235.8L1425.9 233.7L1426.4 231.8L1426.9 230.0L1427.4 228.4L1427.9 226.9L1428.4 225.5L1428.9 224.3L1429.4 223.3L1429.9 222.3L1430.4 221.5L1430.9 220.8L1431.4 220.3L1431.9 219.8L1432.4 219.5L1432.9 219.3L1433.4 219.2L1433.9 219.3L1434.4 219.4L1434.9 219.7L1435.4 220.2L1435.9 220.7L1436.4 221.4L1436.9 222.1L1437.4 223.1L1437.9 224.1L1438.4 225.3L1438.9 226.6L1439.4 228.1L1439.9 229.7L1440.4 231.4L1440.9 233.3L1441.4 235.3L1441.9 237.5L1442.4 239.9L1442.9 242.4L1443.4 245.1L1443.9 247.9L1444.4 251.0L1444.9 254.2L1445.4 257.6L1445.9 261.1L1446.4 264.9L1446.9 268.8L1447.4 273.0L1447.9 277.3L1448.4 281.8L1448.9 286.5L1449.4 291.5L1449.9 296.6L1450.4 301.9L1450.9 307.5L1451.4 313.2L1451.9 319.1L1452.4 325.3L1452.9 331.6L1453.4 338.1L1453.9 344.8L1454.4 351.8L1454.9 358.9L1455.4 366.2" fill="none" stroke="#d40000" stroke-width="4.0" stroke-linejoin="round" stroke-dasharray="22 10" stroke-dashoffset="0"/>
<path d="M128.9 182.2L129.4 177.1L129.9 172.3L130.4 167.7L130.9 163.2L131.4 159.1L131.9 155.1L132.4 151.4L132.9 147.8L133.4 144.5L133.9 141.4L134.4 138.6L134.9 135.9L135.4 133.5L135.9 131.3L136.4 129.3L136.9 127.6L137.4 126.0L137.9 124.7L138.4 123.5L138.9 122.6L139.4 122.0L139.9 121.5L140.4 121.2L140.9 121.2L141.4 121.4L141.9 121.7L142.4 122.3L142.9 123.2L143.4 124.2L143.9 125.4L144.4 126.9L144.9 128.6L145.4 130.5L145.9 132.6L146.4 134.9L146.9 137.5L147.4 140.3L147.9 143.3L148.4 146.5L148.9 149.9L149.4 153.6L149.9 157.4L150.4 161.5L150.9 165.9L151.4 170.4L151.9 175.2L152.4 180.2L152.9 185.4L153.4 190.8L153.9 196.4L154.4 202.3L154.9 208.4L155.4 214.7L155.9 221.2L156.4 227.9L156.9 234.9L157.4 242.0L157.9 249.4L158.4 257.0L158.9 264.7L159.4 272.7L159.9 280.9L160.4 289.2L160.9 297.8L161.4 306.5L161.9 315.4L162.4 324.5L162.9 333.8L163.4 343.2L163.9 352.7L164.4 362.5L164.9 372.3L165.4 382.3L165.9 392.5L166.4 402.7L166.9 413.1L167.4 423.6L167.9 434.2L168.4 444.8L168.9 455.6L169.4 466.4L169.9 477.3L170.4 488.3L170.9 499.3L171.4 510.4L171.9 521.5L172.4 532.6L172.9 543.7L173.4 554.8L173.9 565.9L174.4 577.1L174.9 588.1L175.4 599.2L175.9 610.2L176.4 621.2L176.9 632.1L177.4 642.9L177.9 653.7L178.4 664.4L178.9 675.0L179.4 685.5L179.9 695.8L180.4 706.1L180.9 716.2L181.4 726.3L181.9 736.1L182.4 745.9L182.9 755.4L183.4 764.8L183.9 774.1L184.4 783.2L184.9 792.1L185.4 800.8L185.9 809.4L186.4 817.8L186.9 825.9L187.4 833.9L187.9 841.7L188.4 849.3L188.9 856.7L189.4 863.8L189.9 870.8L190.4 877.5L190.9 884.0L191.4 890.4L191.9 896.5L192.4 902.3L192.9 908.0L193.4 913.4L193.9 918.7L194.4 923.6L194.9 928.4L195.4 933.0L195.9 937.3L196.4 941.4L196.9 945.3L197.4 949.0L197.9 952.4L198.4 955.6L198.9 958.6L199.4 961.4L199.9 964.0L200.4 966.3L200.9 968.5L201.4 970.4L201.9 972.1L202.4 973.6L202.9 974.8L203.4 975.9L203.9 976.7L204.4 977.3L204.9 977.7L205.4 977.9L205.9 977.8L206.4 977.6L206.9 977.1L207.4 976.5L207.9 975.6L208.4 974.5L208.9 973.1L209.4 971.6L209.9 969.8L210.4 967.9L210.9 965.7L211.4 963.2L211.9 960.6L212.4 957.8L212.9 954.7L213.4 951.4L213.9 947.9L214.4 944.2L214.9 940.2L215.4 936.0L215.9 931.6L216.4 927.0L216.9 922.2L217.4 917.1L217.9 911.8L218.4 906.3L218.9 900.6L219.4 894.7L219.9 888.5L220.4 882.1L220.9 875.5L221.4 868.7L221.9 861.7L222.4 854.5L222.9 847.0L223.4 839.4L223.9 831.5L224.4 823.5L224.9 815.3L225.4 806.9L225.9 798.2L226.4 789.5L226.9 780.5L227.4 771.3L227.9 762.0L228.4 752.6L228.9 742.9L229.4 733.2L229.9 723.3L230.4 713.2L230.9 703.0L231.4 692.7L231.9 682.3L232.4 671.8L232.9 661.2L233.4 650.5L233.9 639.7L234.4 628.8L234.9 617.9L235.4 606.9L235.9 595.9L236.4 584.8L236.9 573.7L237.4 562.6L237.9 551.5L238.4 540.4L238.9 529.2L239.4 518.1L239.9 507.0L240.4 496.0L240.9 485.0L241.4 474.1L241.9 463.2L242.4 452.4L242.9 441.6L243.4 431.0L243.9 420.4L244.4 410.0L244.9 399.6L245.4 389.4L245.9 379.3L246.4 369.3L246.9 359.5L247.4 349.8L247.9 340.3L248.4 331.0L248.9 321.8L249.4 312.7L249.9 303.9L250.4 295.2L250.9 286.7L251.4 278.4L251.9 270.3L252.4 262.4L252.9 254.7L253.4 247.2L253.9 239.9L254.4 232.8L254.9 225.9L255.4 219.2L255.9 212.8L256.4 206.5L256.9 200.5L257.4 194.7L257.9 189.1L258.4 183.8L258.9 178.6L259.4 173.7L259.9 169.0L260.4 164.5L260.9 160.3L261.4 156.3L261.9 152.5L262.4 148.9L262.9 145.5L263.4 142.3L263.9 139.4L264.4 136.7L264.9 134.2L265.4 132.0L265.9 129.9L266.4 128.1L266.9 126.4L267.4 125.0L267.9 123.9L268.4 122.9L268.9 122.1L269.4 121.6L269.9 121.3L270.4 121.2L270.9 121.3L271.4 121.6L271.9 122.1L272.4 122.9L272.9 123.9L273.4 125.0L273.9 126.4L274.4 128.1L274.9 129.9L275.4 132.0L275.9 134.2L276.4 136.7L276.9 139.4L277.4 142.3L277.9 145.5L278.4 148.9L278.9 152.5L279.4 156.3L279.9 160.3L280.4 164.5L280.9 169.0L281.4 173.7L281.9 178.6L282.4 183.8L282.9 189.1L283.4 194.7L283.9 200.5L284.4 206.5L284.9 212.8L285.4 219.2L285.9 225.9L286.4 232.8L286.9 239.9L287.4 247.2L287.9 254.7L288.4 262.4L288.9 270.3L289.4 278.4L289.9 286.7L290.4 295.2L290.9 303.9L291.4 312.7L291.9 321.8L292.4 331.0L292.9 340.3L293.4 349.8L293.9 359.5L294.4 369.3L294.9 379.3L295.4 389.4L295.9 399.6L296.4 410.0L296.9 420.4L297.4 431.0L297.9 441.6L298.4 452.4L298.9 463.2L299.4 474.1L299.9 485.0L300.4 496.0L300.9 507.0L301.4 518.1L301.9 529.2L302.4 540.4L302.9 551.5L303.4 562.6L303.9 573.7L304.4 584.8L304.9 595.9L305.4 606.9L305.9 617.9L306.4 628.8L306.9 639.7L307.4 650.5L307.9 661.2L308.4 671.8L308.9 682.3L309.4 692.7L309.9 703.0L310.4 713.2L310.9 723.3L311.4 733.2L311.9 742.9L312.4 752.6L312.9 762.0L313.4 771.3L313.9 780.5L314.4 789.5L314.9 798.2L315.4 806.9L315.9 815.3L316.4 823.5L316.9 831.5L317.4 839.4L317.9 847.0L318.4 854.5L318.9 861.7L319.4 868.7L319.9 875.5L320.4 882.1L320.9 888.5L321.4 894.7L321.9 900.6L322.4 906.3L322.9 911.8L323.4 917.1L323.9 922.2L324.4 927.0L324.9 931.6L325.4 936.0L325.9 940.2L326.4 944.2L326.9 947.9L327.4 951.4L327.9 954.7L328.4 957.8L328.9 960.6L329.4 963.2L329.9 965.7L330.4 967.9L330.9 969.8L331.4 971.6L331.9 973.1L332.4 974.5L332.9 975.6L333.4 976.5L333.9 977.1L334.4 977.6L334.9 977.8L335.4 977.9L335.9 977.7L336.4 977.3L336.9 976.7L337.4 975.9L337.9 974.8L338.4 973.6L338.9 972.1L339.4 970.4L339.9 968.5L340.4 966.3L340.9 964.0L341.4 961.4L341.9 958.6L342.4 955.6L342.9 952.4L343.4 949.0L343.9 945.3L344.4 941.4L344.9 937.3L345.4 933.0L345.9 928.4L346.4 923.6L346.9 918.7L347.4 913.4L347.9 908.0L348.4 902.3L348.9 896.5L349.4 890.4L349.9 884.0L350.4 877.5L350.9 870.8L351.4 863.8L351.9 856.7L352.4 849.3L352.9 841.7L353.4 833.9L353.9 825.9L354.4 817.8L354.9 809.4L355.4 800.8L355.9 792.1L356.4 783.2L356.9 774.1L357.4 764.8L357.9 755.4L358.4 745.9L358.9 736.1L359.4 726.3L359.9 716.2L360.4 706.1L360.9 695.8L361.4 685.5L361.9 675.0L362.4 664.4L362.9 653.7L363.4 642.9L363.9 632.1L364.4 621.2L364.9 610.2L365.4 599.2L365.9 588.1L366.4 577.1L366.9 565.9L367.4 554.8L367.9 543.7L368.4 532.6L368.9 521.5L369.4 510.4L369.9 499.3L370.4 488.3L370.9 477.3L371.4 466.4L371.9 455.6L372.4 444.8L372.9 434.2L373.4 423.6L373.9 413.1L374.4 402.7L374.9 392.5L375.4 382.3L375.9 372.3L376.4 362.5L376.9 352.7L377.4 343.2L377.9 333.8L378.4 324.5L378.9 315.4L379.4 306.5L379.9 297.8L380.4 289.2L380.9 280.9L381.4 272.7L381.9 264.7L382.4 257.0L382.9 249.4L383.4 242.0L383.9 234.9L384.4 227.9L384.9 221.2L385.4 214.7L385.9 208.4L386.4 202.3L386.9 196.4L387.4 190.8L387.9 185.4L388.4 180.2L388.9 175.2L389.4 170.4L389.9 165.9L390.4 161.5L390.9 157.4L391.4 153.6L391.9 149.9L392.4 146.5L392.9 143.3L393.4 140.3L393.9 137.5L394.4 134.9L394.9 132.6L395.4 130.5L395.9 128.6L396.4 126.9L396.9 125.4L397.4 124.2L397.9 123.2L398.4 122.3L398.9 121.7L399.4 121.4L399.9 121.2L400.4 121.2L400.9 121.5L401.4 122.0L401.9 122.6L402.4 123.5L402.9 124.7L403.4 126.0L403.9 127.6L404.4 129.3L404.9 131.3L405.4 133.5L405.9 135.9L406.4 138.6L406.9 141.4L407.4 144.5L407.9 147.8L408.4 151.4L408.9 155.1L409.4 159.1L409.9 163.2L410.4 167.7L410.9 172.3L411.4 177.1L411.9 182.2L412.4 187.5L412.9 193.0L413.4 198.8L413.9 204.7L414.4 210.9L414.9 217.3L415.4 223.9L415.9 230.7L416.4 237.7L416.9 245.0L417.4 252.4L417.9 260.1L418.4 267.9L418.9 276.0L419.4 284.2L419.9 292.6L420.4 301.3L420.9 310.1L421.4 319.0L421.9 328.2L422.4 337.5L422.9 347.0L423.4 356.6L423.9 366.4L424.4 376.3L424.9 386.4L425.4 396.5L425.9 406.8L426.4 417.3L426.9 427.8L427.4 438.4L427.9 449.1L428.4 459.9L428.9 470.8L429.4 481.7L429.9 492.7L430.4 503.7L430.9 514.8L431.4 525.9L431.9 537.0L432.4 548.1L432.9 559.3L433.4 570.4L433.9 581.5L434.4 592.6L434.9 603.6L435.4 614.6L435.9 625.6L436.4 636.4L436.9 647.3L437.4 658.0L437.9 668.6L438.4 679.2L438.9 689.6L439.4 700.0L439.9 710.2L440.4 720.3L440.9 730.2L441.4 740.0L441.9 749.7L442.4 759.2L442.9 768.6L443.4 777.8L443.9 786.8L444.4 795.6L444.9 804.3L445.4 812.8L445.9 821.1L446.4 829.2L446.9 837.1L447.4 844.8L447.9 852.3L448.4 859.5L448.9 866.6L449.4 873.5L449.9 880.2L450.4 886.6L450.9 892.8L451.4 898.8L451.9 904.6L452.4 910.2L452.9 915.5L453.4 920.7L453.9 925.6L454.4 930.3L454.9 934.7L455.4 939.0L455.9 943.0L456.4 946.8L456.9 950.4L457.4 953.7L457.9 956.9L458.4 959.8L458.9 962.5L459.4 965.0L459.9 967.2L460.4 969.3L460.9 971.1L461.4 972.7L461.9 974.1L462.4 975.3L462.9 976.2L463.4 977.0L463.9 977.5L464.4 977.8L464.9 977.9L465.4 977.8L465.9 977.4L466.4 976.9L466.9 976.1L467.4 975.1L467.9 974.0L468.4 972.5L468.9 970.9L469.4 969.1L469.9 967.0L470.4 964.7L470.9 962.2L471.4 959.5L471.9 956.6L472.4 953.4L472.9 950.0L473.4 946.4L473.9 942.6L474.4 938.6L474.9 934.3L475.4 929.8L475.9 925.1L476.4 920.2L476.9 915.0L477.4 909.7L477.9 904.1L478.4 898.2L478.9 892.2L479.4 886.0L479.9 879.5L480.4 872.8L480.9 865.9L481.4 858.8L481.9 851.5L482.4 844.0L482.9 836.3L483.4 828.4L483.9 820.2L484.4 811.9L484.9 803.4L485.4 794.7L485.9 785.9L486.4 776.8L486.9 767.6L487.4 758.3L487.9 748.7L488.4 739.1L488.9 729.2L489.4 719.3L489.9 709.2L490.4 698.9L490.9 688.6L491.4 678.1L491.9 667.6L492.4 656.9L492.9 646.2L493.4 635.4L493.9 624.5L494.4 613.5L494.9 602.5L495.4 591.5L495.9 580.4L496.4 569.3L496.9 558.2L497.4 547.0L497.9 535.9L498.4 524.8L498.9 513.7L499.4 502.6L499.9 491.6L500.4 480.6L500.9 469.7L501.4 458.8L501.9 448.0L502.4 437.3L502.9 426.7L503.4 416.2L503.9 405.8L504.4 395.5L504.9 385.3L505.4 375.3L505.9 365.4L506.4 355.6L506.9 346.0L507.4 336.6L507.9 327.3L508.4 318.1L508.9 309.2L509.4 300.4L509.9 291.8L510.4 283.4L510.9 275.1L511.4 267.1L511.9 259.3L512.4 251.7L512.9 244.2L513.4 237.0L513.9 230.0L514.4 223.2L514.9 216.6L515.4 210.3L515.9 204.1L516.4 198.2L516.9 192.5L517.4 187.0L517.9 181.7L518.4 176.6L518.9 171.8L519.4 167.2L519.9 162.8L520.4 158.7L520.9 154.7L521.4 151.0L521.9 147.5L522.4 144.2L522.9 141.2L523.4 138.3L523.9 135.7L524.4 133.3L524.9 131.1L525.4 129.1L525.9 127.4L526.4 125.9L526.9 124.5L527.4 123.4L527.9 122.6L528.4 121.9L528.9 121.4L529.4 121.2L529.9 121.2L530.4 121.4L530.9 121.8L531.4 122.4L531.9 123.3L532.4 124.3L532.9 125.6L533.4 127.1L533.9 128.8L534.4 130.7L534.9 132.8L535.4 135.2L535.9 137.8L536.4 140.6L536.9 143.6L537.4 146.8L537.9 150.3L538.4 154.0L538.9 157.8L539.4 162.0L539.9 166.3L540.4 170.9L540.9 175.7L541.4 180.7L541.9 185.9L542.4 191.3L542.9 197.0L543.4 202.9L543.9 209.0L544.4 215.3L544.9 221.9L545.4 228.6L545.9 235.6L546.4 242.8L546.9 250.2L547.4 257.7L547.9 265.5L548.4 273.5L548.9 281.7L549.4 290.1L549.9 298.7L550.4 307.4L550.9 316.3L551.4 325.4L551.9 334.7L552.4 344.1L552.9 353.7L553.4 363.4L553.9 373.3L554.4 383.3L554.9 393.5L555.4 403.7L555.9 414.1L556.4 424.6L556.9 435.2L557.4 445.9L557.9 456.7L558.4 467.5L558.9 478.4L559.4 489.4L559.9 500.4L560.4 511.5L560.9 522.6L561.4 533.7L561.9 544.8L562.4 555.9L562.9 567.1L563.4 578.2L563.9 589.3L564.4 600.3L564.9 611.3L565.4 622.3L565.9 633.2L566.4 644.0L566.9 654.8L567.4 665.4L567.9 676.0L568.4 686.5L568.9 696.9L569.4 707.1L569.9 717.2L570.4 727.2L570.9 737.1L571.4 746.8L571.9 756.4L572.4 765.8L572.9 775.0L573.4 784.1L573.9 793.0L574.4 801.7L574.9 810.2L575.4 818.6L575.9 826.7L576.4 834.7L576.9 842.5L577.4 850.0L577.9 857.4L578.4 864.5L578.9 871.5L579.4 878.2L579.9 884.7L580.4 891.0L580.9 897.1L581.4 902.9L581.9 908.5L582.4 914.0L582.9 919.2L583.4 924.1L583.9 928.9L584.4 933.4L584.9 937.7L585.4 941.8L585.9 945.7L586.4 949.3L586.9 952.7L587.4 955.9L587.9 958.9L588.4 961.7L588.9 964.2L589.4 966.6L589.9 968.7L590.4 970.6L590.9 972.2L591.4 973.7L591.9 974.9L592.4 976.0L592.9 976.8L593.4 977.4L593.9 977.7L594.4 977.9L594.9 977.8L595.4 977.6L595.9 977.1L596.4 976.4L596.9 975.5L597.4 974.3L597.9 973.0L598.4 971.4L598.9 969.6L599.4 967.6L599.9 965.4L600.4 963.0L600.9 960.3L601.4 957.5L601.9 954.4L602.4 951.1L602.9 947.5L603.4 943.8L603.9 939.8L604.4 935.6L604.9 931.2L605.4 926.5L605.9 921.7L606.4 916.6L606.9 911.3L607.4 905.8L607.9 900.0L608.4 894.0L608.9 887.9L609.4 881.5L609.9 874.8L610.4 868.0L610.9 861.0L611.4 853.7L611.9 846.3L612.4 838.6L612.9 830.8L613.4 822.7L613.9 814.4L614.4 806.0L614.9 797.4L615.4 788.6L615.9 779.6L616.4 770.4L616.9 761.1L617.4 751.6L617.9 742.0L618.4 732.2L618.9 722.3L619.4 712.2L619.9 702.0L620.4 691.7L620.9 681.3L621.4 670.7L621.9 660.1L622.4 649.4L622.9 638.6L623.4 627.7L623.9 616.8L624.4 605.8L624.9 594.8L625.4 583.7L625.9 572.6L626.4 561.5L626.9 550.4L627.4 539.2L627.9 528.1L628.4 517.0L628.9 505.9L629.4 494.9L629.9 483.9L630.4 473.0L630.9 462.1L631.4 451.3L631.9 440.5L632.4 429.9L632.9 419.4L633.4 408.9L633.9 398.6L634.4 388.4L634.9 378.3L635.4 368.4L635.9 358.5L636.4 348.9L636.9 339.4L637.4 330.0L637.9 320.8L638.4 311.8L638.9 303.0L639.4 294.3L639.9 285.9L640.4 277.6L640.9 269.5L641.4 261.6L641.9 253.9L642.4 246.4L642.9 239.2L643.4 232.1L643.9 225.2L644.4 218.6L644.9 212.1L645.4 205.9L645.9 199.9L646.4 194.2L646.9 188.6L647.4 183.3L647.9 178.1L648.4 173.2L648.9 168.6L649.4 164.1L649.9 159.9L650.4 155.9L650.9 152.1L651.4 148.5L651.9 145.2L652.4 142.0L652.9 139.1L653.4 136.5L653.9 134.0L654.4 131.7L654.9 129.7L655.4 127.9L655.9 126.3L656.4 124.9L656.9 123.8L657.4 122.8L657.9 122.1L658.4 121.6L658.9 121.3L659.4 121.2L659.9 121.3L660.4 121.6L660.9 122.2L661.4 123.0L661.9 124.0L662.4 125.2L662.9 126.6L663.4 128.2L663.9 130.1L664.4 132.2L664.9 134.5L665.4 137.0L665.9 139.7L666.4 142.7L666.9 145.8L667.4 149.2L667.9 152.8L668.4 156.7L668.9 160.7L669.4 165.0L669.9 169.5L670.4 174.2L670.9 179.1L671.4 184.3L671.9 189.7L672.4 195.3L672.9 201.1L673.4 207.2L673.9 213.4L674.4 219.9L674.9 226.6L675.4 233.5L675.9 240.6L676.4 247.9L676.9 255.4L677.4 263.2L677.9 271.1L678.4 279.2L678.9 287.6L679.4 296.1L679.9 304.8L680.4 313.6L680.9 322.7L681.4 331.9L681.9 341.3L682.4 350.8L682.9 360.5L683.4 370.3L683.9 380.3L684.4 390.4L684.9 400.6L685.4 411.0L685.9 421.5L686.4 432.0L686.9 442.7L687.4 453.4L687.9 464.3L688.4 475.1L688.9 486.1L689.4 497.1L689.9 508.2L690.4 519.2L690.9 530.3L691.4 541.5L691.9 552.6L692.4 563.7L692.9 574.8L693.4 585.9L693.9 597.0L694.4 608.0L694.9 619.0L695.4 629.9L695.9 640.8L696.4 651.6L696.9 662.3L697.4 672.9L697.9 683.4L698.4 693.8L698.9 704.1L699.4 714.2L699.9 724.3L700.4 734.2L700.9 743.9L701.4 753.5L701.9 763.0L702.4 772.3L702.9 781.4L703.4 790.3L703.9 799.1L704.4 807.7L704.9 816.1L705.4 824.3L705.9 832.3L706.4 840.2L706.9 847.8L707.4 855.2L707.9 862.4L708.4 869.4L708.9 876.2L709.4 882.8L709.9 889.1L710.4 895.3L710.9 901.2L711.4 906.9L711.9 912.4L712.4 917.6L712.9 922.7L713.4 927.5L713.9 932.1L714.4 936.5L714.9 940.6L715.4 944.5L715.9 948.3L716.4 951.7L716.9 955.0L717.4 958.1L717.9 960.9L718.4 963.5L718.9 965.9L719.4 968.1L719.9 970.0L720.4 971.8L720.9 973.3L721.4 974.6L721.9 975.7L722.4 976.5L722.9 977.2L723.4 977.6L723.9 977.9L724.4 977.9L724.9 977.7L725.4 977.2L725.9 976.6L726.4 975.8L726.9 974.7L727.4 973.4L727.9 971.9L728.4 970.2L728.9 968.3L729.4 966.1L729.9 963.7L730.4 961.2L730.9 958.4L731.4 955.3L731.9 952.1L732.4 948.6L732.9 944.9L733.4 941.0L733.9 936.9L734.4 932.5L734.9 928.0L735.4 923.2L735.9 918.1L736.4 912.9L736.9 907.4L737.4 901.8L737.9 895.9L738.4 889.7L738.9 883.4L739.4 876.9L739.9 870.1L740.4 863.1L740.9 855.9L741.4 848.5L741.9 840.9L742.4 833.1L742.9 825.1L743.4 816.9L743.9 808.6L744.4 800.0L744.9 791.2L745.4 782.3L745.9 773.2L746.4 763.9L746.9 754.5L747.4 744.9L747.9 735.1L748.4 725.3L748.9 715.2L749.4 705.1L749.9 694.8L750.4 684.4L750.9 673.9L751.4 663.3L751.9 652.6L752.4 641.9L752.9 631.0L753.4 620.1L753.9 609.1L754.4 598.1L754.9 587.0L755.4 575.9L755.9 564.8L756.4 553.7L756.9 542.6L757.4 531.5L757.9 520.3L758.4 509.3L758.9 498.2L759.4 487.2L759.9 476.2L760.4 465.3L760.9 454.5L761.4 443.8L761.9 433.1L762.4 422.5L762.9 412.0L763.4 401.7L763.9 391.4L764.4 381.3L764.9 371.3L765.4 361.5L765.9 351.8L766.4 342.2L766.9 332.8L767.4 323.6L767.9 314.5L768.4 305.6L768.9 296.9L769.4 288.4L769.9 280.1L770.4 271.9L770.9 264.0L771.4 256.2L771.9 248.7L772.4 241.3L772.9 234.2L773.4 227.3L773.9 220.6L774.4 214.1L774.9 207.8L775.4 201.7L775.9 195.9L776.4 190.2L776.9 184.8L777.4 179.6L777.9 174.7L778.4 169.9L778.9 165.4L779.4 161.1L779.9 157.1L780.4 153.2L780.9 149.6L781.4 146.2L781.9 143.0L782.4 140.0L782.9 137.2L783.4 134.7L783.9 132.4L784.4 130.3L784.9 128.4L785.4 126.8L785.9 125.3L786.4 124.1L786.9 123.1L787.4 122.3L787.9 121.7L788.4 121.3L788.9 121.2L789.4 121.2L789.9 121.5L790.4 122.0L790.9 122.7L791.4 123.6L791.9 124.8L792.4 126.1L792.9 127.7L793.4 129.5L793.9 131.5L794.4 133.8L794.9 136.2L795.4 138.9L795.9 141.7L796.4 144.8L796.9 148.2L797.4 151.7L797.9 155.5L798.4 159.5L798.9 163.7L799.4 168.1L799.9 172.8L800.4 177.6L800.9 182.7L801.4 188.1L801.9 193.6L802.4 199.3L802.9 205.3L803.4 211.5L803.9 217.9L804.4 224.6L804.9 231.4L805.4 238.4L805.9 245.7L806.4 253.2L806.9 260.8L807.4 268.7L807.9 276.8L808.4 285.0L808.9 293.5L809.4 302.1L809.9 310.9L810.4 319.9L810.9 329.1L811.4 338.4L811.9 347.9L812.4 357.6L812.9 367.4L813.4 377.3L813.9 387.4L814.4 397.6L814.9 407.9L815.4 418.3L815.9 428.8L816.4 439.5L816.9 450.2L817.4 461.0L817.9 471.9L818.4 482.8L818.9 493.8L819.4 504.8L819.9 515.9L820.4 527.0L820.9 538.1L821.4 549.3L821.9 560.4L822.4 571.5L822.9 582.6L823.4 593.7L823.9 604.7L824.4 615.7L824.9 626.6L825.4 637.5L825.9 648.3L826.4 659.1L826.9 669.7L827.4 680.2L827.9 690.7L828.4 701.0L828.9 711.2L829.4 721.3L829.9 731.2L830.4 741.0L830.9 750.7L831.4 760.2L831.9 769.5L832.4 778.7L832.9 787.7L833.4 796.5L833.9 805.1L834.4 813.6L834.9 821.9L835.4 830.0L835.9 837.8L836.4 845.5L836.9 853.0L837.4 860.3L837.9 867.3L838.4 874.2L838.9 880.8L839.4 887.2L839.9 893.4L840.4 899.4L840.9 905.2L841.4 910.7L841.9 916.1L842.4 921.2L842.9 926.1L843.4 930.7L843.9 935.2L844.4 939.4L844.9 943.4L845.4 947.2L845.9 950.7L846.4 954.1L846.9 957.2L847.4 960.1L847.9 962.7L848.4 965.2L848.9 967.4L849.4 969.5L849.9 971.3L850.4 972.8L850.9 974.2L851.4 975.4L851.9 976.3L852.4 977.0L852.9 977.5L853.4 977.8L853.9 977.9L854.4 977.8L854.9 977.4L855.4 976.8L855.9 976.0L856.4 975.0L856.9 973.8L857.4 972.4L857.9 970.7L858.4 968.9L858.9 966.8L859.4 964.5L859.9 962.0L860.4 959.2L860.9 956.3L861.4 953.1L861.9 949.7L862.4 946.1L862.9 942.2L863.4 938.1L863.9 933.9L864.4 929.4L864.9 924.6L865.4 919.7L865.9 914.5L866.4 909.1L866.9 903.5L867.4 897.7L867.9 891.6L868.4 885.3L868.9 878.8L869.4 872.1L869.9 865.2L870.4 858.1L870.9 850.8L871.4 843.2L871.9 835.5L872.4 827.6L872.9 819.4L873.4 811.1L873.9 802.6L874.4 793.9L874.9 785.0L875.4 775.9L875.9 766.7L876.4 757.3L876.9 747.8L877.4 738.1L877.9 728.2L878.4 718.3L878.9 708.1L879.4 697.9L879.9 687.5L880.4 677.1L880.9 666.5L881.4 655.8L881.9 645.1L882.4 634.3L882.9 623.4L883.4 612.4L883.9 601.4L884.4 590.4L884.9 579.3L885.4 568.2L885.9 557.0L886.4 545.9L886.9 534.8L887.4 523.7L887.9 512.6L888.4 501.5L888.9 490.5L889.4 479.5L889.9 468.6L890.4 457.7L890.9 447.0L891.4 436.3L891.9 425.7L892.4 415.2L892.9 404.8L893.4 394.5L893.9 384.3L894.4 374.3L894.9 364.4L895.4 354.7L895.9 345.1L896.4 335.6L896.9 326.3L897.4 317.2L897.9 308.3L898.4 299.5L898.9 290.9L899.4 282.5L899.9 274.3L900.4 266.3L900.9 258.5L901.4 250.9L901.9 243.5L902.4 236.3L902.9 229.3L903.4 222.5L903.9 216.0L904.4 209.6L904.9 203.5L905.4 197.6L905.9 191.9L906.4 186.4L906.9 181.2L907.4 176.2L907.9 171.3L908.4 166.8L908.9 162.4L909.4 158.3L909.9 154.3L910.4 150.6L910.9 147.2L911.4 143.9L911.9 140.9L912.4 138.0L912.9 135.4L913.4 133.1L913.9 130.9L914.4 129.0L914.9 127.2L915.4 125.7L915.9 124.4L916.4 123.3L916.9 122.5L917.4 121.8L917.9 121.4L918.4 121.2L918.9 121.2L919.4 121.4L919.9 121.8L920.4 122.5L920.9 123.3L921.4 124.4L921.9 125.7L922.4 127.2L922.9 129.0L923.4 130.9L923.9 133.1L924.4 135.4L924.9 138.0L925.4 140.9L925.9 143.9L926.4 147.2L926.9 150.6L927.4 154.3L927.9 158.3L928.4 162.4L928.9 166.8L929.4 171.3L929.9 176.2L930.4 181.2L930.9 186.4L931.4 191.9L931.9 197.6L932.4 203.5L932.9 209.6L933.4 216.0L933.9 222.5L934.4 229.3L934.9 236.3L935.4 243.5L935.9 250.9L936.4 258.5L936.9 266.3L937.4 274.3L937.9 282.5L938.4 290.9L938.9 299.5L939.4 308.3L939.9 317.2L940.4 326.3L940.9 335.6L941.4 345.1L941.9 354.7L942.4 364.4L942.9 374.3L943.4 384.3L943.9 394.5L944.4 404.8L944.9 415.2L945.4 425.7L945.9 436.3L946.4 447.0L946.9 457.7L947.4 468.6L947.9 479.5L948.4 490.5L948.9 501.5L949.4 512.6L949.9 523.7L950.4 534.8L950.9 545.9L951.4 557.0L951.9 568.2L952.4 579.3L952.9 590.4L953.4 601.4L953.9 612.4L954.4 623.4L954.9 634.3L955.4 645.1L955.9 655.8L956.4 666.5L956.9 677.1L957.4 687.5L957.9 697.9L958.4 708.1L958.9 718.3L959.4 728.2L959.9 738.1L960.4 747.8L960.9 757.3L961.4 766.7L961.9 775.9L962.4 785.0L962.9 793.9L963.4 802.6L963.9 811.1L964.4 819.4L964.9 827.6L965.4 835.5L965.9 843.2L966.4 850.8L966.9 858.1L967.4 865.2L967.9 872.1L968.4 878.8L968.9 885.3L969.4 891.6L969.9 897.7L970.4 903.5L970.9 909.1L971.4 914.5L971.9 919.7L972.4 924.6L972.9 929.4L973.4 933.9L973.9 938.1L974.4 942.2L974.9 946.1L975.4 949.7L975.9 953.1L976.4 956.3L976.9 959.2L977.4 962.0L977.9 964.5L978.4 966.8L978.9 968.9L979.4 970.7L979.9 972.4L980.4 973.8L980.9 975.0L981.4 976.0L981.9 976.8L982.4 977.4L982.9 977.8L983.4 977.9L983.9 977.8L984.4 977.5L984.9 977.0L985.4 976.3L985.9 975.4L986.4 974.2L986.9 972.8L987.4 971.3L987.9 969.5L988.4 967.4L988.9 965.2L989.4 962.7L989.9 960.1L990.4 957.2L990.9 954.1L991.4 950.7L991.9 947.2L992.4 943.4L992.9 939.4L993.4 935.2L993.9 930.7L994.4 926.1L994.9 921.2L995.4 916.1L995.9 910.7L996.4 905.2L996.9 899.4L997.4 893.4L997.9 887.2L998.4 880.8L998.9 874.2L999.4 867.3L999.9 860.3L1000.4 853.0L1000.9 845.5L1001.4 837.8L1001.9 830.0L1002.4 821.9L1002.9 813.6L1003.4 805.1L1003.9 796.5L1004.4 787.7L1004.9 778.7L1005.4 769.5L1005.9 760.2L1006.4 750.7L1006.9 741.0L1007.4 731.2L1007.9 721.3L1008.4 711.2L1008.9 701.0L1009.4 690.7L1009.9 680.2L1010.4 669.7L1010.9 659.1L1011.4 648.3L1011.9 637.5L1012.4 626.6L1012.9 615.7L1013.4 604.7L1013.9 593.7L1014.4 582.6L1014.9 571.5L1015.4 560.4L1015.9 549.3L1016.4 538.1L1016.9 527.0L1017.4 515.9L1017.9 504.8L1018.4 493.8L1018.9 482.8L1019.4 471.9L1019.9 461.0L1020.4 450.2L1020.9 439.5L1021.4 428.8L1021.9 418.3L1022.4 407.9L1022.9 397.6L1023.4 387.4L1023.9 377.3L1024.4 367.4L1024.9 357.6L1025.4 347.9L1025.9 338.4L1026.4 329.1L1026.9 319.9L1027.4 310.9L1027.9 302.1L1028.4 293.5L1028.9 285.0L1029.4 276.8L1029.9 268.7L1030.4 260.8L1030.9 253.2L1031.4 245.7L1031.9 238.4L1032.4 231.4L1032.9 224.6L1033.4 217.9L1033.9 211.5L1034.4 205.3L1034.9 199.3L1035.4 193.6L1035.9 188.1L1036.4 182.7L1036.9 177.6L1037.4 172.8L1037.9 168.1L1038.4 163.7L1038.9 159.5L1039.4 155.5L1039.9 151.7L1040.4 148.2L1040.9 144.8L1041.4 141.7L1041.9 138.9L1042.4 136.2L1042.9 133.8L1043.4 131.5L1043.9 129.5L1044.4 127.7L1044.9 126.1L1045.4 124.8L1045.9 123.6L1046.4 122.7L1046.9 122.0L1047.4 121.5L1047.9 121.2L1048.4 121.2L1048.9 121.3L1049.4 121.7L1049.9 122.3L1050.4 123.1L1050.9 124.1L1051.4 125.3L1051.9 126.8L1052.4 128.4L1052.9 130.3L1053.4 132.4L1053.9 134.7L1054.4 137.2L1054.9 140.0L1055.4 143.0L1055.9 146.2L1056.4 149.6L1056.9 153.2L1057.4 157.1L1057.9 161.1L1058.4 165.4L1058.9 169.9L1059.4 174.7L1059.9 179.6L1060.4 184.8L1060.9 190.2L1061.4 195.9L1061.9 201.7L1062.4 207.8L1062.9 214.1L1063.4 220.6L1063.9 227.3L1064.4 234.2L1064.9 241.3L1065.4 248.7L1065.9 256.2L1066.4 264.0L1066.9 271.9L1067.4 280.1L1067.9 288.4L1068.4 296.9L1068.9 305.6L1069.4 314.5L1069.9 323.6L1070.4 332.8L1070.9 342.2L1071.4 351.8L1071.9 361.5L1072.4 371.3L1072.9 381.3L1073.4 391.4L1073.9 401.7L1074.4 412.0L1074.9 422.5L1075.4 433.1L1075.9 443.8L1076.4 454.5L1076.9 465.3L1077.4 476.2L1077.9 487.2L1078.4 498.2L1078.9 509.3L1079.4 520.3L1079.9 531.5L1080.4 542.6L1080.9 553.7L1081.4 564.8L1081.9 575.9L1082.4 587.0L1082.9 598.1L1083.4 609.1L1083.9 620.1L1084.4 631.0L1084.9 641.9L1085.4 652.6L1085.9 663.3L1086.4 673.9L1086.9 684.4L1087.4 694.8L1087.9 705.1L1088.4 715.2L1088.9 725.3L1089.4 735.1L1089.9 744.9L1090.4 754.5L1090.9 763.9L1091.4 773.2L1091.9 782.3L1092.4 791.2L1092.9 800.0L1093.4 808.6L1093.9 816.9L1094.4 825.1L1094.9 833.1L1095.4 840.9L1095.9 848.5L1096.4 855.9L1096.9 863.1L1097.4 870.1L1097.9 876.9L1098.4 883.4L1098.9 889.7L1099.4 895.9L1099.9 901.8L1100.4 907.4L1100.9 912.9L1101.4 918.1L1101.9 923.2L1102.4 928.0L1102.9 932.5L1103.4 936.9L1103.9 941.0L1104.4 944.9L1104.9 948.6L1105.4 952.1L1105.9 955.3L1106.4 958.4L1106.9 961.2L1107.4 963.7L1107.9 966.1L1108.4 968.3L1108.9 970.2L1109.4 971.9L1109.9 973.4L1110.4 974.7L1110.9 975.8L1111.4 976.6L1111.9 977.2L1112.4 977.7L1112.9 977.9L1113.4 977.9L1113.9 977.6L1114.4 977.2L1114.9 976.5L1115.4 975.7L1115.9 974.6L1116.4 973.3L1116.9 971.8L1117.4 970.0L1117.9 968.1L1118.4 965.9L1118.9 963.5L1119.4 960.9L1119.9 958.1L1120.4 955.0L1120.9 951.7L1121.4 948.3L1121.9 944.5L1122.4 940.6L1122.9 936.5L1123.4 932.1L1123.9 927.5L1124.4 922.7L1124.9 917.6L1125.4 912.4L1125.9 906.9L1126.4 901.2L1126.9 895.3L1127.4 889.1L1127.9 882.8L1128.4 876.2L1128.9 869.4L1129.4 862.4L1129.9 855.2L1130.4 847.8L1130.9 840.2L1131.4 832.3L1131.9 824.3L1132.4 816.1L1132.9 807.7L1133.4 799.1L1133.9 790.3L1134.4 781.4L1134.9 772.3L1135.4 763.0L1135.9 753.5L1136.4 743.9L1136.9 734.2L1137.4 724.3L1137.9 714.2L1138.4 704.1L1138.9 693.8L1139.4 683.4L1139.9 672.9L1140.4 662.3L1140.9 651.6L1141.4 640.8L1141.9 629.9L1142.4 619.0L1142.9 608.0L1143.4 597.0L1143.9 585.9L1144.4 574.8L1144.9 563.7L1145.4 552.6L1145.9 541.5L1146.4 530.3L1146.9 519.2L1147.4 508.2L1147.9 497.1L1148.4 486.1L1148.9 475.1L1149.4 464.3L1149.9 453.4L1150.4 442.7L1150.9 432.0L1151.4 421.5L1151.9 411.0L1152.4 400.6L1152.9 390.4L1153.4 380.3L1153.9 370.3L1154.4 360.5L1154.9 350.8L1155.4 341.3L1155.9 331.9L1156.4 322.7L1156.9 313.6L1157.4 304.8L1157.9 296.1L1158.4 287.6L1158.9 279.2L1159.4 271.1L1159.9 263.2L1160.4 255.4L1160.9 247.9L1161.4 240.6L1161.9 233.5L1162.4 226.6L1162.9 219.9L1163.4 213.4L1163.9 207.2L1164.4 201.1L1164.9 195.3L1165.4 189.7L1165.9 184.3L1166.4 179.1L1166.9 174.2L1167.4 169.5L1167.9 165.0L1168.4 160.7L1168.9 156.7L1169.4 152.8L1169.9 149.2L1170.4 145.8L1170.9 142.7L1171.4 139.7L1171.9 137.0L1172.4 134.5L1172.9 132.2L1173.4 130.1L1173.9 128.2L1174.4 126.6L1174.9 125.2L1175.4 124.0L1175.9 123.0L1176.4 122.2L1176.9 121.6L1177.4 121.3L1177.9 121.2L1178.4 121.3L1178.9 121.6L1179.4 122.1L1179.9 122.8L1180.4 123.8L1180.9 124.9L1181.4 126.3L1181.9 127.9L1182.4 129.7L1182.9 131.7L1183.4 134.0L1183.9 136.5L1184.4 139.1L1184.9 142.0L1185.4 145.2L1185.9 148.5L1186.4 152.1L1186.9 155.9L1187.4 159.9L1187.9 164.1L1188.4 168.6L1188.9 173.2L1189.4 178.1L1189.9 183.3L1190.4 188.6L1190.9 194.2L1191.4 199.9L1191.9 205.9L1192.4 212.1L1192.9 218.6L1193.4 225.2L1193.9 232.1L1194.4 239.2L1194.9 246.4L1195.4 253.9L1195.9 261.6L1196.4 269.5L1196.9 277.6L1197.4 285.9L1197.9 294.3L1198.4 303.0L1198.9 311.8L1199.4 320.8L1199.9 330.0L1200.4 339.4L1200.9 348.9L1201.4 358.5L1201.9 368.4L1202.4 378.3L1202.9 388.4L1203.4 398.6L1203.9 408.9L1204.4 419.4L1204.9 429.9L1205.4 440.5L1205.9 451.3L1206.4 462.1L1206.9 473.0L1207.4 483.9L1207.9 494.9L1208.4 505.9L1208.9 517.0L1209.4 528.1L1209.9 539.2L1210.4 550.4L1210.9 561.5L1211.4 572.6L1211.9 583.7L1212.4 594.8L1212.9 605.8L1213.4 616.8L1213.9 627.7L1214.4 638.6L1214.9 649.4L1215.4 660.1L1215.9 670.7L1216.4 681.3L1216.9 691.7L1217.4 702.0L1217.9 712.2L1218.4 722.3L1218.9 732.2L1219.4 742.0L1219.9 751.6L1220.4 761.1L1220.9 770.4L1221.4 779.6L1221.9 788.6L1222.4 797.4L1222.9 806.0L1223.4 814.4L1223.9 822.7L1224.4 830.8L1224.9 838.6L1225.4 846.3L1225.9 853.7L1226.4 861.0L1226.9 868.0L1227.4 874.8L1227.9 881.5L1228.4 887.9L1228.9 894.0L1229.4 900.0L1229.9 905.8L1230.4 911.3L1230.9 916.6L1231.4 921.7L1231.9 926.5L1232.4 931.2L1232.9 935.6L1233.4 939.8L1233.9 943.8L1234.4 947.5L1234.9 951.1L1235.4 954.4L1235.9 957.5L1236.4 960.3L1236.9 963.0L1237.4 965.4L1237.9 967.6L1238.4 969.6L1238.9 971.4L1239.4 973.0L1239.9 974.3L1240.4 975.5L1240.9 976.4L1241.4 977.1L1241.9 977.6L1242.4 977.8L1242.9 977.9L1243.4 977.7L1243.9 977.4L1244.4 976.8L1244.9 976.0L1245.4 974.9L1245.9 973.7L1246.4 972.2L1246.9 970.6L1247.4 968.7L1247.9 966.6L1248.4 964.2L1248.9 961.7L1249.4 958.9L1249.9 955.9L1250.4 952.7L1250.9 949.3L1251.4 945.7L1251.9 941.8L1252.4 937.7L1252.9 933.4L1253.4 928.9L1253.9 924.1L1254.4 919.2L1254.9 914.0L1255.4 908.5L1255.9 902.9L1256.4 897.1L1256.9 891.0L1257.4 884.7L1257.9 878.2L1258.4 871.5L1258.9 864.5L1259.4 857.4L1259.9 850.0L1260.4 842.5L1260.9 834.7L1261.4 826.7L1261.9 818.6L1262.4 810.2L1262.9 801.7L1263.4 793.0L1263.9 784.1L1264.4 775.0L1264.9 765.8L1265.4 756.4L1265.9 746.8L1266.4 737.1L1266.9 727.2L1267.4 717.2L1267.9 707.1L1268.4 696.9L1268.9 686.5L1269.4 676.0L1269.9 665.4L1270.4 654.8L1270.9 644.0L1271.4 633.2L1271.9 622.3L1272.4 611.3L1272.9 600.3L1273.4 589.3L1273.9 578.2L1274.4 567.1L1274.9 555.9L1275.4 544.8L1275.9 533.7L1276.4 522.6L1276.9 511.5L1277.4 500.4L1277.9 489.4L1278.4 478.4L1278.9 467.5L1279.4 456.7L1279.9 445.9L1280.4 435.2L1280.9 424.6L1281.4 414.1L1281.9 403.7L1282.4 393.5L1282.9 383.3L1283.4 373.3L1283.9 363.4L1284.4 353.7L1284.9 344.1L1285.4 334.7L1285.9 325.4L1286.4 316.3L1286.9 307.4L1287.4 298.7L1287.9 290.1L1288.4 281.7L1288.9 273.5L1289.4 265.5L1289.9 257.7L1290.4 250.2L1290.9 242.8L1291.4 235.6L1291.9 228.6L1292.4 221.9L1292.9 215.3L1293.4 209.0L1293.9 202.9L1294.4 197.0L1294.9 191.3L1295.4 185.9L1295.9 180.7L1296.4 175.7L1296.9 170.9L1297.4 166.3L1297.9 162.0L1298.4 157.8L1298.9 154.0L1299.4 150.3L1299.9 146.8L1300.4 143.6L1300.9 140.6L1301.4 137.8L1301.9 135.2L1302.4 132.8L1302.9 130.7L1303.4 128.8L1303.9 127.1L1304.4 125.6L1304.9 124.3L1305.4 123.3L1305.9 122.4L1306.4 121.8L1306.9 121.4L1307.4 121.2L1307.9 121.2L1308.4 121.4L1308.9 121.9L1309.4 122.6L1309.9 123.4L1310.4 124.5L1310.9 125.9L1311.4 127.4L1311.9 129.1L1312.4 131.1L1312.9 133.3L1313.4 135.7L1313.9 138.3L1314.4 141.2L1314.9 144.2L1315.4 147.5L1315.9 151.0L1316.4 154.7L1316.9 158.7L1317.4 162.8L1317.9 167.2L1318.4 171.8L1318.9 176.6L1319.4 181.7L1319.9 187.0L1320.4 192.5L1320.9 198.2L1321.4 204.1L1321.9 210.3L1322.4 216.6L1322.9 223.2L1323.4 230.0L1323.9 237.0L1324.4 244.2L1324.9 251.7L1325.4 259.3L1325.9 267.1L1326.4 275.1L1326.9 283.4L1327.4 291.8L1327.9 300.4L1328.4 309.2L1328.9 318.1L1329.4 327.3L1329.9 336.6L1330.4 346.0L1330.9 355.6L1331.4 365.4L1331.9 375.3L1332.4 385.3L1332.9 395.5L1333.4 405.8L1333.9 416.2L1334.4 426.7L1334.9 437.3L1335.4 448.0L1335.9 458.8L1336.4 469.7L1336.9 480.6L1337.4 491.6L1337.9 502.6L1338.4 513.7L1338.9 524.8L1339.4 535.9L1339.9 547.0L1340.4 558.2L1340.9 569.3L1341.4 580.4L1341.9 591.5L1342.4 602.5L1342.9 613.5L1343.4 624.5L1343.9 635.4L1344.4 646.2L1344.9 656.9L1345.4 667.6L1345.9 678.1L1346.4 688.6L1346.9 698.9L1347.4 709.2L1347.9 719.3L1348.4 729.2L1348.9 739.1L1349.4 748.7L1349.9 758.3L1350.4 767.6L1350.9 776.8L1351.4 785.9L1351.9 794.7L1352.4 803.4L1352.9 811.9L1353.4 820.2L1353.9 828.4L1354.4 836.3L1354.9 844.0L1355.4 851.5L1355.9 858.8L1356.4 865.9L1356.9 872.8L1357.4 879.5L1357.9 886.0L1358.4 892.2L1358.9 898.2L1359.4 904.1L1359.9 909.7L1360.4 915.0L1360.9 920.2L1361.4 925.1L1361.9 929.8L1362.4 934.3L1362.9 938.6L1363.4 942.6L1363.9 946.4L1364.4 950.0L1364.9 953.4L1365.4 956.6L1365.9 959.5L1366.4 962.2L1366.9 964.7L1367.4 967.0L1367.9 969.1L1368.4 970.9L1368.9 972.5L1369.4 974.0L1369.9 975.1L1370.4 976.1L1370.9 976.9L1371.4 977.4L1371.9 977.8L1372.4 977.9L1372.9 977.8L1373.4 977.5L1373.9 977.0L1374.4 976.2L1374.9 975.3L1375.4 974.1L1375.9 972.7L1376.4 971.1L1376.9 969.3L1377.4 967.2L1377.9 965.0L1378.4 962.5L1378.9 959.8L1379.4 956.9L1379.9 953.7L1380.4 950.4L1380.9 946.8L1381.4 943.0L1381.9 939.0L1382.4 934.7L1382.9 930.3L1383.4 925.6L1383.9 920.7L1384.4 915.5L1384.9 910.2L1385.4 904.6L1385.9 898.8L1386.4 892.8L1386.9 886.6L1387.4 880.2L1387.9 873.5L1388.4 866.6L1388.9 859.5L1389.4 852.3L1389.9 844.8L1390.4 837.1L1390.9 829.2L1391.4 821.1L1391.9 812.8L1392.4 804.3L1392.9 795.6L1393.4 786.8L1393.9 777.8L1394.4 768.6L1394.9 759.2L1395.4 749.7L1395.9 740.0L1396.4 730.2L1396.9 720.3L1397.4 710.2L1397.9 700.0L1398.4 689.6L1398.9 679.2L1399.4 668.6L1399.9 658.0L1400.4 647.3L1400.9 636.4L1401.4 625.6L1401.9 614.6L1402.4 603.6L1402.9 592.6L1403.4 581.5L1403.9 570.4L1404.4 559.3L1404.9 548.1L1405.4 537.0L1405.9 525.9L1406.4 514.8L1406.9 503.7L1407.4 492.7L1407.9 481.7L1408.4 470.8L1408.9 459.9L1409.4 449.1L1409.9 438.4L1410.4 427.8L1410.9 417.3L1411.4 406.8L1411.9 396.5L1412.4 386.4L1412.9 376.3L1413.4 366.4L1413.9 356.6L1414.4 347.0L1414.9 337.5L1415.4 328.2L1415.9 319.0L1416.4 310.1L1416.9 301.3L1417.4 292.6L1417.9 284.2L1418.4 276.0L1418.9 267.9L1419.4 260.1L1419.9 252.4L1420.4 245.0L1420.9 237.7L1421.4 230.7L1421.9 223.9L1422.4 217.3L1422.9 210.9L1423.4 204.7L1423.9 198.8L1424.4 193.0L1424.9 187.5L1425.4 182.2L1425.9 177.1L1426.4 172.3L1426.9 167.7L1427.4 163.2L1427.9 159.1L1428.4 155.1L1428.9 151.4L1429.4 147.8L1429.9 144.5L1430.4 141.4L1430.9 138.6L1431.4 135.9L1431.9 133.5L1432.4 131.3L1432.9 129.3L1433.4 127.6L1433.9 126.0L1434.4 124.7L1434.9 123.5L1435.4 122.6L1435.9 122.0L1436.4 121.5L1436.9 121.2L1437.4 121.2L1437.9 121.4L1438.4 121.7L1438.9 122.3L1439.4 123.2L1439.9 124.2L1440.4 125.4L1440.9 126.9L1441.4 128.6L1441.9 130.5L1442.4 132.6L1442.9 134.9L1443.4 137.5L1443.9 140.3L1444.4 143.3L1444.9 146.5L1445.4 149.9L1445.9 153.6L1446.4 157.4L1446.9 161.5L1447.4 165.9L1447.9 170.4L1448.4 175.2L1448.9 180.2L1449.4 185.4L1449.9 190.8L1450.4 196.4L1450.9 202.3L1451.4 208.4L1451.9 214.7L1452.4 221.2L1452.9 227.9L1453.4 234.9L1453.9 242.0L1454.4 249.4L1454.9 257.0L1455.4 264.7" fill="none" stroke="#d40000" stroke-width="4.0" stroke-linejoin="round"/>
<g fill="#fff" stroke="#000" stroke-width="3.4">
<circle cx="139.4" cy="445.7" r="3.8"/>
<circle cx="159.6" cy="461.4" r="3.8"/>
<circle cx="168.5" cy="496.6" r="3.8"/>
<circle cx="175.6" cy="532.1" r="3.8"/>
<circle cx="182.4" cy="567.7" r="3.8"/>
<circle cx="189.6" cy="603.2" r="3.8"/>
<circle cx="198.8" cy="638.3" r="3.8"/>
<circle cx="219.4" cy="648.8" r="3.8"/>
<circle cx="230.2" cy="614.2" r="3.8"/>
<circle cx="237.8" cy="578.8" r="3.8"/>
<circle cx="244.6" cy="543.2" r="3.8"/>
<circle cx="251.5" cy="507.6" r="3.8"/>
<circle cx="259.6" cy="472.3" r="3.8"/>
<circle cx="274.4" cy="439.9" r="3.8"/>
<circle cx="291.5" cy="469.1" r="3.8"/>
<circle cx="299.8" cy="504.4" r="3.8"/>
<circle cx="306.8" cy="539.9" r="3.8"/>
<circle cx="313.6" cy="575.6" r="3.8"/>
<circle cx="321.0" cy="611.0" r="3.8"/>
<circle cx="331.2" cy="645.8" r="3.8"/>
<circle cx="352.2" cy="641.4" r="3.8"/>
<circle cx="361.7" cy="606.4" r="3.8"/>
<circle cx="369.0" cy="570.9" r="3.8"/>
<circle cx="375.7" cy="535.3" r="3.8"/>
<circle cx="382.8" cy="499.8" r="3.8"/>
<circle cx="391.4" cy="464.6" r="3.8"/>
<circle cx="410.8" cy="443.0" r="3.8"/>
<circle cx="423.2" cy="476.8" r="3.8"/>
<circle cx="431.1" cy="512.2" r="3.8"/>
<circle cx="437.9" cy="547.8" r="3.8"/>
<circle cx="444.8" cy="583.4" r="3.8"/>
<circle cx="452.5" cy="618.8" r="3.8"/>
<circle cx="464.5" cy="652.9" r="3.8"/>
<circle cx="484.3" cy="633.8" r="3.8"/>
<circle cx="493.0" cy="598.6" r="3.8"/>
<circle cx="500.1" cy="563.1" r="3.8"/>
<circle cx="506.9" cy="527.5" r="3.8"/>
<circle cx="514.2" cy="492.0" r="3.8"/>
<circle cx="523.5" cy="457.0" r="3.8"/>
<circle cx="544.3" cy="449.9" r="3.8"/>
<circle cx="554.8" cy="484.6" r="3.8"/>
<circle cx="562.3" cy="520.0" r="3.8"/>
<circle cx="569.1" cy="555.7" r="3.8"/>
<circle cx="576.0" cy="591.2" r="3.8"/>
<circle cx="584.2" cy="626.5" r="3.8"/>
<circle cx="600.3" cy="657.4" r="3.8"/>
<circle cx="616.2" cy="626.1" r="3.8"/>
<circle cx="624.3" cy="590.8" r="3.8"/>
<circle cx="631.3" cy="555.2" r="3.8"/>
<circle cx="638.1" cy="519.6" r="3.8"/>
<circle cx="645.6" cy="484.2" r="3.8"/>
<circle cx="656.1" cy="449.5" r="3.8"/>
<circle cx="676.9" cy="457.4" r="3.8"/>
<circle cx="686.2" cy="492.4" r="3.8"/>
<circle cx="693.4" cy="527.9" r="3.8"/>
<circle cx="700.2" cy="563.5" r="3.8"/>
<circle cx="707.3" cy="599.0" r="3.8"/>
<circle cx="716.1" cy="634.2" r="3.8"/>
<circle cx="736.0" cy="652.5" r="3.8"/>
<circle cx="747.8" cy="618.4" r="3.8"/>
<circle cx="755.5" cy="583.0" r="3.8"/>
<circle cx="762.4" cy="547.4" r="3.8"/>
<circle cx="769.3" cy="511.8" r="3.8"/>
<circle cx="777.1" cy="476.4" r="3.8"/>
<circle cx="789.7" cy="442.6" r="3.8"/>
<circle cx="809.0" cy="465.0" r="3.8"/>
<circle cx="817.5" cy="500.2" r="3.8"/>
<circle cx="824.6" cy="535.7" r="3.8"/>
<circle cx="831.4" cy="571.4" r="3.8"/>
<circle cx="838.7" cy="606.9" r="3.8"/>
<circle cx="848.2" cy="641.8" r="3.8"/>
<circle cx="869.2" cy="645.4" r="3.8"/>
<circle cx="879.3" cy="610.6" r="3.8"/>
<circle cx="886.7" cy="575.1" r="3.8"/>
<circle cx="893.5" cy="539.5" r="3.8"/>
<circle cx="900.5" cy="504.0" r="3.8"/>
<circle cx="908.8" cy="468.7" r="3.8"/>
<circle cx="926.2" cy="440.1" r="3.8"/>
<circle cx="940.8" cy="472.7" r="3.8"/>
<circle cx="948.8" cy="508.0" r="3.8"/>
<circle cx="955.7" cy="543.6" r="3.8"/>
<circle cx="962.6" cy="579.2" r="3.8"/>
<circle cx="970.1" cy="614.6" r="3.8"/>
<circle cx="981.0" cy="649.2" r="3.8"/>
<circle cx="1001.6" cy="637.9" r="3.8"/>
<circle cx="1010.7" cy="602.8" r="3.8"/>
<circle cx="1017.9" cy="567.3" r="3.8"/>
<circle cx="1024.7" cy="531.7" r="3.8"/>
<circle cx="1031.8" cy="496.1" r="3.8"/>
<circle cx="1040.7" cy="461.0" r="3.8"/>
<circle cx="1061.0" cy="446.1" r="3.8"/>
<circle cx="1072.4" cy="480.4" r="3.8"/>
<circle cx="1080.0" cy="515.9" r="3.8"/>
<circle cx="1086.9" cy="551.4" r="3.8"/>
<circle cx="1093.8" cy="587.0" r="3.8"/>
<circle cx="1101.7" cy="622.4" r="3.8"/>
<circle cx="1115.1" cy="655.7" r="3.8"/>
<circle cx="1133.6" cy="630.2" r="3.8"/>
<circle cx="1142.0" cy="595.0" r="3.8"/>
<circle cx="1149.1" cy="559.4" r="3.8"/>
<circle cx="1155.9" cy="523.8" r="3.8"/>
<circle cx="1163.2" cy="488.3" r="3.8"/>
<circle cx="1173.0" cy="453.5" r="3.8"/>
<circle cx="1194.0" cy="453.3" r="3.8"/>
<circle cx="1203.9" cy="488.2" r="3.8"/>
<circle cx="1211.2" cy="523.7" r="3.8"/>
<circle cx="1218.0" cy="559.3" r="3.8"/>
<circle cx="1225.0" cy="594.9" r="3.8"/>
<circle cx="1233.4" cy="630.1" r="3.8"/>
<circle cx="1251.9" cy="655.8" r="3.8"/>
<circle cx="1265.4" cy="622.5" r="3.8"/>
<circle cx="1273.3" cy="587.2" r="3.8"/>
<circle cx="1280.2" cy="551.6" r="3.8"/>
<circle cx="1287.0" cy="516.0" r="3.8"/>
<circle cx="1294.7" cy="480.5" r="3.8"/>
<circle cx="1306.0" cy="446.2" r="3.8"/>
<circle cx="1326.3" cy="460.9" r="3.8"/>
<circle cx="1335.2" cy="496.0" r="3.8"/>
<circle cx="1342.4" cy="531.5" r="3.8"/>
<circle cx="1349.2" cy="567.2" r="3.8"/>
<circle cx="1356.4" cy="602.7" r="3.8"/>
<circle cx="1365.4" cy="637.8" r="3.8"/>
<circle cx="1386.0" cy="649.3" r="3.8"/>
<circle cx="1396.9" cy="614.8" r="3.8"/>
<circle cx="1404.5" cy="579.3" r="3.8"/>
<circle cx="1411.3" cy="543.7" r="3.8"/>
<circle cx="1418.3" cy="508.1" r="3.8"/>
<circle cx="1426.3" cy="472.8" r="3.8"/>
<circle cx="1440.7" cy="440.2" r="3.8"/>
<circle cx="129.4" cy="233.7" r="3.8"/>
<circle cx="145.0" cy="236.0" r="3.8"/>
<circle cx="150.8" cy="271.9" r="3.8"/>
<circle cx="154.5" cy="308.0" r="3.8"/>
<circle cx="157.4" cy="344.3" r="3.8"/>
<circle cx="159.9" cy="380.5" r="3.8"/>
<circle cx="162.1" cy="416.8" r="3.8"/>
<circle cx="164.2" cy="453.1" r="3.8"/>
<circle cx="166.2" cy="489.4" r="3.8"/>
<circle cx="168.1" cy="525.7" r="3.8"/>
<circle cx="170.0" cy="562.0" r="3.8"/>
<circle cx="171.9" cy="598.3" r="3.8"/>
<circle cx="173.9" cy="634.6" r="3.8"/>
<circle cx="176.0" cy="670.9" r="3.8"/>
<circle cx="178.1" cy="707.2" r="3.8"/>
<circle cx="180.6" cy="743.4" r="3.8"/>
<circle cx="183.3" cy="779.7" r="3.8"/>
<circle cx="186.7" cy="815.9" r="3.8"/>
<circle cx="191.5" cy="851.9" r="3.8"/>
<circle cx="205.6" cy="876.1" r="3.8"/>
<circle cx="213.8" cy="840.8" r="3.8"/>
<circle cx="218.0" cy="804.7" r="3.8"/>
<circle cx="221.1" cy="768.5" r="3.8"/>
<circle cx="223.8" cy="732.3" r="3.8"/>
<circle cx="226.1" cy="696.0" r="3.8"/>
<circle cx="228.2" cy="659.7" r="3.8"/>
<circle cx="230.3" cy="623.4" r="3.8"/>
<circle cx="232.2" cy="587.1" r="3.8"/>
<circle cx="234.1" cy="550.8" r="3.8"/>
<circle cx="236.0" cy="514.5" r="3.8"/>
<circle cx="238.0" cy="478.2" r="3.8"/>
<circle cx="240.0" cy="441.9" r="3.8"/>
<circle cx="242.1" cy="405.6" r="3.8"/>
<circle cx="244.4" cy="369.4" r="3.8"/>
<circle cx="247.0" cy="333.1" r="3.8"/>
<circle cx="250.1" cy="296.9" r="3.8"/>
<circle cx="254.2" cy="260.8" r="3.8"/>
<circle cx="261.7" cy="225.3" r="3.8"/>
<circle cx="276.5" cy="244.6" r="3.8"/>
<circle cx="281.4" cy="280.6" r="3.8"/>
<circle cx="284.9" cy="316.8" r="3.8"/>
<circle cx="287.6" cy="353.1" r="3.8"/>
<circle cx="290.1" cy="389.3" r="3.8"/>
<circle cx="292.3" cy="425.6" r="3.8"/>
<circle cx="294.3" cy="461.9" r="3.8"/>
<circle cx="296.3" cy="498.2" r="3.8"/>
<circle cx="298.2" cy="534.5" r="3.8"/>
<circle cx="300.1" cy="570.8" r="3.8"/>
<circle cx="302.1" cy="607.1" r="3.8"/>
<circle cx="304.0" cy="643.4" r="3.8"/>
<circle cx="306.1" cy="679.7" r="3.8"/>
<circle cx="308.4" cy="716.0" r="3.8"/>
<circle cx="310.8" cy="752.2" r="3.8"/>
<circle cx="313.7" cy="788.5" r="3.8"/>
<circle cx="317.3" cy="824.6" r="3.8"/>
<circle cx="322.8" cy="860.6" r="3.8"/>
<circle cx="338.3" cy="867.9" r="3.8"/>
<circle cx="344.6" cy="832.1" r="3.8"/>
<circle cx="348.5" cy="795.9" r="3.8"/>
<circle cx="351.5" cy="759.7" r="3.8"/>
<circle cx="354.0" cy="723.5" r="3.8"/>
<circle cx="356.3" cy="687.2" r="3.8"/>
<circle cx="358.4" cy="650.9" r="3.8"/>
<circle cx="360.4" cy="614.6" r="3.8"/>
<circle cx="362.3" cy="578.3" r="3.8"/>
<circle cx="364.2" cy="542.0" r="3.8"/>
<circle cx="366.2" cy="505.7" r="3.8"/>
<circle cx="368.1" cy="469.4" r="3.8"/>
<circle cx="370.2" cy="433.1" r="3.8"/>
<circle cx="372.3" cy="396.8" r="3.8"/>
<circle cx="374.7" cy="360.6" r="3.8"/>
<circle cx="377.4" cy="324.3" r="3.8"/>
<circle cx="380.6" cy="288.1" r="3.8"/>
<circle cx="385.1" cy="252.0" r="3.8"/>
<circle cx="396.9" cy="219.3" r="3.8"/>
<circle cx="407.6" cy="253.3" r="3.8"/>
<circle cx="412.0" cy="289.4" r="3.8"/>
<circle cx="415.2" cy="325.6" r="3.8"/>
<circle cx="417.9" cy="361.9" r="3.8"/>
<circle cx="420.3" cy="398.1" r="3.8"/>
<circle cx="422.4" cy="434.4" r="3.8"/>
<circle cx="424.5" cy="470.7" r="3.8"/>
<circle cx="426.4" cy="507.0" r="3.8"/>
<circle cx="428.3" cy="543.3" r="3.8"/>
<circle cx="430.2" cy="579.6" r="3.8"/>
<circle cx="432.2" cy="615.9" r="3.8"/>
<circle cx="434.2" cy="652.2" r="3.8"/>
<circle cx="436.3" cy="688.5" r="3.8"/>
<circle cx="438.6" cy="724.8" r="3.8"/>
<circle cx="441.1" cy="761.0" r="3.8"/>
<circle cx="444.1" cy="797.3" r="3.8"/>
<circle cx="448.0" cy="833.4" r="3.8"/>
<circle cx="454.5" cy="869.1" r="3.8"/>
<circle cx="470.0" cy="859.3" r="3.8"/>
<circle cx="475.3" cy="823.3" r="3.8"/>
<circle cx="478.9" cy="787.2" r="3.8"/>
<circle cx="481.8" cy="750.9" r="3.8"/>
<circle cx="484.2" cy="714.7" r="3.8"/>
<circle cx="486.5" cy="678.4" r="3.8"/>
<circle cx="488.5" cy="642.1" r="3.8"/>
<circle cx="490.5" cy="605.8" r="3.8"/>
<circle cx="492.4" cy="569.5" r="3.8"/>
<circle cx="494.3" cy="533.2" r="3.8"/>
<circle cx="496.3" cy="496.9" r="3.8"/>
<circle cx="498.2" cy="460.6" r="3.8"/>
<circle cx="500.3" cy="424.3" r="3.8"/>
<circle cx="502.5" cy="388.0" r="3.8"/>
<circle cx="505.0" cy="351.7" r="3.8"/>
<circle cx="507.8" cy="315.5" r="3.8"/>
<circle cx="511.2" cy="279.3" r="3.8"/>
<circle cx="516.3" cy="243.3" r="3.8"/>
<circle cx="531.3" cy="226.5" r="3.8"/>
<circle cx="538.5" cy="262.1" r="3.8"/>
<circle cx="542.5" cy="298.2" r="3.8"/>
<circle cx="545.6" cy="334.4" r="3.8"/>
<circle cx="548.2" cy="370.7" r="3.8"/>
<circle cx="550.5" cy="407.0" r="3.8"/>
<circle cx="552.6" cy="443.2" r="3.8"/>
<circle cx="554.6" cy="479.5" r="3.8"/>
<circle cx="556.5" cy="515.8" r="3.8"/>
<circle cx="558.4" cy="552.1" r="3.8"/>
<circle cx="560.4" cy="588.4" r="3.8"/>
<circle cx="562.3" cy="624.7" r="3.8"/>
<circle cx="564.3" cy="661.0" r="3.8"/>
<circle cx="566.5" cy="697.3" r="3.8"/>
<circle cx="568.8" cy="733.6" r="3.8"/>
<circle cx="571.5" cy="769.8" r="3.8"/>
<circle cx="574.6" cy="806.1" r="3.8"/>
<circle cx="578.9" cy="842.2" r="3.8"/>
<circle cx="587.5" cy="877.3" r="3.8"/>
<circle cx="601.3" cy="850.6" r="3.8"/>
<circle cx="606.0" cy="814.6" r="3.8"/>
<circle cx="609.3" cy="778.4" r="3.8"/>
<circle cx="612.0" cy="742.1" r="3.8"/>
<circle cx="614.4" cy="705.8" r="3.8"/>
<circle cx="616.6" cy="669.6" r="3.8"/>
<circle cx="618.7" cy="633.3" r="3.8"/>
<circle cx="620.6" cy="597.0" r="3.8"/>
<circle cx="622.6" cy="560.7" r="3.8"/>
<circle cx="624.5" cy="524.4" r="3.8"/>
<circle cx="626.4" cy="488.1" r="3.8"/>
<circle cx="628.4" cy="451.8" r="3.8"/>
<circle cx="630.5" cy="415.5" r="3.8"/>
<circle cx="632.7" cy="379.2" r="3.8"/>
<circle cx="635.2" cy="342.9" r="3.8"/>
<circle cx="638.2" cy="306.7" r="3.8"/>
<circle cx="641.9" cy="270.6" r="3.8"/>
<circle cx="647.8" cy="234.7" r="3.8"/>
<circle cx="663.4" cy="235.0" r="3.8"/>
<circle cx="669.2" cy="270.8" r="3.8"/>
<circle cx="673.0" cy="307.0" r="3.8"/>
<circle cx="675.9" cy="343.2" r="3.8"/>
<circle cx="678.4" cy="379.5" r="3.8"/>
<circle cx="680.6" cy="415.8" r="3.8"/>
<circle cx="682.7" cy="452.1" r="3.8"/>
<circle cx="684.7" cy="488.4" r="3.8"/>
<circle cx="686.7" cy="524.6" r="3.8"/>
<circle cx="688.6" cy="560.9" r="3.8"/>
<circle cx="690.5" cy="597.2" r="3.8"/>
<circle cx="692.5" cy="633.5" r="3.8"/>
<circle cx="694.5" cy="669.8" r="3.8"/>
<circle cx="696.7" cy="706.1" r="3.8"/>
<circle cx="699.1" cy="742.4" r="3.8"/>
<circle cx="701.8" cy="778.6" r="3.8"/>
<circle cx="705.2" cy="814.8" r="3.8"/>
<circle cx="709.9" cy="850.9" r="3.8"/>
<circle cx="723.7" cy="877.1" r="3.8"/>
<circle cx="732.3" cy="841.9" r="3.8"/>
<circle cx="736.5" cy="805.8" r="3.8"/>
<circle cx="739.7" cy="769.6" r="3.8"/>
<circle cx="742.3" cy="733.3" r="3.8"/>
<circle cx="744.6" cy="697.0" r="3.8"/>
<circle cx="746.8" cy="660.7" r="3.8"/>
<circle cx="748.8" cy="624.5" r="3.8"/>
<circle cx="750.7" cy="588.2" r="3.8"/>
<circle cx="752.7" cy="551.9" r="3.8"/>
<circle cx="754.6" cy="515.6" r="3.8"/>
<circle cx="756.5" cy="479.3" r="3.8"/>
<circle cx="758.5" cy="443.0" r="3.8"/>
<circle cx="760.7" cy="406.7" r="3.8"/>
<circle cx="763.0" cy="370.4" r="3.8"/>
<circle cx="765.6" cy="334.1" r="3.8"/>
<circle cx="768.6" cy="297.9" r="3.8"/>
<circle cx="772.7" cy="261.8" r="3.8"/>
<circle cx="779.9" cy="226.2" r="3.8"/>
<circle cx="794.9" cy="243.6" r="3.8"/>
<circle cx="799.9" cy="279.6" r="3.8"/>
<circle cx="803.4" cy="315.8" r="3.8"/>
<circle cx="806.2" cy="352.0" r="3.8"/>
<circle cx="808.6" cy="388.3" r="3.8"/>
<circle cx="810.8" cy="424.6" r="3.8"/>
<circle cx="812.9" cy="460.9" r="3.8"/>
<circle cx="814.8" cy="497.2" r="3.8"/>
<circle cx="816.8" cy="533.5" r="3.8"/>
<circle cx="818.7" cy="569.8" r="3.8"/>
<circle cx="820.6" cy="606.1" r="3.8"/>
<circle cx="822.6" cy="642.4" r="3.8"/>
<circle cx="824.7" cy="678.6" r="3.8"/>
<circle cx="826.9" cy="714.9" r="3.8"/>
<circle cx="829.4" cy="751.2" r="3.8"/>
<circle cx="832.2" cy="787.4" r="3.8"/>
<circle cx="835.8" cy="823.6" r="3.8"/>
<circle cx="841.2" cy="859.5" r="3.8"/>
<circle cx="856.6" cy="868.9" r="3.8"/>
<circle cx="863.1" cy="833.1" r="3.8"/>
<circle cx="867.0" cy="797.0" r="3.8"/>
<circle cx="870.0" cy="760.8" r="3.8"/>
<circle cx="872.5" cy="724.5" r="3.8"/>
<circle cx="874.8" cy="688.2" r="3.8"/>
<circle cx="876.9" cy="651.9" r="3.8"/>
<circle cx="878.9" cy="615.6" r="3.8"/>
<circle cx="880.9" cy="579.3" r="3.8"/>
<circle cx="882.8" cy="543.0" r="3.8"/>
<circle cx="884.7" cy="506.7" r="3.8"/>
<circle cx="886.7" cy="470.4" r="3.8"/>
<circle cx="888.7" cy="434.2" r="3.8"/>
<circle cx="890.9" cy="397.9" r="3.8"/>
<circle cx="893.2" cy="361.6" r="3.8"/>
<circle cx="895.9" cy="325.3" r="3.8"/>
<circle cx="899.1" cy="289.1" r="3.8"/>
<circle cx="903.6" cy="253.1" r="3.8"/>
<circle cx="914.5" cy="219.3" r="3.8"/>
<circle cx="926.0" cy="252.3" r="3.8"/>
<circle cx="930.5" cy="288.4" r="3.8"/>
<circle cx="933.7" cy="324.6" r="3.8"/>
<circle cx="936.4" cy="360.8" r="3.8"/>
<circle cx="938.8" cy="397.1" r="3.8"/>
<circle cx="941.0" cy="433.4" r="3.8"/>
<circle cx="943.0" cy="469.7" r="3.8"/>
<circle cx="945.0" cy="506.0" r="3.8"/>
<circle cx="946.9" cy="542.3" r="3.8"/>
<circle cx="948.8" cy="578.6" r="3.8"/>
<circle cx="950.7" cy="614.9" r="3.8"/>
<circle cx="952.7" cy="651.2" r="3.8"/>
<circle cx="954.8" cy="687.5" r="3.8"/>
<circle cx="957.1" cy="723.7" r="3.8"/>
<circle cx="959.7" cy="760.0" r="3.8"/>
<circle cx="962.6" cy="796.2" r="3.8"/>
<circle cx="966.5" cy="832.4" r="3.8"/>
<circle cx="972.9" cy="868.1" r="3.8"/>
<circle cx="988.4" cy="860.3" r="3.8"/>
<circle cx="993.8" cy="824.4" r="3.8"/>
<circle cx="997.4" cy="788.2" r="3.8"/>
<circle cx="1000.3" cy="752.0" r="3.8"/>
<circle cx="1002.8" cy="715.7" r="3.8"/>
<circle cx="1005.0" cy="679.4" r="3.8"/>
<circle cx="1007.1" cy="643.1" r="3.8"/>
<circle cx="1009.1" cy="606.8" r="3.8"/>
<circle cx="1011.0" cy="570.5" r="3.8"/>
<circle cx="1012.9" cy="534.2" r="3.8"/>
<circle cx="1014.8" cy="497.9" r="3.8"/>
<circle cx="1016.8" cy="461.6" r="3.8"/>
<circle cx="1018.9" cy="425.3" r="3.8"/>
<circle cx="1021.1" cy="389.1" r="3.8"/>
<circle cx="1023.5" cy="352.8" r="3.8"/>
<circle cx="1026.3" cy="316.5" r="3.8"/>
<circle cx="1029.7" cy="280.4" r="3.8"/>
<circle cx="1034.7" cy="244.4" r="3.8"/>
<circle cx="1049.5" cy="225.5" r="3.8"/>
<circle cx="1056.9" cy="261.0" r="3.8"/>
<circle cx="1061.0" cy="297.2" r="3.8"/>
<circle cx="1064.1" cy="333.4" r="3.8"/>
<circle cx="1066.7" cy="369.6" r="3.8"/>
<circle cx="1069.0" cy="405.9" r="3.8"/>
<circle cx="1071.1" cy="442.2" r="3.8"/>
<circle cx="1073.1" cy="478.5" r="3.8"/>
<circle cx="1075.1" cy="514.8" r="3.8"/>
<circle cx="1077.0" cy="551.1" r="3.8"/>
<circle cx="1078.9" cy="587.4" r="3.8"/>
<circle cx="1080.9" cy="623.7" r="3.8"/>
<circle cx="1082.9" cy="660.0" r="3.8"/>
<circle cx="1085.0" cy="696.3" r="3.8"/>
<circle cx="1087.4" cy="732.5" r="3.8"/>
<circle cx="1090.0" cy="768.8" r="3.8"/>
<circle cx="1093.1" cy="805.0" r="3.8"/>
<circle cx="1097.3" cy="841.1" r="3.8"/>
<circle cx="1105.6" cy="876.4" r="3.8"/>
<circle cx="1119.7" cy="851.6" r="3.8"/>
<circle cx="1124.5" cy="815.6" r="3.8"/>
<circle cx="1127.8" cy="779.4" r="3.8"/>
<circle cx="1130.6" cy="743.2" r="3.8"/>
<circle cx="1133.0" cy="706.9" r="3.8"/>
<circle cx="1135.2" cy="670.6" r="3.8"/>
<circle cx="1137.2" cy="634.3" r="3.8"/>
<circle cx="1139.2" cy="598.0" r="3.8"/>
<circle cx="1141.1" cy="561.7" r="3.8"/>
<circle cx="1143.0" cy="525.4" r="3.8"/>
<circle cx="1144.9" cy="489.1" r="3.8"/>
<circle cx="1146.9" cy="452.8" r="3.8"/>
<circle cx="1149.0" cy="416.5" r="3.8"/>
<circle cx="1151.3" cy="380.3" r="3.8"/>
<circle cx="1153.8" cy="344.0" r="3.8"/>
<circle cx="1156.7" cy="307.8" r="3.8"/>
<circle cx="1160.4" cy="271.6" r="3.8"/>
<circle cx="1166.1" cy="235.7" r="3.8"/>
<circle cx="1181.8" cy="234.0" r="3.8"/>
<circle cx="1187.7" cy="269.8" r="3.8"/>
<circle cx="1191.5" cy="305.9" r="3.8"/>
<circle cx="1194.4" cy="342.2" r="3.8"/>
<circle cx="1196.9" cy="378.4" r="3.8"/>
<circle cx="1199.2" cy="414.7" r="3.8"/>
<circle cx="1201.3" cy="451.0" r="3.8"/>
<circle cx="1203.3" cy="487.3" r="3.8"/>
<circle cx="1205.2" cy="523.6" r="3.8"/>
<circle cx="1207.1" cy="559.9" r="3.8"/>
<circle cx="1209.0" cy="596.2" r="3.8"/>
<circle cx="1211.0" cy="632.5" r="3.8"/>
<circle cx="1213.0" cy="668.8" r="3.8"/>
<circle cx="1215.2" cy="705.1" r="3.8"/>
<circle cx="1217.6" cy="741.3" r="3.8"/>
<circle cx="1220.3" cy="777.6" r="3.8"/>
<circle cx="1223.7" cy="813.8" r="3.8"/>
<circle cx="1228.3" cy="849.8" r="3.8"/>
<circle cx="1241.8" cy="877.9" r="3.8"/>
<circle cx="1250.7" cy="842.9" r="3.8"/>
<circle cx="1255.0" cy="806.8" r="3.8"/>
<circle cx="1258.2" cy="770.6" r="3.8"/>
<circle cx="1260.8" cy="734.4" r="3.8"/>
<circle cx="1263.2" cy="698.1" r="3.8"/>
<circle cx="1265.3" cy="661.8" r="3.8"/>
<circle cx="1267.3" cy="625.5" r="3.8"/>
<circle cx="1269.3" cy="589.2" r="3.8"/>
<circle cx="1271.2" cy="552.9" r="3.8"/>
<circle cx="1273.1" cy="516.6" r="3.8"/>
<circle cx="1275.1" cy="480.3" r="3.8"/>
<circle cx="1277.1" cy="444.0" r="3.8"/>
<circle cx="1279.2" cy="407.7" r="3.8"/>
<circle cx="1281.5" cy="371.4" r="3.8"/>
<circle cx="1284.1" cy="335.2" r="3.8"/>
<circle cx="1287.1" cy="299.0" r="3.8"/>
<circle cx="1291.1" cy="262.8" r="3.8"/>
<circle cx="1298.1" cy="227.2" r="3.8"/>
<circle cx="1313.3" cy="242.6" r="3.8"/>
<circle cx="1318.4" cy="278.6" r="3.8"/>
<circle cx="1321.9" cy="314.7" r="3.8"/>
<circle cx="1324.7" cy="351.0" r="3.8"/>
<circle cx="1327.1" cy="387.2" r="3.8"/>
<circle cx="1329.3" cy="423.5" r="3.8"/>
<circle cx="1331.4" cy="459.8" r="3.8"/>
<circle cx="1333.4" cy="496.1" r="3.8"/>
<circle cx="1335.3" cy="532.4" r="3.8"/>
<circle cx="1337.2" cy="568.7" r="3.8"/>
<circle cx="1339.2" cy="605.0" r="3.8"/>
<circle cx="1341.1" cy="641.3" r="3.8"/>
<circle cx="1343.2" cy="677.6" r="3.8"/>
<circle cx="1345.4" cy="713.9" r="3.8"/>
<circle cx="1347.9" cy="750.2" r="3.8"/>
<circle cx="1350.7" cy="786.4" r="3.8"/>
<circle cx="1354.3" cy="822.6" r="3.8"/>
<circle cx="1359.5" cy="858.5" r="3.8"/>
<circle cx="1374.9" cy="869.9" r="3.8"/>
<circle cx="1381.6" cy="834.2" r="3.8"/>
<circle cx="1385.5" cy="798.0" r="3.8"/>
<circle cx="1388.5" cy="761.8" r="3.8"/>
<circle cx="1391.1" cy="725.6" r="3.8"/>
<circle cx="1393.4" cy="689.3" r="3.8"/>
<circle cx="1395.5" cy="653.0" r="3.8"/>
<circle cx="1397.5" cy="616.7" r="3.8"/>
<circle cx="1399.4" cy="580.4" r="3.8"/>
<circle cx="1401.3" cy="544.1" r="3.8"/>
<circle cx="1403.2" cy="507.8" r="3.8"/>
<circle cx="1405.2" cy="471.5" r="3.8"/>
<circle cx="1407.2" cy="435.2" r="3.8"/>
<circle cx="1409.4" cy="398.9" r="3.8"/>
<circle cx="1411.7" cy="362.6" r="3.8"/>
<circle cx="1414.4" cy="326.4" r="3.8"/>
<circle cx="1417.6" cy="290.2" r="3.8"/>
<circle cx="1422.0" cy="254.1" r="3.8"/>
<circle cx="1432.1" cy="219.7" r="3.8"/>
<circle cx="1444.4" cy="251.3" r="3.8"/>
<circle cx="1449.0" cy="287.3" r="3.8"/>
<circle cx="1452.3" cy="323.5" r="3.8"/>
<circle cx="1455.0" cy="359.8" r="3.8"/>
<circle cx="132.7" cy="149.2" r="3.8"/>
<circle cx="144.1" cy="126.0" r="3.8"/>
<circle cx="150.4" cy="161.3" r="3.8"/>
<circle cx="153.9" cy="197.0" r="3.8"/>
<circle cx="156.8" cy="232.8" r="3.8"/>
<circle cx="159.1" cy="268.7" r="3.8"/>
<circle cx="161.3" cy="304.5" r="3.8"/>
<circle cx="163.3" cy="340.4" r="3.8"/>
<circle cx="165.1" cy="376.2" r="3.8"/>
<circle cx="166.9" cy="412.1" r="3.8"/>
<circle cx="168.5" cy="448.0" r="3.8"/>
<circle cx="170.2" cy="483.9" r="3.8"/>
<circle cx="171.8" cy="519.7" r="3.8"/>
<circle cx="173.4" cy="555.6" r="3.8"/>
<circle cx="175.1" cy="591.5" r="3.8"/>
<circle cx="176.7" cy="627.4" r="3.8"/>
<circle cx="178.3" cy="663.3" r="3.8"/>
<circle cx="180.1" cy="699.1" r="3.8"/>
<circle cx="181.8" cy="735.0" r="3.8"/>
<circle cx="183.7" cy="770.9" r="3.8"/>
<circle cx="185.7" cy="806.7" r="3.8"/>
<circle cx="188.0" cy="842.6" r="3.8"/>
<circle cx="190.5" cy="878.4" r="3.8"/>
<circle cx="193.5" cy="914.2" r="3.8"/>
<circle cx="197.5" cy="949.9" r="3.8"/>
<circle cx="208.9" cy="973.1" r="3.8"/>
<circle cx="215.2" cy="937.8" r="3.8"/>
<circle cx="218.8" cy="902.0" r="3.8"/>
<circle cx="221.6" cy="866.2" r="3.8"/>
<circle cx="224.0" cy="830.4" r="3.8"/>
<circle cx="226.1" cy="794.5" r="3.8"/>
<circle cx="228.1" cy="758.7" r="3.8"/>
<circle cx="229.9" cy="722.8" r="3.8"/>
<circle cx="231.7" cy="686.9" r="3.8"/>
<circle cx="233.4" cy="651.1" r="3.8"/>
<circle cx="235.0" cy="615.2" r="3.8"/>
<circle cx="236.6" cy="579.3" r="3.8"/>
<circle cx="238.3" cy="543.4" r="3.8"/>
<circle cx="239.9" cy="507.5" r="3.8"/>
<circle cx="241.5" cy="471.7" r="3.8"/>
<circle cx="243.2" cy="435.8" r="3.8"/>
<circle cx="244.9" cy="399.9" r="3.8"/>
<circle cx="246.7" cy="364.0" r="3.8"/>
<circle cx="248.6" cy="328.2" r="3.8"/>
<circle cx="250.6" cy="292.3" r="3.8"/>
<circle cx="252.8" cy="256.5" r="3.8"/>
<circle cx="255.3" cy="220.6" r="3.8"/>
<circle cx="258.3" cy="184.8" r="3.8"/>
<circle cx="262.4" cy="149.2" r="3.8"/>
<circle cx="273.7" cy="126.0" r="3.8"/>
<circle cx="280.0" cy="161.3" r="3.8"/>
<circle cx="283.6" cy="197.0" r="3.8"/>
<circle cx="286.4" cy="232.9" r="3.8"/>
<circle cx="288.8" cy="268.7" r="3.8"/>
<circle cx="290.9" cy="304.5" r="3.8"/>
<circle cx="292.9" cy="340.4" r="3.8"/>
<circle cx="294.7" cy="376.3" r="3.8"/>
<circle cx="296.5" cy="412.1" r="3.8"/>
<circle cx="298.2" cy="448.0" r="3.8"/>
<circle cx="299.8" cy="483.9" r="3.8"/>
<circle cx="301.5" cy="519.8" r="3.8"/>
<circle cx="303.1" cy="555.7" r="3.8"/>
<circle cx="304.7" cy="591.5" r="3.8"/>
<circle cx="306.3" cy="627.4" r="3.8"/>
<circle cx="308.0" cy="663.3" r="3.8"/>
<circle cx="309.7" cy="699.2" r="3.8"/>
<circle cx="311.5" cy="735.1" r="3.8"/>
<circle cx="313.4" cy="770.9" r="3.8"/>
<circle cx="315.4" cy="806.8" r="3.8"/>
<circle cx="317.6" cy="842.6" r="3.8"/>
<circle cx="320.1" cy="878.5" r="3.8"/>
<circle cx="323.1" cy="914.2" r="3.8"/>
<circle cx="327.2" cy="949.9" r="3.8"/>
<circle cx="338.6" cy="973.1" r="3.8"/>
<circle cx="344.8" cy="937.7" r="3.8"/>
<circle cx="348.4" cy="902.0" r="3.8"/>
<circle cx="351.2" cy="866.2" r="3.8"/>
<circle cx="353.6" cy="830.4" r="3.8"/>
<circle cx="355.8" cy="794.5" r="3.8"/>
<circle cx="357.7" cy="758.6" r="3.8"/>
<circle cx="359.6" cy="722.8" r="3.8"/>
<circle cx="361.3" cy="686.9" r="3.8"/>
<circle cx="363.0" cy="651.0" r="3.8"/>
<circle cx="364.7" cy="615.1" r="3.8"/>
<circle cx="366.3" cy="579.3" r="3.8"/>
<circle cx="367.9" cy="543.4" r="3.8"/>
<circle cx="369.5" cy="507.5" r="3.8"/>
<circle cx="371.2" cy="471.6" r="3.8"/>
<circle cx="372.8" cy="435.7" r="3.8"/>
<circle cx="374.5" cy="399.9" r="3.8"/>
<circle cx="376.3" cy="364.0" r="3.8"/>
<circle cx="378.2" cy="328.1" r="3.8"/>
<circle cx="380.2" cy="292.3" r="3.8"/>
<circle cx="382.4" cy="256.4" r="3.8"/>
<circle cx="384.9" cy="220.6" r="3.8"/>
<circle cx="388.0" cy="184.8" r="3.8"/>
<circle cx="392.0" cy="149.1" r="3.8"/>
<circle cx="403.4" cy="126.0" r="3.8"/>
<circle cx="409.7" cy="161.3" r="3.8"/>
<circle cx="413.3" cy="197.1" r="3.8"/>
<circle cx="416.1" cy="232.9" r="3.8"/>
<circle cx="418.5" cy="268.7" r="3.8"/>
<circle cx="420.6" cy="304.6" r="3.8"/>
<circle cx="422.6" cy="340.4" r="3.8"/>
<circle cx="424.4" cy="376.3" r="3.8"/>
<circle cx="426.2" cy="412.2" r="3.8"/>
<circle cx="427.9" cy="448.1" r="3.8"/>
<circle cx="429.5" cy="483.9" r="3.8"/>
<circle cx="431.1" cy="519.8" r="3.8"/>
<circle cx="432.7" cy="555.7" r="3.8"/>
<circle cx="434.4" cy="591.6" r="3.8"/>
<circle cx="436.0" cy="627.5" r="3.8"/>
<circle cx="437.7" cy="663.3" r="3.8"/>
<circle cx="439.4" cy="699.2" r="3.8"/>
<circle cx="441.1" cy="735.1" r="3.8"/>
<circle cx="443.0" cy="771.0" r="3.8"/>
<circle cx="445.0" cy="806.8" r="3.8"/>
<circle cx="447.3" cy="842.7" r="3.8"/>
<circle cx="449.8" cy="878.5" r="3.8"/>
<circle cx="452.8" cy="914.3" r="3.8"/>
<circle cx="456.8" cy="950.0" r="3.8"/>
<circle cx="468.2" cy="973.0" r="3.8"/>
<circle cx="474.5" cy="937.7" r="3.8"/>
<circle cx="478.1" cy="902.0" r="3.8"/>
<circle cx="480.9" cy="866.2" r="3.8"/>
<circle cx="483.3" cy="830.3" r="3.8"/>
<circle cx="485.4" cy="794.5" r="3.8"/>
<circle cx="487.4" cy="758.6" r="3.8"/>
<circle cx="489.2" cy="722.7" r="3.8"/>
<circle cx="491.0" cy="686.9" r="3.8"/>
<circle cx="492.7" cy="651.0" r="3.8"/>
<circle cx="494.3" cy="615.1" r="3.8"/>
<circle cx="496.0" cy="579.2" r="3.8"/>
<circle cx="497.6" cy="543.3" r="3.8"/>
<circle cx="499.2" cy="507.5" r="3.8"/>
<circle cx="500.8" cy="471.6" r="3.8"/>
<circle cx="502.5" cy="435.7" r="3.8"/>
<circle cx="504.2" cy="399.8" r="3.8"/>
<circle cx="506.0" cy="364.0" r="3.8"/>
<circle cx="507.9" cy="328.1" r="3.8"/>
<circle cx="509.9" cy="292.2" r="3.8"/>
<circle cx="512.1" cy="256.4" r="3.8"/>
<circle cx="514.6" cy="220.6" r="3.8"/>
<circle cx="517.6" cy="184.8" r="3.8"/>
<circle cx="521.7" cy="149.1" r="3.8"/>
<circle cx="533.1" cy="126.1" r="3.8"/>
<circle cx="539.3" cy="161.4" r="3.8"/>
<circle cx="542.9" cy="197.1" r="3.8"/>
<circle cx="545.7" cy="232.9" r="3.8"/>
<circle cx="548.1" cy="268.8" r="3.8"/>
<circle cx="550.2" cy="304.6" r="3.8"/>
<circle cx="552.2" cy="340.5" r="3.8"/>
<circle cx="554.1" cy="376.3" r="3.8"/>
<circle cx="555.8" cy="412.2" r="3.8"/>
<circle cx="557.5" cy="448.1" r="3.8"/>
<circle cx="559.2" cy="484.0" r="3.8"/>
<circle cx="560.8" cy="519.9" r="3.8"/>
<circle cx="562.4" cy="555.7" r="3.8"/>
<circle cx="564.0" cy="591.6" r="3.8"/>
<circle cx="565.6" cy="627.5" r="3.8"/>
<circle cx="567.3" cy="663.4" r="3.8"/>
<circle cx="569.0" cy="699.3" r="3.8"/>
<circle cx="570.8" cy="735.1" r="3.8"/>
<circle cx="572.7" cy="771.0" r="3.8"/>
<circle cx="574.7" cy="806.9" r="3.8"/>
<circle cx="576.9" cy="842.7" r="3.8"/>
<circle cx="579.4" cy="878.5" r="3.8"/>
<circle cx="582.4" cy="914.3" r="3.8"/>
<circle cx="586.5" cy="950.0" r="3.8"/>
<circle cx="597.9" cy="973.0" r="3.8"/>
<circle cx="604.2" cy="937.7" r="3.8"/>
<circle cx="607.7" cy="901.9" r="3.8"/>
<circle cx="610.5" cy="866.1" r="3.8"/>
<circle cx="612.9" cy="830.3" r="3.8"/>
<circle cx="615.1" cy="794.4" r="3.8"/>
<circle cx="617.0" cy="758.6" r="3.8"/>
<circle cx="618.9" cy="722.7" r="3.8"/>
<circle cx="620.6" cy="686.8" r="3.8"/>
<circle cx="622.3" cy="651.0" r="3.8"/>
<circle cx="624.0" cy="615.1" r="3.8"/>
<circle cx="625.6" cy="579.2" r="3.8"/>
<circle cx="627.2" cy="543.3" r="3.8"/>
<circle cx="628.8" cy="507.4" r="3.8"/>
<circle cx="630.5" cy="471.6" r="3.8"/>
<circle cx="632.1" cy="435.7" r="3.8"/>
<circle cx="633.8" cy="399.8" r="3.8"/>
<circle cx="635.6" cy="363.9" r="3.8"/>
<circle cx="637.5" cy="328.1" r="3.8"/>
<circle cx="639.5" cy="292.2" r="3.8"/>
<circle cx="641.7" cy="256.3" r="3.8"/>
<circle cx="644.3" cy="220.5" r="3.8"/>
<circle cx="647.3" cy="184.7" r="3.8"/>
<circle cx="651.3" cy="149.0" r="3.8"/>
<circle cx="662.7" cy="126.1" r="3.8"/>
<circle cx="669.0" cy="161.4" r="3.8"/>
<circle cx="672.6" cy="197.1" r="3.8"/>
<circle cx="675.4" cy="233.0" r="3.8"/>
<circle cx="677.8" cy="268.8" r="3.8"/>
<circle cx="679.9" cy="304.6" r="3.8"/>
<circle cx="681.9" cy="340.5" r="3.8"/>
<circle cx="683.7" cy="376.4" r="3.8"/>
<circle cx="685.5" cy="412.3" r="3.8"/>
<circle cx="687.2" cy="448.1" r="3.8"/>
<circle cx="688.8" cy="484.0" r="3.8"/>
<circle cx="690.4" cy="519.9" r="3.8"/>
<circle cx="692.0" cy="555.8" r="3.8"/>
<circle cx="693.7" cy="591.7" r="3.8"/>
<circle cx="695.3" cy="627.5" r="3.8"/>
<circle cx="697.0" cy="663.4" r="3.8"/>
<circle cx="698.7" cy="699.3" r="3.8"/>
<circle cx="700.5" cy="735.2" r="3.8"/>
<circle cx="702.3" cy="771.0" r="3.8"/>
<circle cx="704.4" cy="806.9" r="3.8"/>
<circle cx="706.6" cy="842.7" r="3.8"/>
<circle cx="709.1" cy="878.6" r="3.8"/>
<circle cx="712.1" cy="914.4" r="3.8"/>
<circle cx="716.2" cy="950.0" r="3.8"/>
<circle cx="727.6" cy="973.0" r="3.8"/>
<circle cx="733.8" cy="937.6" r="3.8"/>
<circle cx="737.4" cy="901.9" r="3.8"/>
<circle cx="740.2" cy="866.1" r="3.8"/>
<circle cx="742.6" cy="830.3" r="3.8"/>
<circle cx="744.7" cy="794.4" r="3.8"/>
<circle cx="746.7" cy="758.5" r="3.8"/>
<circle cx="748.5" cy="722.7" r="3.8"/>
<circle cx="750.3" cy="686.8" r="3.8"/>
<circle cx="752.0" cy="650.9" r="3.8"/>
<circle cx="753.6" cy="615.0" r="3.8"/>
<circle cx="755.3" cy="579.2" r="3.8"/>
<circle cx="756.9" cy="543.3" r="3.8"/>
<circle cx="758.5" cy="507.4" r="3.8"/>
<circle cx="760.1" cy="471.5" r="3.8"/>
<circle cx="761.8" cy="435.6" r="3.8"/>
<circle cx="763.5" cy="399.8" r="3.8"/>
<circle cx="765.3" cy="363.9" r="3.8"/>
<circle cx="767.2" cy="328.0" r="3.8"/>
<circle cx="769.2" cy="292.2" r="3.8"/>
<circle cx="771.4" cy="256.3" r="3.8"/>
<circle cx="773.9" cy="220.5" r="3.8"/>
<circle cx="776.9" cy="184.7" r="3.8"/>
<circle cx="781.0" cy="149.0" r="3.8"/>
<circle cx="792.4" cy="126.1" r="3.8"/>
<circle cx="798.6" cy="161.4" r="3.8"/>
<circle cx="802.2" cy="197.2" r="3.8"/>
<circle cx="805.0" cy="233.0" r="3.8"/>
<circle cx="807.4" cy="268.8" r="3.8"/>
<circle cx="809.5" cy="304.7" r="3.8"/>
<circle cx="811.5" cy="340.5" r="3.8"/>
<circle cx="813.4" cy="376.4" r="3.8"/>
<circle cx="815.1" cy="412.3" r="3.8"/>
<circle cx="816.8" cy="448.2" r="3.8"/>
<circle cx="818.5" cy="484.0" r="3.8"/>
<circle cx="820.1" cy="519.9" r="3.8"/>
<circle cx="821.7" cy="555.8" r="3.8"/>
<circle cx="823.3" cy="591.7" r="3.8"/>
<circle cx="824.9" cy="627.6" r="3.8"/>
<circle cx="826.6" cy="663.4" r="3.8"/>
<circle cx="828.3" cy="699.3" r="3.8"/>
<circle cx="830.1" cy="735.2" r="3.8"/>
<circle cx="832.0" cy="771.1" r="3.8"/>
<circle cx="834.0" cy="806.9" r="3.8"/>
<circle cx="836.2" cy="842.8" r="3.8"/>
<circle cx="838.7" cy="878.6" r="3.8"/>
<circle cx="841.7" cy="914.4" r="3.8"/>
<circle cx="845.8" cy="950.1" r="3.8"/>
<circle cx="857.2" cy="972.9" r="3.8"/>
<circle cx="863.5" cy="937.6" r="3.8"/>
<circle cx="867.0" cy="901.9" r="3.8"/>
<circle cx="869.8" cy="866.1" r="3.8"/>
<circle cx="872.2" cy="830.2" r="3.8"/>
<circle cx="874.4" cy="794.4" r="3.8"/>
<circle cx="876.3" cy="758.5" r="3.8"/>
<circle cx="878.2" cy="722.6" r="3.8"/>
<circle cx="879.9" cy="686.8" r="3.8"/>
<circle cx="881.6" cy="650.9" r="3.8"/>
<circle cx="883.3" cy="615.0" r="3.8"/>
<circle cx="884.9" cy="579.1" r="3.8"/>
<circle cx="886.5" cy="543.2" r="3.8"/>
<circle cx="888.1" cy="507.4" r="3.8"/>
<circle cx="889.8" cy="471.5" r="3.8"/>
<circle cx="891.4" cy="435.6" r="3.8"/>
<circle cx="893.1" cy="399.7" r="3.8"/>
<circle cx="894.9" cy="363.9" r="3.8"/>
<circle cx="896.8" cy="328.0" r="3.8"/>
<circle cx="898.8" cy="292.1" r="3.8"/>
<circle cx="901.0" cy="256.3" r="3.8"/>
<circle cx="903.6" cy="220.4" r="3.8"/>
<circle cx="906.6" cy="184.7" r="3.8"/>
<circle cx="910.6" cy="149.0" r="3.8"/>
<circle cx="922.0" cy="126.2" r="3.8"/>
<circle cx="928.3" cy="161.5" r="3.8"/>
<circle cx="931.9" cy="197.2" r="3.8"/>
<circle cx="934.7" cy="233.0" r="3.8"/>
<circle cx="937.1" cy="268.9" r="3.8"/>
<circle cx="939.2" cy="304.7" r="3.8"/>
<circle cx="941.2" cy="340.6" r="3.8"/>
<circle cx="943.0" cy="376.5" r="3.8"/>
<circle cx="944.8" cy="412.3" r="3.8"/>
<circle cx="946.5" cy="448.2" r="3.8"/>
<circle cx="948.1" cy="484.1" r="3.8"/>
<circle cx="949.7" cy="520.0" r="3.8"/>
<circle cx="951.3" cy="555.8" r="3.8"/>
<circle cx="953.0" cy="591.7" r="3.8"/>
<circle cx="954.6" cy="627.6" r="3.8"/>
<circle cx="956.3" cy="663.5" r="3.8"/>
<circle cx="958.0" cy="699.4" r="3.8"/>
<circle cx="959.8" cy="735.2" r="3.8"/>
<circle cx="961.6" cy="771.1" r="3.8"/>
<circle cx="963.7" cy="807.0" r="3.8"/>
<circle cx="965.9" cy="842.8" r="3.8"/>
<circle cx="968.4" cy="878.6" r="3.8"/>
<circle cx="971.4" cy="914.4" r="3.8"/>
<circle cx="975.5" cy="950.1" r="3.8"/>
<circle cx="986.9" cy="972.9" r="3.8"/>
<circle cx="993.1" cy="937.6" r="3.8"/>
<circle cx="996.7" cy="901.8" r="3.8"/>
<circle cx="999.5" cy="866.0" r="3.8"/>
<circle cx="1001.9" cy="830.2" r="3.8"/>
<circle cx="1004.0" cy="794.3" r="3.8"/>
<circle cx="1006.0" cy="758.5" r="3.8"/>
<circle cx="1007.8" cy="722.6" r="3.8"/>
<circle cx="1009.6" cy="686.7" r="3.8"/>
<circle cx="1011.3" cy="650.8" r="3.8"/>
<circle cx="1012.9" cy="615.0" r="3.8"/>
<circle cx="1014.6" cy="579.1" r="3.8"/>
<circle cx="1016.2" cy="543.2" r="3.8"/>
<circle cx="1017.8" cy="507.3" r="3.8"/>
<circle cx="1019.4" cy="471.4" r="3.8"/>
<circle cx="1021.1" cy="435.6" r="3.8"/>
<circle cx="1022.8" cy="399.7" r="3.8"/>
<circle cx="1024.6" cy="363.8" r="3.8"/>
<circle cx="1026.5" cy="327.9" r="3.8"/>
<circle cx="1028.5" cy="292.1" r="3.8"/>
<circle cx="1030.7" cy="256.2" r="3.8"/>
<circle cx="1033.2" cy="220.4" r="3.8"/>
<circle cx="1036.2" cy="184.6" r="3.8"/>
<circle cx="1040.3" cy="148.9" r="3.8"/>
<circle cx="1051.7" cy="126.2" r="3.8"/>
<circle cx="1057.9" cy="161.5" r="3.8"/>
<circle cx="1061.5" cy="197.3" r="3.8"/>
<circle cx="1064.3" cy="233.1" r="3.8"/>
<circle cx="1066.7" cy="268.9" r="3.8"/>
<circle cx="1068.8" cy="304.8" r="3.8"/>
<circle cx="1070.8" cy="340.6" r="3.8"/>
<circle cx="1072.7" cy="376.5" r="3.8"/>
<circle cx="1074.4" cy="412.4" r="3.8"/>
<circle cx="1076.1" cy="448.2" r="3.8"/>
<circle cx="1077.8" cy="484.1" r="3.8"/>
<circle cx="1079.4" cy="520.0" r="3.8"/>
<circle cx="1081.0" cy="555.9" r="3.8"/>
<circle cx="1082.6" cy="591.8" r="3.8"/>
<circle cx="1084.2" cy="627.6" r="3.8"/>
<circle cx="1085.9" cy="663.5" r="3.8"/>
<circle cx="1087.6" cy="699.4" r="3.8"/>
<circle cx="1089.4" cy="735.3" r="3.8"/>
<circle cx="1091.3" cy="771.1" r="3.8"/>
<circle cx="1093.3" cy="807.0" r="3.8"/>
<circle cx="1095.5" cy="842.8" r="3.8"/>
<circle cx="1098.0" cy="878.7" r="3.8"/>
<circle cx="1101.0" cy="914.5" r="3.8"/>
<circle cx="1105.1" cy="950.1" r="3.8"/>
<circle cx="1116.5" cy="972.9" r="3.8"/>
<circle cx="1122.8" cy="937.5" r="3.8"/>
<circle cx="1126.3" cy="901.8" r="3.8"/>
<circle cx="1129.1" cy="866.0" r="3.8"/>
<circle cx="1131.5" cy="830.1" r="3.8"/>
<circle cx="1133.7" cy="794.3" r="3.8"/>
<circle cx="1135.6" cy="758.4" r="3.8"/>
<circle cx="1137.5" cy="722.6" r="3.8"/>
<circle cx="1139.2" cy="686.7" r="3.8"/>
<circle cx="1140.9" cy="650.8" r="3.8"/>
<circle cx="1142.6" cy="614.9" r="3.8"/>
<circle cx="1144.2" cy="579.1" r="3.8"/>
<circle cx="1145.8" cy="543.2" r="3.8"/>
<circle cx="1147.4" cy="507.3" r="3.8"/>
<circle cx="1149.1" cy="471.4" r="3.8"/>
<circle cx="1150.7" cy="435.5" r="3.8"/>
<circle cx="1152.4" cy="399.7" r="3.8"/>
<circle cx="1154.2" cy="363.8" r="3.8"/>
<circle cx="1156.1" cy="327.9" r="3.8"/>
<circle cx="1158.1" cy="292.1" r="3.8"/>
<circle cx="1160.4" cy="256.2" r="3.8"/>
<circle cx="1162.9" cy="220.4" r="3.8"/>
<circle cx="1165.9" cy="184.6" r="3.8"/>
<circle cx="1169.9" cy="148.9" r="3.8"/>
<circle cx="1181.4" cy="126.2" r="3.8"/>
<circle cx="1187.6" cy="161.6" r="3.8"/>
<circle cx="1191.2" cy="197.3" r="3.8"/>
<circle cx="1194.0" cy="233.1" r="3.8"/>
<circle cx="1196.4" cy="268.9" r="3.8"/>
<circle cx="1198.5" cy="304.8" r="3.8"/>
<circle cx="1200.5" cy="340.7" r="3.8"/>
<circle cx="1202.3" cy="376.5" r="3.8"/>
<circle cx="1204.1" cy="412.4" r="3.8"/>
<circle cx="1205.8" cy="448.3" r="3.8"/>
<circle cx="1207.4" cy="484.2" r="3.8"/>
<circle cx="1209.0" cy="520.0" r="3.8"/>
<circle cx="1210.6" cy="555.9" r="3.8"/>
<circle cx="1212.3" cy="591.8" r="3.8"/>
<circle cx="1213.9" cy="627.7" r="3.8"/>
<circle cx="1215.6" cy="663.6" r="3.8"/>
<circle cx="1217.3" cy="699.4" r="3.8"/>
<circle cx="1219.1" cy="735.3" r="3.8"/>
<circle cx="1220.9" cy="771.2" r="3.8"/>
<circle cx="1223.0" cy="807.0" r="3.8"/>
<circle cx="1225.2" cy="842.9" r="3.8"/>
<circle cx="1227.7" cy="878.7" r="3.8"/>
<circle cx="1230.7" cy="914.5" r="3.8"/>
<circle cx="1234.8" cy="950.2" r="3.8"/>
<circle cx="1246.2" cy="972.8" r="3.8"/>
<circle cx="1252.4" cy="937.5" r="3.8"/>
<circle cx="1256.0" cy="901.8" r="3.8"/>
<circle cx="1258.8" cy="865.9" r="3.8"/>
<circle cx="1261.2" cy="830.1" r="3.8"/>
<circle cx="1263.3" cy="794.3" r="3.8"/>
<circle cx="1265.3" cy="758.4" r="3.8"/>
<circle cx="1267.1" cy="722.5" r="3.8"/>
<circle cx="1268.9" cy="686.7" r="3.8"/>
<circle cx="1270.6" cy="650.8" r="3.8"/>
<circle cx="1272.2" cy="614.9" r="3.8"/>
<circle cx="1273.9" cy="579.0" r="3.8"/>
<circle cx="1275.5" cy="543.1" r="3.8"/>
<circle cx="1277.1" cy="507.3" r="3.8"/>
<circle cx="1278.7" cy="471.4" r="3.8"/>
<circle cx="1280.4" cy="435.5" r="3.8"/>
<circle cx="1282.1" cy="399.6" r="3.8"/>
<circle cx="1283.9" cy="363.7" r="3.8"/>
<circle cx="1285.8" cy="327.9" r="3.8"/>
<circle cx="1287.8" cy="292.0" r="3.8"/>
<circle cx="1290.0" cy="256.2" r="3.8"/>
<circle cx="1292.5" cy="220.3" r="3.8"/>
<circle cx="1295.5" cy="184.6" r="3.8"/>
<circle cx="1299.6" cy="148.9" r="3.8"/>
<circle cx="1311.0" cy="126.3" r="3.8"/>
<circle cx="1317.3" cy="161.6" r="3.8"/>
<circle cx="1320.8" cy="197.3" r="3.8"/>
<circle cx="1323.6" cy="233.1" r="3.8"/>
<circle cx="1326.0" cy="269.0" r="3.8"/>
<circle cx="1328.2" cy="304.8" r="3.8"/>
<circle cx="1330.1" cy="340.7" r="3.8"/>
<circle cx="1332.0" cy="376.6" r="3.8"/>
<circle cx="1333.7" cy="412.4" r="3.8"/>
<circle cx="1335.4" cy="448.3" r="3.8"/>
<circle cx="1337.1" cy="484.2" r="3.8"/>
<circle cx="1338.7" cy="520.1" r="3.8"/>
<circle cx="1340.3" cy="555.9" r="3.8"/>
<circle cx="1341.9" cy="591.8" r="3.8"/>
<circle cx="1343.5" cy="627.7" r="3.8"/>
<circle cx="1345.2" cy="663.6" r="3.8"/>
<circle cx="1346.9" cy="699.5" r="3.8"/>
<circle cx="1348.7" cy="735.3" r="3.8"/>
<circle cx="1350.6" cy="771.2" r="3.8"/>
<circle cx="1352.6" cy="807.1" r="3.8"/>
<circle cx="1354.8" cy="842.9" r="3.8"/>
<circle cx="1357.3" cy="878.7" r="3.8"/>
<circle cx="1360.4" cy="914.5" r="3.8"/>
<circle cx="1364.4" cy="950.2" r="3.8"/>
<circle cx="1375.9" cy="972.8" r="3.8"/>
<circle cx="1382.1" cy="937.5" r="3.8"/>
<circle cx="1385.7" cy="901.7" r="3.8"/>
<circle cx="1388.5" cy="865.9" r="3.8"/>
<circle cx="1390.8" cy="830.1" r="3.8"/>
<circle cx="1393.0" cy="794.2" r="3.8"/>
<circle cx="1394.9" cy="758.4" r="3.8"/>
<circle cx="1396.8" cy="722.5" r="3.8"/>
<circle cx="1398.5" cy="686.6" r="3.8"/>
<circle cx="1400.2" cy="650.7" r="3.8"/>
<circle cx="1401.9" cy="614.9" r="3.8"/>
<circle cx="1403.5" cy="579.0" r="3.8"/>
<circle cx="1405.1" cy="543.1" r="3.8"/>
<circle cx="1406.7" cy="507.2" r="3.8"/>
<circle cx="1408.4" cy="471.3" r="3.8"/>
<circle cx="1410.0" cy="435.5" r="3.8"/>
<circle cx="1411.8" cy="399.6" r="3.8"/>
<circle cx="1413.5" cy="363.7" r="3.8"/>
<circle cx="1415.4" cy="327.8" r="3.8"/>
<circle cx="1417.4" cy="292.0" r="3.8"/>
<circle cx="1419.7" cy="256.1" r="3.8"/>
<circle cx="1422.2" cy="220.3" r="3.8"/>
<circle cx="1425.2" cy="184.5" r="3.8"/>
<circle cx="1429.3" cy="148.8" r="3.8"/>
<circle cx="1440.7" cy="126.3" r="3.8"/>
<circle cx="1446.9" cy="161.6" r="3.8"/>
<circle cx="1450.5" cy="197.4" r="3.8"/>
<circle cx="1453.3" cy="233.2" r="3.8"/>
</g>
</g>
<line x1="128.9" y1="1065.20" x2="153.4" y2="1065.20" stroke="#000" stroke-width="4.2"/>
<line x1="128.9" y1="1039.39" x2="141.9" y2="1039.39" stroke="#333" stroke-width="2.2"/>
<line x1="128.9" y1="1013.58" x2="141.9" y2="1013.58" stroke="#333" stroke-width="2.2"/>
<line x1="128.9" y1="987.77" x2="141.9" y2="987.77" stroke="#333" stroke-width="2.2"/>
<line x1="128.9" y1="961.96" x2="141.9" y2="961.96" stroke="#333" stroke-width="2.2"/>
<line x1="128.9" y1="936.15" x2="153.4" y2="936.15" stroke="#000" stroke-width="4.2"/>
<line x1="128.9" y1="910.34" x2="141.9" y2="910.34" stroke="#333" stroke-width="2.2"/>
<line x1="128.9" y1="884.53" x2="141.9" y2="884.53" stroke="#333" stroke-width="2.2"/>
<line x1="128.9" y1="858.72" x2="141.9" y2="858.72" stroke="#333" stroke-width="2.2"/>
<line x1="128.9" y1="832.91" x2="141.9" y2="832.91" stroke="#333" stroke-width="2.2"/>
<line x1="128.9" y1="807.10" x2="153.4" y2="807.10" stroke="#000" stroke-width="4.2"/>
<line x1="128.9" y1="781.29" x2="141.9" y2="781.29" stroke="#333" stroke-width="2.2"/>
<line x1="128.9" y1="755.48" x2="141.9" y2="755.48" stroke="#333" stroke-width="2.2"/>
<line x1="128.9" y1="729.67" x2="141.9" y2="729.67" stroke="#333" stroke-width="2.2"/>
<line x1="128.9" y1="703.86" x2="141.9" y2="703.86" stroke="#333" stroke-width="2.2"/>
<line x1="128.9" y1="678.05" x2="153.4" y2="678.05" stroke="#000" stroke-width="4.2"/>
<line x1="128.9" y1="652.24" x2="141.9" y2="652.24" stroke="#333" stroke-width="2.2"/>
<line x1="128.9" y1="626.43" x2="141.9" y2="626.43" stroke="#333" stroke-width="2.2"/>
<line x1="128.9" y1="600.62" x2="141.9" y2="600.62" stroke="#333" stroke-width="2.2"/>
<line x1="128.9" y1="574.81" x2="141.9" y2="574.81" stroke="#333" stroke-width="2.2"/>
<line x1="128.9" y1="549.00" x2="153.4" y2="549.00" stroke="#000" stroke-width="4.2"/>
<line x1="128.9" y1="523.19" x2="141.9" y2="523.19" stroke="#333" stroke-width="2.2"/>
<line x1="128.9" y1="497.38" x2="141.9" y2="497.38" stroke="#333" stroke-width="2.2"/>
<line x1="128.9" y1="471.57" x2="141.9" y2="471.57" stroke="#333" stroke-width="2.2"/>
<line x1="128.9" y1="445.76" x2="141.9" y2="445.76" stroke="#333" stroke-width="2.2"/>
<line x1="128.9" y1="419.95" x2="153.4" y2="419.95" stroke="#000" stroke-width="4.2"/>
<line x1="128.9" y1="394.14" x2="141.9" y2="394.14" stroke="#333" stroke-width="2.2"/>
<line x1="128.9" y1="368.33" x2="141.9" y2="368.33" stroke="#333" stroke-width="2.2"/>
<line x1="128.9" y1="342.52" x2="141.9" y2="342.52" stroke="#333" stroke-width="2.2"/>
<line x1="128.9" y1="316.71" x2="141.9" y2="316.71" stroke="#333" stroke-width="2.2"/>
<line x1="128.9" y1="290.90" x2="153.4" y2="290.90" stroke="#000" stroke-width="4.2"/>
<line x1="128.9" y1="265.09" x2="141.9" y2="265.09" stroke="#333" stroke-width="2.2"/>
<line x1="128.9" y1="239.28" x2="141.9" y2="239.28" stroke="#333" stroke-width="2.2"/>
<line x1="128.9" y1="213.47" x2="141.9" y2="213.47" stroke="#333" stroke-width="2.2"/>
<line x1="128.9" y1="187.66" x2="141.9" y2="187.66" stroke="#333" stroke-width="2.2"/>
<line x1="128.9" y1="161.85" x2="153.4" y2="161.85" stroke="#000" stroke-width="4.2"/>
<line x1="128.9" y1="136.04" x2="141.9" y2="136.04" stroke="#333" stroke-width="2.2"/>
<line x1="128.9" y1="110.23" x2="141.9" y2="110.23" stroke="#333" stroke-width="2.2"/>
<line x1="128.9" y1="84.42" x2="141.9" y2="84.42" stroke="#333" stroke-width="2.2"/>
<line x1="128.9" y1="58.61" x2="141.9" y2="58.61" stroke="#333" stroke-width="2.2"/>
<line x1="128.9" y1="32.80" x2="153.4" y2="32.80" stroke="#000" stroke-width="4.2"/>
<line x1="161.70" y1="1064.6" x2="161.70" y2="1040.1" stroke="#000" stroke-width="4.2"/>
<line x1="226.40" y1="1064.6" x2="226.40" y2="1051.1" stroke="#222" stroke-width="2.4"/>
<line x1="291.11" y1="1064.6" x2="291.11" y2="1051.1" stroke="#222" stroke-width="2.4"/>
<line x1="355.81" y1="1064.6" x2="355.81" y2="1051.1" stroke="#222" stroke-width="2.4"/>
<line x1="420.52" y1="1064.6" x2="420.52" y2="1040.1" stroke="#000" stroke-width="4.2"/>
<line x1="485.22" y1="1064.6" x2="485.22" y2="1051.1" stroke="#222" stroke-width="2.4"/>
<line x1="549.93" y1="1064.6" x2="549.93" y2="1051.1" stroke="#222" stroke-width="2.4"/>
<line x1="614.63" y1="1064.6" x2="614.63" y2="1051.1" stroke="#222" stroke-width="2.4"/>
<line x1="679.34" y1="1064.6" x2="679.34" y2="1040.1" stroke="#000" stroke-width="4.2"/>
<line x1="744.05" y1="1064.6" x2="744.05" y2="1051.1" stroke="#222" stroke-width="2.4"/>
<line x1="808.75" y1="1064.6" x2="808.75" y2="1051.1" stroke="#222" stroke-width="2.4"/>
<line x1="873.45" y1="1064.6" x2="873.45" y2="1051.1" stroke="#222" stroke-width="2.4"/>
<line x1="938.16" y1="1064.6" x2="938.16" y2="1040.1" stroke="#000" stroke-width="4.2"/>
<line x1="1002.87" y1="1064.6" x2="1002.87" y2="1051.1" stroke="#222" stroke-width="2.4"/>
<line x1="1067.57" y1="1064.6" x2="1067.57" y2="1051.1" stroke="#222" stroke-width="2.4"/>
<line x1="1132.27" y1="1064.6" x2="1132.27" y2="1051.1" stroke="#222" stroke-width="2.4"/>
<line x1="1196.98" y1="1064.6" x2="1196.98" y2="1040.1" stroke="#000" stroke-width="4.2"/>
<line x1="1261.68" y1="1064.6" x2="1261.68" y2="1051.1" stroke="#222" stroke-width="2.4"/>
<line x1="1326.39" y1="1064.6" x2="1326.39" y2="1051.1" stroke="#222" stroke-width="2.4"/>
<line x1="1391.10" y1="1064.6" x2="1391.10" y2="1051.1" stroke="#222" stroke-width="2.4"/>
<line x1="1455.80" y1="1064.6" x2="1455.80" y2="1040.1" stroke="#000" stroke-width="4.2"/>
<g fill="#000">
<rect x="126.90" y="30.40" width="1331.10" height="4.00"/>
<rect x="126.90" y="1062.40" width="1331.10" height="5.20"/>
<rect x="126.90" y="30.40" width="4.00" height="1037.20"/>
<rect x="1453.40" y="30.40" width="4.60" height="1037.20"/>
</g>
<rect x="1450.5" y="261.5" width="9" height="9" fill="#000"/>
<rect x="1450.5" y="350.0" width="9" height="9" fill="#000"/>
<line x1="373.5" y1="85.5" x2="285.6" y2="219.3" stroke="#2828ff" stroke-width="3.8"/>
<polygon points="276.8,232.7 278.7,212.4 294.6,222.9" fill="#2828ff"/>
<line x1="761.3" y1="84.6" x2="670.8" y2="421.5" stroke="#2828ff" stroke-width="3.8"/>
<polygon points="666.6,437.0 662.1,417.2 680.4,422.1" fill="#2828ff"/>
<line x1="1143.8" y1="82.2" x2="1070.9" y2="136.3" stroke="#2828ff" stroke-width="3.8"/>
<polygon points="1058.1,145.8 1066.9,127.4 1078.2,142.7" fill="#2828ff"/>
</g>
</svg>
<div class="yl" style="top:32.8px">2</div>
<div class="yl" style="top:161.8px">1.5</div>
<div class="yl" style="top:290.9px">1</div>
<div class="yl" style="top:419.9px">0.5</div>
<div class="yl" style="top:549.0px">0</div>
<div class="yl" style="top:678.0px">-0.5</div>
<div class="yl" style="top:807.1px">-1</div>
<div class="yl" style="top:936.2px">-1.5</div>
<div class="yl" style="top:1065.2px">-2</div>
<div class="xl" style="left:61.7px">0</div>
<div class="xl" style="left:320.5px">2</div>
<div class="xl" style="left:579.3px">4</div>
<div class="xl" style="left:838.2px">6</div>
<div class="xl" style="left:1097.0px">8</div>
<div class="xl" style="left:1355.8px">10</div>
<div class="ann" style="left:371.5px;top:66px">Pressure</div>
<div class="ann" style="left:747px;top:66px">Viscous</div>
<div class="ann" style="left:1140.5px;top:66px">Total</div>
<div style="position:absolute;left:761px;top:1138px;font-style:italic;font-size:41.5px;line-height:0;">t(T)</div>
<div style="position:absolute;left:20.5px;top:563px;transform:rotate(-90deg);transform-origin:0 0;white-space:nowrap;line-height:0;"><span style="font-style:italic;font-size:47px;">C</span><span style="font-size:25.5px;position:relative;top:9px;margin-left:-1.2px;">F</span></div>
</body></html>
